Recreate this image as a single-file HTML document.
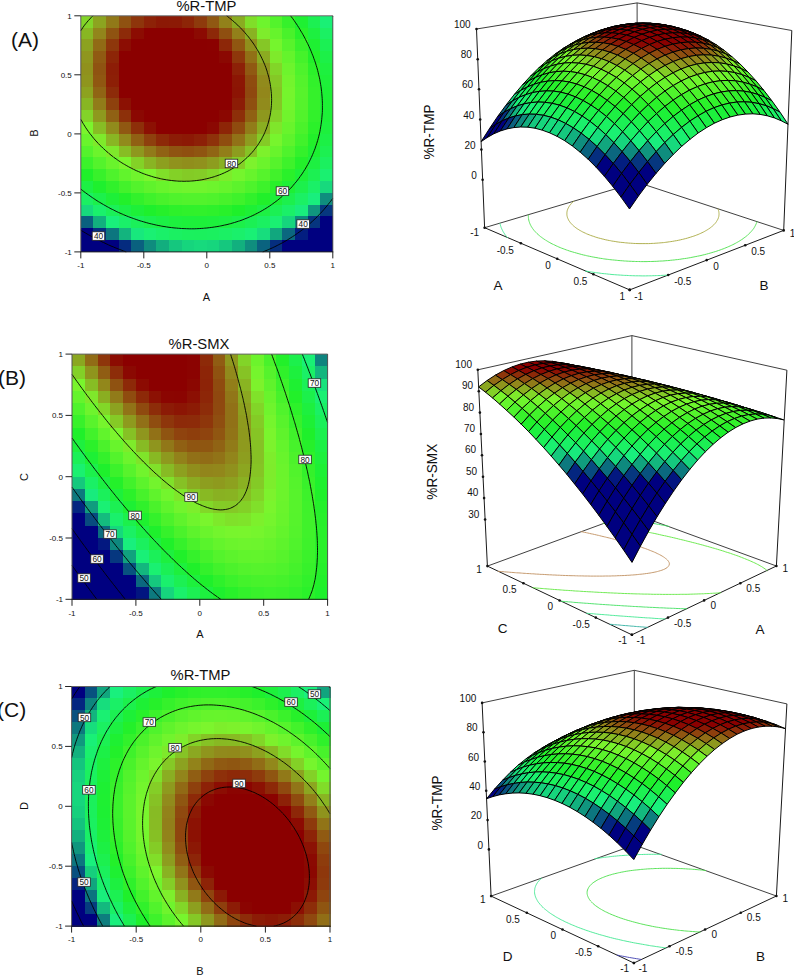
<!DOCTYPE html><html><head><meta charset="utf-8"><title>Response surfaces</title><style>html,body{margin:0;padding:0;background:#fff}body{width:794px;height:975px;overflow:hidden}</style></head><body><svg width="794" height="975" viewBox="0 0 794 975" style="display:block">
<rect x="0" y="0" width="794" height="975" fill="#ffffff"/>
<g shape-rendering="crispEdges"><rect x="80.80" y="15.80" width="13.20" height="12.40" fill="#82d428"/><rect x="93.40" y="15.80" width="13.20" height="12.40" fill="#8ca420"/><rect x="106.00" y="15.80" width="13.20" height="12.40" fill="#917918"/><rect x="118.60" y="15.80" width="13.20" height="12.40" fill="#8f5211"/><rect x="131.20" y="15.80" width="13.20" height="12.40" fill="#8e350b"/><rect x="143.80" y="15.80" width="13.20" height="12.40" fill="#8d2207"/><rect x="156.40" y="15.80" width="13.20" height="12.40" fill="#8c1905"/><rect x="169.00" y="15.80" width="13.20" height="12.40" fill="#8c1a05"/><rect x="181.60" y="15.80" width="13.20" height="12.40" fill="#8d2507"/><rect x="194.20" y="15.80" width="13.20" height="12.40" fill="#8e3a0c"/><rect x="206.80" y="15.80" width="13.20" height="12.40" fill="#905812"/><rect x="219.40" y="15.80" width="13.20" height="12.40" fill="#92811a"/><rect x="232.00" y="15.80" width="13.20" height="12.40" fill="#8aac21"/><rect x="244.60" y="15.80" width="13.20" height="12.40" fill="#80de29"/><rect x="257.20" y="15.80" width="13.20" height="12.40" fill="#6ef42d"/><rect x="269.80" y="15.80" width="13.20" height="12.40" fill="#53f32c"/><rect x="282.40" y="15.80" width="13.20" height="12.40" fill="#36f12b"/><rect x="295.00" y="15.80" width="13.20" height="12.40" fill="#1ef032"/><rect x="307.60" y="15.80" width="13.20" height="12.40" fill="#1cf052"/><rect x="320.20" y="15.80" width="13.20" height="12.40" fill="#1af075"/><rect x="80.80" y="27.61" width="13.20" height="12.40" fill="#88b723"/><rect x="93.40" y="27.61" width="13.20" height="12.40" fill="#92851b"/><rect x="106.00" y="27.61" width="13.20" height="12.40" fill="#8f5311"/><rect x="118.60" y="27.61" width="13.20" height="12.40" fill="#8d2b09"/><rect x="131.20" y="27.61" width="13.20" height="12.40" fill="#8c0c02"/><rect x="143.80" y="27.61" width="13.20" height="12.40" fill="#8b0000"/><rect x="156.40" y="27.61" width="13.20" height="12.40" fill="#8b0000"/><rect x="169.00" y="27.61" width="13.20" height="12.40" fill="#8b0000"/><rect x="181.60" y="27.61" width="13.20" height="12.40" fill="#8b0000"/><rect x="194.20" y="27.61" width="13.20" height="12.40" fill="#8c0a02"/><rect x="206.80" y="27.61" width="13.20" height="12.40" fill="#8d2808"/><rect x="219.40" y="27.61" width="13.20" height="12.40" fill="#8f4f10"/><rect x="232.00" y="27.61" width="13.20" height="12.40" fill="#92801a"/><rect x="244.60" y="27.61" width="13.20" height="12.40" fill="#89b222"/><rect x="257.20" y="27.61" width="13.20" height="12.40" fill="#7eec2c"/><rect x="269.80" y="27.61" width="13.20" height="12.40" fill="#66f42c"/><rect x="282.40" y="27.61" width="13.20" height="12.40" fill="#49f22b"/><rect x="295.00" y="27.61" width="13.20" height="12.40" fill="#28f12a"/><rect x="307.60" y="27.61" width="13.20" height="12.40" fill="#1df040"/><rect x="320.20" y="27.61" width="13.20" height="12.40" fill="#1bf063"/><rect x="80.80" y="39.41" width="13.20" height="12.40" fill="#8ca220"/><rect x="93.40" y="39.41" width="13.20" height="12.40" fill="#916b15"/><rect x="106.00" y="39.41" width="13.20" height="12.40" fill="#8e370b"/><rect x="118.60" y="39.41" width="13.20" height="12.40" fill="#8c0d03"/><rect x="131.20" y="39.41" width="13.20" height="12.40" fill="#8b0000"/><rect x="143.80" y="39.41" width="13.20" height="12.40" fill="#8b0000"/><rect x="156.40" y="39.41" width="13.20" height="12.40" fill="#8b0000"/><rect x="169.00" y="39.41" width="13.20" height="12.40" fill="#8b0000"/><rect x="181.60" y="39.41" width="13.20" height="12.40" fill="#8b0000"/><rect x="194.20" y="39.41" width="13.20" height="12.40" fill="#8b0000"/><rect x="206.80" y="39.41" width="13.20" height="12.40" fill="#8b0100"/><rect x="219.40" y="39.41" width="13.20" height="12.40" fill="#8d2708"/><rect x="232.00" y="39.41" width="13.20" height="12.40" fill="#905711"/><rect x="244.60" y="39.41" width="13.20" height="12.40" fill="#908f1c"/><rect x="257.20" y="39.41" width="13.20" height="12.40" fill="#85c726"/><rect x="269.80" y="39.41" width="13.20" height="12.40" fill="#75f52d"/><rect x="282.40" y="39.41" width="13.20" height="12.40" fill="#58f32c"/><rect x="295.00" y="39.41" width="13.20" height="12.40" fill="#38f12b"/><rect x="307.60" y="39.41" width="13.20" height="12.40" fill="#1ef032"/><rect x="320.20" y="39.41" width="13.20" height="12.40" fill="#1bf054"/><rect x="80.80" y="51.22" width="13.20" height="12.40" fill="#8f961e"/><rect x="93.40" y="51.22" width="13.20" height="12.40" fill="#905a12"/><rect x="106.00" y="51.22" width="13.20" height="12.40" fill="#8d2507"/><rect x="118.60" y="51.22" width="13.20" height="12.40" fill="#8b0000"/><rect x="131.20" y="51.22" width="13.20" height="12.40" fill="#8b0000"/><rect x="143.80" y="51.22" width="13.20" height="12.40" fill="#8b0000"/><rect x="156.40" y="51.22" width="13.20" height="12.40" fill="#8b0000"/><rect x="169.00" y="51.22" width="13.20" height="12.40" fill="#8b0000"/><rect x="181.60" y="51.22" width="13.20" height="12.40" fill="#8b0000"/><rect x="194.20" y="51.22" width="13.20" height="12.40" fill="#8b0000"/><rect x="206.80" y="51.22" width="13.20" height="12.40" fill="#8b0000"/><rect x="219.40" y="51.22" width="13.20" height="12.40" fill="#8b0802"/><rect x="232.00" y="51.22" width="13.20" height="12.40" fill="#8e370b"/><rect x="244.60" y="51.22" width="13.20" height="12.40" fill="#917016"/><rect x="257.20" y="51.22" width="13.20" height="12.40" fill="#8bab21"/><rect x="269.80" y="51.22" width="13.20" height="12.40" fill="#7eea2b"/><rect x="282.40" y="51.22" width="13.20" height="12.40" fill="#64f42c"/><rect x="295.00" y="51.22" width="13.20" height="12.40" fill="#45f22b"/><rect x="307.60" y="51.22" width="13.20" height="12.40" fill="#22f02a"/><rect x="320.20" y="51.22" width="13.20" height="12.40" fill="#1cf048"/><rect x="80.80" y="63.02" width="13.20" height="12.40" fill="#90911d"/><rect x="93.40" y="63.02" width="13.20" height="12.40" fill="#8f5311"/><rect x="106.00" y="63.02" width="13.20" height="12.40" fill="#8d1d06"/><rect x="118.60" y="63.02" width="13.20" height="12.40" fill="#8b0000"/><rect x="131.20" y="63.02" width="13.20" height="12.40" fill="#8b0000"/><rect x="143.80" y="63.02" width="13.20" height="12.40" fill="#8b0000"/><rect x="156.40" y="63.02" width="13.20" height="12.40" fill="#8b0000"/><rect x="169.00" y="63.02" width="13.20" height="12.40" fill="#8b0000"/><rect x="181.60" y="63.02" width="13.20" height="12.40" fill="#8b0000"/><rect x="194.20" y="63.02" width="13.20" height="12.40" fill="#8b0000"/><rect x="206.80" y="63.02" width="13.20" height="12.40" fill="#8b0000"/><rect x="219.40" y="63.02" width="13.20" height="12.40" fill="#8b0000"/><rect x="232.00" y="63.02" width="13.20" height="12.40" fill="#8d2107"/><rect x="244.60" y="63.02" width="13.20" height="12.40" fill="#905912"/><rect x="257.20" y="63.02" width="13.20" height="12.40" fill="#8f961e"/><rect x="269.80" y="63.02" width="13.20" height="12.40" fill="#82d528"/><rect x="282.40" y="63.02" width="13.20" height="12.40" fill="#6df42d"/><rect x="295.00" y="63.02" width="13.20" height="12.40" fill="#4ef32c"/><rect x="307.60" y="63.02" width="13.20" height="12.40" fill="#2cf12a"/><rect x="320.20" y="63.02" width="13.20" height="12.40" fill="#1df03f"/><rect x="80.80" y="74.83" width="13.20" height="12.40" fill="#8f951d"/><rect x="93.40" y="74.83" width="13.20" height="12.40" fill="#905711"/><rect x="106.00" y="74.83" width="13.20" height="12.40" fill="#8d1f06"/><rect x="118.60" y="74.83" width="13.20" height="12.40" fill="#8b0000"/><rect x="131.20" y="74.83" width="13.20" height="12.40" fill="#8b0000"/><rect x="143.80" y="74.83" width="13.20" height="12.40" fill="#8b0000"/><rect x="156.40" y="74.83" width="13.20" height="12.40" fill="#8b0000"/><rect x="169.00" y="74.83" width="13.20" height="12.40" fill="#8b0000"/><rect x="181.60" y="74.83" width="13.20" height="12.40" fill="#8b0000"/><rect x="194.20" y="74.83" width="13.20" height="12.40" fill="#8b0000"/><rect x="206.80" y="74.83" width="13.20" height="12.40" fill="#8b0000"/><rect x="219.40" y="74.83" width="13.20" height="12.40" fill="#8b0000"/><rect x="232.00" y="74.83" width="13.20" height="12.40" fill="#8c1604"/><rect x="244.60" y="74.83" width="13.20" height="12.40" fill="#8f4b0f"/><rect x="257.20" y="74.83" width="13.20" height="12.40" fill="#918a1c"/><rect x="269.80" y="74.83" width="13.20" height="12.40" fill="#85c826"/><rect x="282.40" y="74.83" width="13.20" height="12.40" fill="#73f42d"/><rect x="295.00" y="74.83" width="13.20" height="12.40" fill="#54f32c"/><rect x="307.60" y="74.83" width="13.20" height="12.40" fill="#32f12b"/><rect x="320.20" y="74.83" width="13.20" height="12.40" fill="#1df039"/><rect x="80.80" y="86.63" width="13.20" height="12.40" fill="#8da21f"/><rect x="93.40" y="86.63" width="13.20" height="12.40" fill="#906414"/><rect x="106.00" y="86.63" width="13.20" height="12.40" fill="#8d2b09"/><rect x="118.60" y="86.63" width="13.20" height="12.40" fill="#8b0000"/><rect x="131.20" y="86.63" width="13.20" height="12.40" fill="#8b0000"/><rect x="143.80" y="86.63" width="13.20" height="12.40" fill="#8b0000"/><rect x="156.40" y="86.63" width="13.20" height="12.40" fill="#8b0000"/><rect x="169.00" y="86.63" width="13.20" height="12.40" fill="#8b0000"/><rect x="181.60" y="86.63" width="13.20" height="12.40" fill="#8b0000"/><rect x="194.20" y="86.63" width="13.20" height="12.40" fill="#8b0000"/><rect x="206.80" y="86.63" width="13.20" height="12.40" fill="#8b0000"/><rect x="219.40" y="86.63" width="13.20" height="12.40" fill="#8b0000"/><rect x="232.00" y="86.63" width="13.20" height="12.40" fill="#8c1404"/><rect x="244.60" y="86.63" width="13.20" height="12.40" fill="#8f480f"/><rect x="257.20" y="86.63" width="13.20" height="12.40" fill="#92871b"/><rect x="269.80" y="86.63" width="13.20" height="12.40" fill="#86c325"/><rect x="282.40" y="86.63" width="13.20" height="12.40" fill="#75f52d"/><rect x="295.00" y="86.63" width="13.20" height="12.40" fill="#57f32c"/><rect x="307.60" y="86.63" width="13.20" height="12.40" fill="#35f12b"/><rect x="320.20" y="86.63" width="13.20" height="12.40" fill="#1df036"/><rect x="80.80" y="98.43" width="13.20" height="12.40" fill="#88b623"/><rect x="93.40" y="98.43" width="13.20" height="12.40" fill="#917c19"/><rect x="106.00" y="98.43" width="13.20" height="12.40" fill="#8e410d"/><rect x="118.60" y="98.43" width="13.20" height="12.40" fill="#8c1103"/><rect x="131.20" y="98.43" width="13.20" height="12.40" fill="#8b0000"/><rect x="143.80" y="98.43" width="13.20" height="12.40" fill="#8b0000"/><rect x="156.40" y="98.43" width="13.20" height="12.40" fill="#8b0000"/><rect x="169.00" y="98.43" width="13.20" height="12.40" fill="#8b0000"/><rect x="181.60" y="98.43" width="13.20" height="12.40" fill="#8b0000"/><rect x="194.20" y="98.43" width="13.20" height="12.40" fill="#8b0000"/><rect x="206.80" y="98.43" width="13.20" height="12.40" fill="#8b0000"/><rect x="219.40" y="98.43" width="13.20" height="12.40" fill="#8b0000"/><rect x="232.00" y="98.43" width="13.20" height="12.40" fill="#8c1c06"/><rect x="244.60" y="98.43" width="13.20" height="12.40" fill="#8f4f10"/><rect x="257.20" y="98.43" width="13.20" height="12.40" fill="#918b1c"/><rect x="269.80" y="98.43" width="13.20" height="12.40" fill="#85c625"/><rect x="282.40" y="98.43" width="13.20" height="12.40" fill="#74f52d"/><rect x="295.00" y="98.43" width="13.20" height="12.40" fill="#56f32c"/><rect x="307.60" y="98.43" width="13.20" height="12.40" fill="#35f12b"/><rect x="320.20" y="98.43" width="13.20" height="12.40" fill="#1df035"/><rect x="80.80" y="110.24" width="13.20" height="12.40" fill="#83d328"/><rect x="93.40" y="110.24" width="13.20" height="12.40" fill="#8e991e"/><rect x="106.00" y="110.24" width="13.20" height="12.40" fill="#906114"/><rect x="118.60" y="110.24" width="13.20" height="12.40" fill="#8d300a"/><rect x="131.20" y="110.24" width="13.20" height="12.40" fill="#8b0802"/><rect x="143.80" y="110.24" width="13.20" height="12.40" fill="#8b0000"/><rect x="156.40" y="110.24" width="13.20" height="12.40" fill="#8b0000"/><rect x="169.00" y="110.24" width="13.20" height="12.40" fill="#8b0000"/><rect x="181.60" y="110.24" width="13.20" height="12.40" fill="#8b0000"/><rect x="194.20" y="110.24" width="13.20" height="12.40" fill="#8b0000"/><rect x="206.80" y="110.24" width="13.20" height="12.40" fill="#8b0000"/><rect x="219.40" y="110.24" width="13.20" height="12.40" fill="#8b0701"/><rect x="232.00" y="110.24" width="13.20" height="12.40" fill="#8d2f09"/><rect x="244.60" y="110.24" width="13.20" height="12.40" fill="#906113"/><rect x="257.20" y="110.24" width="13.20" height="12.40" fill="#8e981e"/><rect x="269.80" y="110.24" width="13.20" height="12.40" fill="#83d227"/><rect x="282.40" y="110.24" width="13.20" height="12.40" fill="#70f42d"/><rect x="295.00" y="110.24" width="13.20" height="12.40" fill="#52f32c"/><rect x="307.60" y="110.24" width="13.20" height="12.40" fill="#32f12b"/><rect x="320.20" y="110.24" width="13.20" height="12.40" fill="#1df038"/><rect x="80.80" y="122.05" width="13.20" height="12.40" fill="#7bf52d"/><rect x="93.40" y="122.05" width="13.20" height="12.40" fill="#87bd24"/><rect x="106.00" y="122.05" width="13.20" height="12.40" fill="#918b1c"/><rect x="118.60" y="122.05" width="13.20" height="12.40" fill="#905812"/><rect x="131.20" y="122.05" width="13.20" height="12.40" fill="#8d2f09"/><rect x="143.80" y="122.05" width="13.20" height="12.40" fill="#8c1003"/><rect x="156.40" y="122.05" width="13.20" height="12.40" fill="#8b0000"/><rect x="169.00" y="122.05" width="13.20" height="12.40" fill="#8b0000"/><rect x="181.60" y="122.05" width="13.20" height="12.40" fill="#8b0000"/><rect x="194.20" y="122.05" width="13.20" height="12.40" fill="#8b0000"/><rect x="206.80" y="122.05" width="13.20" height="12.40" fill="#8b0802"/><rect x="219.40" y="122.05" width="13.20" height="12.40" fill="#8d2507"/><rect x="232.00" y="122.05" width="13.20" height="12.40" fill="#8f4b0f"/><rect x="244.60" y="122.05" width="13.20" height="12.40" fill="#917c19"/><rect x="257.20" y="122.05" width="13.20" height="12.40" fill="#8aae21"/><rect x="269.80" y="122.05" width="13.20" height="12.40" fill="#7fe62b"/><rect x="282.40" y="122.05" width="13.20" height="12.40" fill="#68f42c"/><rect x="295.00" y="122.05" width="13.20" height="12.40" fill="#4bf22b"/><rect x="307.60" y="122.05" width="13.20" height="12.40" fill="#2bf12a"/><rect x="320.20" y="122.05" width="13.20" height="12.40" fill="#1df03d"/><rect x="80.80" y="133.85" width="13.20" height="12.40" fill="#69f42c"/><rect x="93.40" y="133.85" width="13.20" height="12.40" fill="#7eea2b"/><rect x="106.00" y="133.85" width="13.20" height="12.40" fill="#89b623"/><rect x="118.60" y="133.85" width="13.20" height="12.40" fill="#918a1c"/><rect x="131.20" y="133.85" width="13.20" height="12.40" fill="#906013"/><rect x="143.80" y="133.85" width="13.20" height="12.40" fill="#8e400d"/><rect x="156.40" y="133.85" width="13.20" height="12.40" fill="#8d2908"/><rect x="169.00" y="133.85" width="13.20" height="12.40" fill="#8c1c06"/><rect x="181.60" y="133.85" width="13.20" height="12.40" fill="#8c1905"/><rect x="194.20" y="133.85" width="13.20" height="12.40" fill="#8d2007"/><rect x="206.80" y="133.85" width="13.20" height="12.40" fill="#8e320a"/><rect x="219.40" y="133.85" width="13.20" height="12.40" fill="#8f4d0f"/><rect x="232.00" y="133.85" width="13.20" height="12.40" fill="#917217"/><rect x="244.60" y="133.85" width="13.20" height="12.40" fill="#8e9c1f"/><rect x="257.20" y="133.85" width="13.20" height="12.40" fill="#84cb26"/><rect x="269.80" y="133.85" width="13.20" height="12.40" fill="#77f52d"/><rect x="282.40" y="133.85" width="13.20" height="12.40" fill="#5ef32c"/><rect x="295.00" y="133.85" width="13.20" height="12.40" fill="#41f22b"/><rect x="307.60" y="133.85" width="13.20" height="12.40" fill="#22f02a"/><rect x="320.20" y="133.85" width="13.20" height="12.40" fill="#1cf046"/><rect x="80.80" y="145.66" width="13.20" height="12.40" fill="#54f32c"/><rect x="93.40" y="145.66" width="13.20" height="12.40" fill="#6cf42c"/><rect x="106.00" y="145.66" width="13.20" height="12.40" fill="#7ee92b"/><rect x="118.60" y="145.66" width="13.20" height="12.40" fill="#87bd24"/><rect x="131.20" y="145.66" width="13.20" height="12.40" fill="#8e981e"/><rect x="143.80" y="145.66" width="13.20" height="12.40" fill="#917a19"/><rect x="156.40" y="145.66" width="13.20" height="12.40" fill="#906214"/><rect x="169.00" y="145.66" width="13.20" height="12.40" fill="#8f5311"/><rect x="181.60" y="145.66" width="13.20" height="12.40" fill="#8f4f10"/><rect x="194.20" y="145.66" width="13.20" height="12.40" fill="#8f5511"/><rect x="206.80" y="145.66" width="13.20" height="12.40" fill="#906514"/><rect x="219.40" y="145.66" width="13.20" height="12.40" fill="#927e19"/><rect x="232.00" y="145.66" width="13.20" height="12.40" fill="#8d9d1f"/><rect x="244.60" y="145.66" width="13.20" height="12.40" fill="#86c325"/><rect x="257.20" y="145.66" width="13.20" height="12.40" fill="#7df12c"/><rect x="269.80" y="145.66" width="13.20" height="12.40" fill="#68f42c"/><rect x="282.40" y="145.66" width="13.20" height="12.40" fill="#4ff32c"/><rect x="295.00" y="145.66" width="13.20" height="12.40" fill="#34f12b"/><rect x="307.60" y="145.66" width="13.20" height="12.40" fill="#1df032"/><rect x="320.20" y="145.66" width="13.20" height="12.40" fill="#1cf051"/><rect x="80.80" y="157.46" width="13.20" height="12.40" fill="#3bf22b"/><rect x="93.40" y="157.46" width="13.20" height="12.40" fill="#54f32c"/><rect x="106.00" y="157.46" width="13.20" height="12.40" fill="#69f42c"/><rect x="118.60" y="157.46" width="13.20" height="12.40" fill="#7bf52d"/><rect x="131.20" y="157.46" width="13.20" height="12.40" fill="#83d227"/><rect x="143.80" y="157.46" width="13.20" height="12.40" fill="#89b423"/><rect x="156.40" y="157.46" width="13.20" height="12.40" fill="#8d9f1f"/><rect x="169.00" y="157.46" width="13.20" height="12.40" fill="#90921d"/><rect x="181.60" y="157.46" width="13.20" height="12.40" fill="#908e1c"/><rect x="194.20" y="157.46" width="13.20" height="12.40" fill="#90911d"/><rect x="206.80" y="157.46" width="13.20" height="12.40" fill="#8d9d1f"/><rect x="219.40" y="157.46" width="13.20" height="12.40" fill="#89b122"/><rect x="232.00" y="157.46" width="13.20" height="12.40" fill="#84ce27"/><rect x="244.60" y="157.46" width="13.20" height="12.40" fill="#7df22d"/><rect x="257.20" y="157.46" width="13.20" height="12.40" fill="#6bf42c"/><rect x="269.80" y="157.46" width="13.20" height="12.40" fill="#56f32c"/><rect x="282.40" y="157.46" width="13.20" height="12.40" fill="#3ef22b"/><rect x="295.00" y="157.46" width="13.20" height="12.40" fill="#23f02a"/><rect x="307.60" y="157.46" width="13.20" height="12.40" fill="#1df041"/><rect x="320.20" y="157.46" width="13.20" height="12.40" fill="#1bf05f"/><rect x="80.80" y="169.27" width="13.20" height="12.40" fill="#1ff02a"/><rect x="93.40" y="169.27" width="13.20" height="12.40" fill="#38f12b"/><rect x="106.00" y="169.27" width="13.20" height="12.40" fill="#4ef32c"/><rect x="118.60" y="169.27" width="13.20" height="12.40" fill="#61f42c"/><rect x="131.20" y="169.27" width="13.20" height="12.40" fill="#70f42d"/><rect x="143.80" y="169.27" width="13.20" height="12.40" fill="#7cf52d"/><rect x="156.40" y="169.27" width="13.20" height="12.40" fill="#80df29"/><rect x="169.00" y="169.27" width="13.20" height="12.40" fill="#83d127"/><rect x="181.60" y="169.27" width="13.20" height="12.40" fill="#84cb26"/><rect x="194.20" y="169.27" width="13.20" height="12.40" fill="#84cd27"/><rect x="206.80" y="169.27" width="13.20" height="12.40" fill="#82d828"/><rect x="219.40" y="169.27" width="13.20" height="12.40" fill="#7eeb2b"/><rect x="232.00" y="169.27" width="13.20" height="12.40" fill="#75f52d"/><rect x="244.60" y="169.27" width="13.20" height="12.40" fill="#67f42c"/><rect x="257.20" y="169.27" width="13.20" height="12.40" fill="#56f32c"/><rect x="269.80" y="169.27" width="13.20" height="12.40" fill="#41f22b"/><rect x="282.40" y="169.27" width="13.20" height="12.40" fill="#2af12a"/><rect x="295.00" y="169.27" width="13.20" height="12.40" fill="#1df038"/><rect x="307.60" y="169.27" width="13.20" height="12.40" fill="#1cf052"/><rect x="320.20" y="169.27" width="13.20" height="12.40" fill="#1af070"/><rect x="80.80" y="181.07" width="13.20" height="12.40" fill="#1cf044"/><rect x="93.40" y="181.07" width="13.20" height="12.40" fill="#1ef02e"/><rect x="106.00" y="181.07" width="13.20" height="12.40" fill="#30f12b"/><rect x="118.60" y="181.07" width="13.20" height="12.40" fill="#43f22b"/><rect x="131.20" y="181.07" width="13.20" height="12.40" fill="#53f32c"/><rect x="143.80" y="181.07" width="13.20" height="12.40" fill="#5ff32c"/><rect x="156.40" y="181.07" width="13.20" height="12.40" fill="#68f42c"/><rect x="169.00" y="181.07" width="13.20" height="12.40" fill="#6ef42d"/><rect x="181.60" y="181.07" width="13.20" height="12.40" fill="#71f42d"/><rect x="194.20" y="181.07" width="13.20" height="12.40" fill="#71f42d"/><rect x="206.80" y="181.07" width="13.20" height="12.40" fill="#6df42d"/><rect x="219.40" y="181.07" width="13.20" height="12.40" fill="#66f42c"/><rect x="232.00" y="181.07" width="13.20" height="12.40" fill="#5cf32c"/><rect x="244.60" y="181.07" width="13.20" height="12.40" fill="#4ef32c"/><rect x="257.20" y="181.07" width="13.20" height="12.40" fill="#3df22b"/><rect x="269.80" y="181.07" width="13.20" height="12.40" fill="#29f12a"/><rect x="282.40" y="181.07" width="13.20" height="12.40" fill="#1df035"/><rect x="295.00" y="181.07" width="13.20" height="12.40" fill="#1cf04c"/><rect x="307.60" y="181.07" width="13.20" height="12.40" fill="#1af067"/><rect x="320.20" y="181.07" width="13.20" height="12.40" fill="#17d97d"/><rect x="80.80" y="192.88" width="13.20" height="12.40" fill="#1bf062"/><rect x="93.40" y="192.88" width="13.20" height="12.40" fill="#1cf04c"/><rect x="106.00" y="192.88" width="13.20" height="12.40" fill="#1df038"/><rect x="118.60" y="192.88" width="13.20" height="12.40" fill="#22f02a"/><rect x="131.20" y="192.88" width="13.20" height="12.40" fill="#32f12b"/><rect x="143.80" y="192.88" width="13.20" height="12.40" fill="#3ff22b"/><rect x="156.40" y="192.88" width="13.20" height="12.40" fill="#49f22b"/><rect x="169.00" y="192.88" width="13.20" height="12.40" fill="#4ff32c"/><rect x="181.60" y="192.88" width="13.20" height="12.40" fill="#52f32c"/><rect x="194.20" y="192.88" width="13.20" height="12.40" fill="#52f32c"/><rect x="206.80" y="192.88" width="13.20" height="12.40" fill="#4ff32c"/><rect x="219.40" y="192.88" width="13.20" height="12.40" fill="#48f22b"/><rect x="232.00" y="192.88" width="13.20" height="12.40" fill="#3ff22b"/><rect x="244.60" y="192.88" width="13.20" height="12.40" fill="#31f12b"/><rect x="257.20" y="192.88" width="13.20" height="12.40" fill="#21f02a"/><rect x="269.80" y="192.88" width="13.20" height="12.40" fill="#1df039"/><rect x="282.40" y="192.88" width="13.20" height="12.40" fill="#1cf04d"/><rect x="295.00" y="192.88" width="13.20" height="12.40" fill="#1bf064"/><rect x="307.60" y="192.88" width="13.20" height="12.40" fill="#19ee7d"/><rect x="320.20" y="192.88" width="13.20" height="12.40" fill="#0f8d7e"/><rect x="80.80" y="204.68" width="13.20" height="12.40" fill="#17da7d"/><rect x="93.40" y="204.68" width="13.20" height="12.40" fill="#1af06c"/><rect x="106.00" y="204.68" width="13.20" height="12.40" fill="#1bf058"/><rect x="118.60" y="204.68" width="13.20" height="12.40" fill="#1cf046"/><rect x="131.20" y="204.68" width="13.20" height="12.40" fill="#1df038"/><rect x="143.80" y="204.68" width="13.20" height="12.40" fill="#1ef02c"/><rect x="156.40" y="204.68" width="13.20" height="12.40" fill="#26f02a"/><rect x="169.00" y="204.68" width="13.20" height="12.40" fill="#2df12a"/><rect x="181.60" y="204.68" width="13.20" height="12.40" fill="#30f12b"/><rect x="194.20" y="204.68" width="13.20" height="12.40" fill="#31f12b"/><rect x="206.80" y="204.68" width="13.20" height="12.40" fill="#2ef12b"/><rect x="219.40" y="204.68" width="13.20" height="12.40" fill="#28f12a"/><rect x="232.00" y="204.68" width="13.20" height="12.40" fill="#1ef02a"/><rect x="244.60" y="204.68" width="13.20" height="12.40" fill="#1df035"/><rect x="257.20" y="204.68" width="13.20" height="12.40" fill="#1df043"/><rect x="269.80" y="204.68" width="13.20" height="12.40" fill="#1bf054"/><rect x="282.40" y="204.68" width="13.20" height="12.40" fill="#1af068"/><rect x="295.00" y="204.68" width="13.20" height="12.40" fill="#19ec7d"/><rect x="307.60" y="204.68" width="13.20" height="12.40" fill="#10967e"/><rect x="320.20" y="204.68" width="13.20" height="12.40" fill="#06377f"/><rect x="80.80" y="216.49" width="13.20" height="12.40" fill="#0a617f"/><rect x="93.40" y="216.49" width="13.20" height="12.40" fill="#12b07e"/><rect x="106.00" y="216.49" width="13.20" height="12.40" fill="#19f07b"/><rect x="118.60" y="216.49" width="13.20" height="12.40" fill="#1af069"/><rect x="131.20" y="216.49" width="13.20" height="12.40" fill="#1bf05a"/><rect x="143.80" y="216.49" width="13.20" height="12.40" fill="#1cf04e"/><rect x="156.40" y="216.49" width="13.20" height="12.40" fill="#1cf045"/><rect x="169.00" y="216.49" width="13.20" height="12.40" fill="#1df03e"/><rect x="181.60" y="216.49" width="13.20" height="12.40" fill="#1df03b"/><rect x="194.20" y="216.49" width="13.20" height="12.40" fill="#1df03a"/><rect x="206.80" y="216.49" width="13.20" height="12.40" fill="#1df03c"/><rect x="219.40" y="216.49" width="13.20" height="12.40" fill="#1df041"/><rect x="232.00" y="216.49" width="13.20" height="12.40" fill="#1cf049"/><rect x="244.60" y="216.49" width="13.20" height="12.40" fill="#1bf054"/><rect x="257.20" y="216.49" width="13.20" height="12.40" fill="#1bf061"/><rect x="269.80" y="216.49" width="13.20" height="12.40" fill="#1af072"/><rect x="282.40" y="216.49" width="13.20" height="12.40" fill="#16d47d"/><rect x="295.00" y="216.49" width="13.20" height="12.40" fill="#0e8a7e"/><rect x="307.60" y="216.49" width="13.20" height="12.40" fill="#06357f"/><rect x="320.20" y="216.49" width="13.20" height="12.40" fill="#000080"/><rect x="80.80" y="228.29" width="13.20" height="12.40" fill="#000080"/><rect x="93.40" y="228.29" width="13.20" height="12.40" fill="#052f7f"/><rect x="106.00" y="228.29" width="13.20" height="12.40" fill="#0c767f"/><rect x="118.60" y="228.29" width="13.20" height="12.40" fill="#13b47e"/><rect x="131.20" y="228.29" width="13.20" height="12.40" fill="#18e87d"/><rect x="143.80" y="228.29" width="13.20" height="12.40" fill="#1af073"/><rect x="156.40" y="228.29" width="13.20" height="12.40" fill="#1af069"/><rect x="169.00" y="228.29" width="13.20" height="12.40" fill="#1bf062"/><rect x="181.60" y="228.29" width="13.20" height="12.40" fill="#1bf05e"/><rect x="194.20" y="228.29" width="13.20" height="12.40" fill="#1bf05d"/><rect x="206.80" y="228.29" width="13.20" height="12.40" fill="#1bf05f"/><rect x="219.40" y="228.29" width="13.20" height="12.40" fill="#1bf064"/><rect x="232.00" y="228.29" width="13.20" height="12.40" fill="#1af06b"/><rect x="244.60" y="228.29" width="13.20" height="12.40" fill="#19f075"/><rect x="257.20" y="228.29" width="13.20" height="12.40" fill="#17dd7d"/><rect x="269.80" y="228.29" width="13.20" height="12.40" fill="#11a77e"/><rect x="282.40" y="228.29" width="13.20" height="12.40" fill="#0b677f"/><rect x="295.00" y="228.29" width="13.20" height="12.40" fill="#031e80"/><rect x="307.60" y="228.29" width="13.20" height="12.40" fill="#000080"/><rect x="320.20" y="228.29" width="13.20" height="12.40" fill="#000080"/><rect x="80.80" y="240.09" width="13.20" height="12.40" fill="#000080"/><rect x="93.40" y="240.09" width="13.20" height="12.40" fill="#000080"/><rect x="106.00" y="240.09" width="13.20" height="12.40" fill="#000080"/><rect x="118.60" y="240.09" width="13.20" height="12.40" fill="#052b7f"/><rect x="131.20" y="240.09" width="13.20" height="12.40" fill="#0a617f"/><rect x="143.80" y="240.09" width="13.20" height="12.40" fill="#0f8c7e"/><rect x="156.40" y="240.09" width="13.20" height="12.40" fill="#12ae7e"/><rect x="169.00" y="240.09" width="13.20" height="12.40" fill="#15c77e"/><rect x="181.60" y="240.09" width="13.20" height="12.40" fill="#16d57d"/><rect x="194.20" y="240.09" width="13.20" height="12.40" fill="#17da7d"/><rect x="206.80" y="240.09" width="13.20" height="12.40" fill="#16d67d"/><rect x="219.40" y="240.09" width="13.20" height="12.40" fill="#15c87e"/><rect x="232.00" y="240.09" width="13.20" height="12.40" fill="#12b07e"/><rect x="244.60" y="240.09" width="13.20" height="12.40" fill="#0f8e7e"/><rect x="257.20" y="240.09" width="13.20" height="12.40" fill="#0a637f"/><rect x="269.80" y="240.09" width="13.20" height="12.40" fill="#052e7f"/><rect x="282.40" y="240.09" width="13.20" height="12.40" fill="#000080"/><rect x="295.00" y="240.09" width="13.20" height="12.40" fill="#000080"/><rect x="307.60" y="240.09" width="13.20" height="12.40" fill="#000080"/><rect x="320.20" y="240.09" width="13.20" height="12.40" fill="#000080"/></g>
<path d="M126.2,251.9 L126.2,251.9 L123.6,251.0 L121.1,250.0 L119.8,249.5 L118.6,249.1 L116.1,248.1 L113.9,247.2 L113.6,247.0 L111.0,246.0 L108.5,244.9 L108.4,244.8 L106.0,243.7 L103.5,242.5 L103.3,242.5 L101.0,241.3 L98.5,240.1 L98.4,240.1 L95.9,238.8 L93.9,237.7 L93.4,237.4 L90.9,236.1 L89.6,235.4 L88.4,234.7 L85.8,233.2 L85.5,233.0 L83.3,231.7 L81.6,230.7 L80.8,230.1" fill="none" stroke="#000" stroke-width="0.9"/>
<path d="M262.8,251.9 L264.8,251.1 L267.3,250.1 L268.6,249.5 L269.8,249.0 L272.3,247.9 L273.8,247.2 L274.8,246.7 L277.4,245.4 L278.5,244.8 L279.9,244.1 L282.4,242.8 L283.0,242.5 L284.9,241.4 L287.1,240.1 L287.4,239.9 L290.0,238.3 L290.9,237.7 L292.5,236.7 L294.5,235.4 L295.0,235.1 L297.5,233.3 L297.9,233.0 L300.0,231.5 L301.2,230.7 L302.6,229.6 L304.2,228.3 L305.1,227.6 L307.1,225.9 L307.6,225.5 L309.9,223.6 L310.1,223.4 L312.5,221.2 L312.6,221.1 L315.0,218.8 L315.2,218.7 L317.4,216.5 L317.7,216.2 L319.7,214.1 L320.2,213.6 L321.9,211.8 L322.7,210.9 L324.0,209.4 L325.2,208.0 L326.0,207.0 L327.8,204.9 L327.9,204.7 L329.8,202.3 L330.3,201.7 L331.6,200.0 L332.8,198.2" fill="none" stroke="#000" stroke-width="0.9"/>
<path d="M332.8,16.6 L332.3,15.8" fill="none" stroke="#000" stroke-width="0.9"/>
<path d="M80.8,189.1 L82.6,190.5 L83.3,191.1 L85.7,192.9 L85.8,193.0 L88.4,194.8 L88.9,195.2 L90.9,196.6 L92.3,197.6 L93.4,198.3 L95.9,200.0 L95.9,200.0 L98.4,201.6 L99.6,202.3 L101.0,203.1 L103.5,204.6 L103.6,204.7 L106.0,206.0 L107.8,207.0 L108.5,207.4 L111.0,208.8 L112.3,209.4 L113.6,210.0 L116.1,211.3 L117.1,211.8 L118.6,212.5 L121.1,213.6 L122.3,214.1 L123.6,214.7 L126.2,215.8 L128.0,216.5 L128.7,216.8 L131.2,217.7 L133.7,218.6 L134.3,218.8 L136.2,219.5 L138.8,220.4 L141.3,221.2 L141.4,221.2 L143.8,221.9 L146.3,222.6 L148.8,223.3 L149.9,223.6 L151.4,223.9 L153.9,224.5 L156.4,225.1 L158.9,225.6 L160.7,225.9 L161.4,226.1 L164.0,226.5 L166.5,226.9 L169.0,227.3 L171.5,227.6 L174.0,227.9 L176.6,228.1 L178.5,228.3 L179.1,228.3 L181.6,228.5 L184.1,228.6 L186.6,228.7 L189.2,228.8 L191.7,228.8 L194.2,228.8 L196.7,228.7 L199.2,228.6 L201.8,228.4 L203.6,228.3 L204.3,228.2 L206.8,228.0 L209.3,227.7 L211.8,227.4 L214.4,227.0 L216.9,226.6 L219.4,226.2 L220.7,225.9 L221.9,225.7 L224.4,225.1 L227.0,224.6 L229.5,223.9 L230.8,223.6 L232.0,223.2 L234.5,222.5 L237.0,221.7 L238.5,221.2 L239.6,220.9 L242.1,220.0 L244.6,219.0 L245.0,218.8 L247.1,218.0 L249.6,216.9 L250.6,216.5 L252.2,215.8 L254.7,214.6 L255.6,214.1 L257.2,213.3 L259.7,212.0 L260.1,211.8 L262.2,210.6 L264.2,209.4 L264.8,209.1 L267.3,207.5 L268.0,207.0 L269.8,205.9 L271.5,204.7 L272.3,204.1 L274.8,202.3 L274.8,202.3 L277.4,200.4 L277.9,200.0 L279.9,198.3 L280.7,197.6 L282.4,196.2 L283.4,195.2 L284.9,193.9 L286.0,192.9 L287.4,191.5 L288.4,190.5 L290.0,188.9 L290.7,188.2 L292.5,186.2 L292.8,185.8 L294.8,183.4 L295.0,183.2 L296.8,181.1 L297.5,180.1 L298.6,178.7 L300.0,176.8 L300.3,176.3 L302.0,174.0 L302.6,173.1 L303.5,171.6 L305.0,169.3 L305.1,169.2 L306.4,166.9 L307.6,164.8 L307.8,164.5 L309.0,162.2 L310.1,160.0 L310.2,159.8 L311.3,157.5 L312.4,155.1 L312.6,154.5 L313.4,152.7 L314.3,150.4 L315.2,148.2 L315.2,148.0 L316.0,145.7 L316.8,143.3 L317.5,140.9 L317.7,140.4 L318.2,138.6 L318.8,136.2 L319.4,133.9 L319.9,131.5 L320.2,129.8 L320.3,129.1 L320.7,126.8 L321.1,124.4 L321.4,122.0 L321.7,119.7 L321.9,117.3 L322.1,115.0 L322.3,112.6 L322.4,110.2 L322.4,107.9 L322.4,105.5 L322.4,103.2 L322.3,100.8 L322.2,98.4 L322.0,96.1 L321.8,93.7 L321.6,91.4 L321.3,89.0 L321.0,86.6 L320.6,84.3 L320.2,81.9 L320.2,81.8 L319.8,79.5 L319.3,77.2 L318.7,74.8 L318.2,72.5 L317.7,70.6 L317.6,70.1 L316.9,67.7 L316.2,65.4 L315.5,63.0 L315.2,62.1 L314.7,60.7 L313.8,58.3 L313.0,55.9 L312.6,55.1 L312.0,53.6 L311.1,51.2 L310.1,49.0 L310.1,48.9 L309.0,46.5 L307.9,44.1 L307.6,43.5 L306.7,41.8 L305.5,39.4 L305.1,38.5 L304.3,37.0 L303.0,34.7 L302.6,33.9 L301.6,32.3 L300.2,30.0 L300.0,29.6 L298.8,27.6 L297.5,25.6 L297.3,25.2 L295.7,22.9 L295.0,21.9 L294.1,20.5 L292.5,18.3 L292.4,18.2 L290.6,15.8" fill="none" stroke="#000" stroke-width="0.9"/>
<path d="M80.8,119.4 L81.0,119.7 L82.3,122.0 L83.3,123.8 L83.7,124.4 L85.2,126.8 L85.8,127.8 L86.7,129.1 L88.4,131.5 L88.4,131.5 L90.1,133.9 L90.9,134.8 L92.0,136.2 L93.4,138.0 L93.9,138.6 L95.9,140.9 L96.0,140.9 L98.1,143.3 L98.4,143.6 L100.4,145.7 L101.0,146.2 L102.8,148.0 L103.5,148.6 L105.4,150.4 L106.0,150.9 L108.1,152.7 L108.5,153.1 L111.0,155.1 L111.0,155.2 L113.6,157.1 L114.0,157.5 L116.1,158.9 L117.3,159.8 L118.6,160.7 L120.9,162.2 L121.1,162.4 L123.6,163.9 L124.7,164.5 L126.2,165.4 L128.7,166.8 L128.8,166.9 L131.2,168.1 L133.4,169.3 L133.7,169.4 L136.2,170.6 L138.6,171.6 L138.8,171.7 L141.3,172.8 L143.8,173.8 L144.4,174.0 L146.3,174.7 L148.8,175.5 L151.4,176.3 L151.4,176.3 L153.9,177.1 L156.4,177.7 L158.9,178.3 L160.6,178.7 L161.4,178.9 L164.0,179.4 L166.5,179.8 L169.0,180.2 L171.5,180.5 L174.0,180.8 L176.6,181.0 L177.6,181.1 L179.1,181.2 L181.6,181.2 L184.1,181.3 L186.6,181.2 L189.2,181.2 L190.6,181.1 L191.7,181.0 L194.2,180.8 L196.7,180.5 L199.2,180.2 L201.8,179.8 L204.3,179.3 L206.8,178.7 L207.0,178.7 L209.3,178.1 L211.8,177.4 L214.4,176.7 L215.3,176.3 L216.9,175.8 L219.4,174.9 L221.7,174.0 L221.9,173.9 L224.4,172.8 L226.9,171.6 L227.0,171.6 L229.5,170.3 L231.3,169.3 L232.0,168.9 L234.5,167.3 L235.2,166.9 L237.0,165.7 L238.6,164.5 L239.6,163.9 L241.8,162.2 L242.1,161.9 L244.6,159.8 L244.6,159.8 L247.1,157.5 L247.2,157.5 L249.6,155.1 L249.6,155.0 L251.8,152.7 L252.2,152.3 L253.8,150.4 L254.7,149.2 L255.6,148.0 L257.2,145.9 L257.4,145.7 L258.9,143.3 L259.7,142.1 L260.4,140.9 L261.8,138.6 L262.2,137.7 L263.0,136.2 L264.2,133.9 L264.8,132.5 L265.2,131.5 L266.2,129.1 L267.0,126.8 L267.3,126.0 L267.8,124.4 L268.5,122.0 L269.1,119.7 L269.7,117.3 L269.8,116.8 L270.2,115.0 L270.6,112.6 L270.9,110.2 L271.2,107.9 L271.4,105.5 L271.5,103.2 L271.6,100.8 L271.6,98.4 L271.5,96.1 L271.4,93.7 L271.2,91.4 L270.9,89.0 L270.6,86.6 L270.3,84.3 L269.8,81.9 L269.8,81.8 L269.3,79.5 L268.8,77.2 L268.1,74.8 L267.4,72.5 L267.3,71.9 L266.7,70.1 L265.9,67.7 L265.0,65.4 L264.8,64.8 L264.0,63.0 L263.0,60.7 L262.2,59.0 L261.9,58.3 L260.7,55.9 L259.7,54.0 L259.5,53.6 L258.2,51.2 L257.2,49.5 L256.8,48.9 L255.3,46.5 L254.7,45.5 L253.8,44.1 L252.2,41.8 L252.1,41.8 L250.4,39.4 L249.6,38.4 L248.6,37.0 L247.1,35.3 L246.6,34.7 L244.6,32.3 L244.6,32.3 L242.5,30.0 L242.1,29.6 L240.2,27.6 L239.6,27.0 L237.8,25.2 L237.0,24.5 L235.2,22.9 L234.5,22.2 L232.5,20.5 L232.0,20.1 L229.7,18.2 L229.5,18.0 L227.0,16.0 L226.6,15.8" fill="none" stroke="#000" stroke-width="0.9"/>
<path d="M80.8,30.7 L81.3,30.0 L82.8,27.6 L83.3,26.9 L84.5,25.2 L85.8,23.6 L86.4,22.9 L88.4,20.5 L88.4,20.5 L90.6,18.2 L90.9,17.8 L92.9,15.8" fill="none" stroke="#000" stroke-width="0.9"/>
<path d="M80.8,15.8 L332.8,15.8" stroke="#666" stroke-width="1" fill="none"/>
<path d="M80.8,15.8 L80.8,251.9" stroke="#555" stroke-width="1" fill="none"/>
<path d="M332.8,15.8 L332.8,251.9" stroke="#555" stroke-width="1" fill="none"/>
<path d="M80.3,251.9 L333.3,251.9" stroke="#222" stroke-width="1" fill="none"/>
<path d="M80.8,251.9 L80.8,258.4" stroke="#222" stroke-width="1"/>
<text x="80.8" y="268.2" font-size="8" text-anchor="middle" font-family="Liberation Sans, sans-serif" fill="#111">-1</text>
<path d="M74.3,251.9 L80.8,251.9" stroke="#222" stroke-width="1"/>
<text x="71.8" y="254.8" font-size="8" text-anchor="end" font-family="Liberation Sans, sans-serif" fill="#111">-1</text>
<path d="M143.8,251.9 L143.8,258.4" stroke="#222" stroke-width="1"/>
<text x="143.8" y="268.2" font-size="8" text-anchor="middle" font-family="Liberation Sans, sans-serif" fill="#111">-0.5</text>
<path d="M74.3,192.9 L80.8,192.9" stroke="#222" stroke-width="1"/>
<text x="71.8" y="195.8" font-size="8" text-anchor="end" font-family="Liberation Sans, sans-serif" fill="#111">-0.5</text>
<path d="M206.8,251.9 L206.8,258.4" stroke="#222" stroke-width="1"/>
<text x="206.8" y="268.2" font-size="8" text-anchor="middle" font-family="Liberation Sans, sans-serif" fill="#111">0</text>
<path d="M74.3,133.9 L80.8,133.9" stroke="#222" stroke-width="1"/>
<text x="71.8" y="136.8" font-size="8" text-anchor="end" font-family="Liberation Sans, sans-serif" fill="#111">0</text>
<path d="M269.8,251.9 L269.8,258.4" stroke="#222" stroke-width="1"/>
<text x="269.8" y="268.2" font-size="8" text-anchor="middle" font-family="Liberation Sans, sans-serif" fill="#111">0.5</text>
<path d="M74.3,74.8 L80.8,74.8" stroke="#222" stroke-width="1"/>
<text x="71.8" y="77.7" font-size="8" text-anchor="end" font-family="Liberation Sans, sans-serif" fill="#111">0.5</text>
<path d="M332.8,251.9 L332.8,258.4" stroke="#222" stroke-width="1"/>
<text x="332.8" y="268.2" font-size="8" text-anchor="middle" font-family="Liberation Sans, sans-serif" fill="#111">1</text>
<path d="M74.3,15.8 L80.8,15.8" stroke="#222" stroke-width="1"/>
<text x="71.8" y="18.7" font-size="8" text-anchor="end" font-family="Liberation Sans, sans-serif" fill="#111">1</text>
<rect x="225.2" y="159.2" width="12.5" height="8.5" fill="#fff" stroke="#222" stroke-width="0.8"/>
<text x="231.5" y="166.5" font-size="8.3" text-anchor="middle" font-family="Liberation Sans, sans-serif" fill="#111">80</text>
<rect x="276.2" y="186.8" width="12.5" height="8.5" fill="#fff" stroke="#222" stroke-width="0.8"/>
<text x="282.5" y="194.0" font-size="8.3" text-anchor="middle" font-family="Liberation Sans, sans-serif" fill="#111">60</text>
<rect x="296.9" y="219.8" width="12.5" height="8.5" fill="#fff" stroke="#222" stroke-width="0.8"/>
<text x="303.2" y="227.0" font-size="8.3" text-anchor="middle" font-family="Liberation Sans, sans-serif" fill="#111">40</text>
<rect x="92.2" y="231.8" width="12.5" height="8.5" fill="#fff" stroke="#222" stroke-width="0.8"/>
<text x="98.5" y="239.0" font-size="8.3" text-anchor="middle" font-family="Liberation Sans, sans-serif" fill="#111">40</text>
<text x="206.4" y="10.6" font-size="14.8" text-anchor="middle" font-family="Liberation Sans, sans-serif" fill="#111">%R-TMP</text>
<text x="206.5" y="300.5" font-size="11" text-anchor="middle" font-family="Liberation Sans, sans-serif" fill="#111">A</text>
<text transform="translate(38,133) rotate(-90)" font-size="11" text-anchor="middle" font-family="Liberation Sans, sans-serif" fill="#111">B</text>
<text x="11" y="46.5" font-size="21" font-family="Liberation Sans, sans-serif" fill="#111">(A)</text>
<g shape-rendering="crispEdges"><rect x="72.00" y="354.10" width="13.38" height="12.86" fill="#8ba720"/><rect x="84.78" y="354.10" width="13.38" height="12.86" fill="#916c16"/><rect x="97.56" y="354.10" width="13.38" height="12.86" fill="#8e360b"/><rect x="110.34" y="354.10" width="13.38" height="12.86" fill="#8c0c02"/><rect x="123.12" y="354.10" width="13.38" height="12.86" fill="#8b0000"/><rect x="135.90" y="354.10" width="13.38" height="12.86" fill="#8b0000"/><rect x="148.68" y="354.10" width="13.38" height="12.86" fill="#8b0000"/><rect x="161.46" y="354.10" width="13.38" height="12.86" fill="#8b0000"/><rect x="174.24" y="354.10" width="13.38" height="12.86" fill="#8b0000"/><rect x="187.02" y="354.10" width="13.38" height="12.86" fill="#8b0301"/><rect x="199.80" y="354.10" width="13.38" height="12.86" fill="#8d2a08"/><rect x="212.58" y="354.10" width="13.38" height="12.86" fill="#905c13"/><rect x="225.36" y="354.10" width="13.38" height="12.86" fill="#8f971e"/><rect x="238.14" y="354.10" width="13.38" height="12.86" fill="#82d428"/><rect x="250.92" y="354.10" width="13.38" height="12.86" fill="#6cf42c"/><rect x="263.70" y="354.10" width="13.38" height="12.86" fill="#49f22b"/><rect x="276.48" y="354.10" width="13.38" height="12.86" fill="#22f02a"/><rect x="289.26" y="354.10" width="13.38" height="12.86" fill="#1cf04c"/><rect x="302.04" y="354.10" width="13.38" height="12.86" fill="#19f075"/><rect x="314.82" y="354.10" width="13.38" height="12.86" fill="#0e847e"/><rect x="72.00" y="366.36" width="13.38" height="12.86" fill="#83d027"/><rect x="84.78" y="366.36" width="13.38" height="12.86" fill="#8f951d"/><rect x="97.56" y="366.36" width="13.38" height="12.86" fill="#905d13"/><rect x="110.34" y="366.36" width="13.38" height="12.86" fill="#8d2d09"/><rect x="123.12" y="366.36" width="13.38" height="12.86" fill="#8b0902"/><rect x="135.90" y="366.36" width="13.38" height="12.86" fill="#8b0000"/><rect x="148.68" y="366.36" width="13.38" height="12.86" fill="#8b0000"/><rect x="161.46" y="366.36" width="13.38" height="12.86" fill="#8b0000"/><rect x="174.24" y="366.36" width="13.38" height="12.86" fill="#8b0000"/><rect x="187.02" y="366.36" width="13.38" height="12.86" fill="#8b0301"/><rect x="199.80" y="366.36" width="13.38" height="12.86" fill="#8d2507"/><rect x="212.58" y="366.36" width="13.38" height="12.86" fill="#8f5210"/><rect x="225.36" y="366.36" width="13.38" height="12.86" fill="#918a1c"/><rect x="238.14" y="366.36" width="13.38" height="12.86" fill="#86c325"/><rect x="250.92" y="366.36" width="13.38" height="12.86" fill="#75f52d"/><rect x="263.70" y="366.36" width="13.38" height="12.86" fill="#55f32c"/><rect x="276.48" y="366.36" width="13.38" height="12.86" fill="#30f12b"/><rect x="289.26" y="366.36" width="13.38" height="12.86" fill="#1df03e"/><rect x="302.04" y="366.36" width="13.38" height="12.86" fill="#1af066"/><rect x="314.82" y="366.36" width="13.38" height="12.86" fill="#13b67e"/><rect x="72.00" y="378.62" width="13.38" height="12.86" fill="#79f52d"/><rect x="84.78" y="378.62" width="13.38" height="12.86" fill="#87bd24"/><rect x="97.56" y="378.62" width="13.38" height="12.86" fill="#92871b"/><rect x="110.34" y="378.62" width="13.38" height="12.86" fill="#8f5211"/><rect x="123.12" y="378.62" width="13.38" height="12.86" fill="#8d2908"/><rect x="135.90" y="378.62" width="13.38" height="12.86" fill="#8c0b02"/><rect x="148.68" y="378.62" width="13.38" height="12.86" fill="#8b0000"/><rect x="161.46" y="378.62" width="13.38" height="12.86" fill="#8b0000"/><rect x="174.24" y="378.62" width="13.38" height="12.86" fill="#8b0000"/><rect x="187.02" y="378.62" width="13.38" height="12.86" fill="#8b0701"/><rect x="199.80" y="378.62" width="13.38" height="12.86" fill="#8d2307"/><rect x="212.58" y="378.62" width="13.38" height="12.86" fill="#8f4b0f"/><rect x="225.36" y="378.62" width="13.38" height="12.86" fill="#927e19"/><rect x="238.14" y="378.62" width="13.38" height="12.86" fill="#89b422"/><rect x="250.92" y="378.62" width="13.38" height="12.86" fill="#7df22c"/><rect x="263.70" y="378.62" width="13.38" height="12.86" fill="#5ff32c"/><rect x="276.48" y="378.62" width="13.38" height="12.86" fill="#3cf22b"/><rect x="289.26" y="378.62" width="13.38" height="12.86" fill="#1ef032"/><rect x="302.04" y="378.62" width="13.38" height="12.86" fill="#1bf058"/><rect x="314.82" y="378.62" width="13.38" height="12.86" fill="#18e37d"/><rect x="72.00" y="390.88" width="13.38" height="12.86" fill="#65f42c"/><rect x="84.78" y="390.88" width="13.38" height="12.86" fill="#7fe82b"/><rect x="97.56" y="390.88" width="13.38" height="12.86" fill="#8aae21"/><rect x="110.34" y="390.88" width="13.38" height="12.86" fill="#917b19"/><rect x="123.12" y="390.88" width="13.38" height="12.86" fill="#8f4c0f"/><rect x="135.90" y="390.88" width="13.38" height="12.86" fill="#8d2908"/><rect x="148.68" y="390.88" width="13.38" height="12.86" fill="#8c1103"/><rect x="161.46" y="390.88" width="13.38" height="12.86" fill="#8b0501"/><rect x="174.24" y="390.88" width="13.38" height="12.86" fill="#8b0401"/><rect x="187.02" y="390.88" width="13.38" height="12.86" fill="#8c0f03"/><rect x="199.80" y="390.88" width="13.38" height="12.86" fill="#8d2608"/><rect x="212.58" y="390.88" width="13.38" height="12.86" fill="#8f480f"/><rect x="225.36" y="390.88" width="13.38" height="12.86" fill="#917618"/><rect x="238.14" y="390.88" width="13.38" height="12.86" fill="#8ba821"/><rect x="250.92" y="390.88" width="13.38" height="12.86" fill="#80e22a"/><rect x="263.70" y="390.88" width="13.38" height="12.86" fill="#68f42c"/><rect x="276.48" y="390.88" width="13.38" height="12.86" fill="#47f22b"/><rect x="289.26" y="390.88" width="13.38" height="12.86" fill="#22f02a"/><rect x="302.04" y="390.88" width="13.38" height="12.86" fill="#1cf04b"/><rect x="314.82" y="390.88" width="13.38" height="12.86" fill="#1af073"/><rect x="72.00" y="403.14" width="13.38" height="12.86" fill="#4ff32c"/><rect x="84.78" y="403.14" width="13.38" height="12.86" fill="#6ef42d"/><rect x="97.56" y="403.14" width="13.38" height="12.86" fill="#82d728"/><rect x="110.34" y="403.14" width="13.38" height="12.86" fill="#8ca220"/><rect x="123.12" y="403.14" width="13.38" height="12.86" fill="#917317"/><rect x="135.90" y="403.14" width="13.38" height="12.86" fill="#8f4a0f"/><rect x="148.68" y="403.14" width="13.38" height="12.86" fill="#8d2d09"/><rect x="161.46" y="403.14" width="13.38" height="12.86" fill="#8c1b06"/><rect x="174.24" y="403.14" width="13.38" height="12.86" fill="#8c1504"/><rect x="187.02" y="403.14" width="13.38" height="12.86" fill="#8c1b05"/><rect x="199.80" y="403.14" width="13.38" height="12.86" fill="#8d2c09"/><rect x="212.58" y="403.14" width="13.38" height="12.86" fill="#8f490f"/><rect x="225.36" y="403.14" width="13.38" height="12.86" fill="#917117"/><rect x="238.14" y="403.14" width="13.38" height="12.86" fill="#8da01f"/><rect x="250.92" y="403.14" width="13.38" height="12.86" fill="#82d528"/><rect x="263.70" y="403.14" width="13.38" height="12.86" fill="#6ff42d"/><rect x="276.48" y="403.14" width="13.38" height="12.86" fill="#50f32c"/><rect x="289.26" y="403.14" width="13.38" height="12.86" fill="#2df12a"/><rect x="302.04" y="403.14" width="13.38" height="12.86" fill="#1df03f"/><rect x="314.82" y="403.14" width="13.38" height="12.86" fill="#1af065"/><rect x="72.00" y="415.40" width="13.38" height="12.86" fill="#38f12b"/><rect x="84.78" y="415.40" width="13.38" height="12.86" fill="#59f32c"/><rect x="97.56" y="415.40" width="13.38" height="12.86" fill="#76f52d"/><rect x="110.34" y="415.40" width="13.38" height="12.86" fill="#85ca26"/><rect x="123.12" y="415.40" width="13.38" height="12.86" fill="#8e9a1e"/><rect x="135.90" y="415.40" width="13.38" height="12.86" fill="#917017"/><rect x="148.68" y="415.40" width="13.38" height="12.86" fill="#8f4d10"/><rect x="161.46" y="415.40" width="13.38" height="12.86" fill="#8e360b"/><rect x="174.24" y="415.40" width="13.38" height="12.86" fill="#8d2a09"/><rect x="187.02" y="415.40" width="13.38" height="12.86" fill="#8d2b09"/><rect x="199.80" y="415.40" width="13.38" height="12.86" fill="#8e360b"/><rect x="212.58" y="415.40" width="13.38" height="12.86" fill="#8f4e10"/><rect x="225.36" y="415.40" width="13.38" height="12.86" fill="#917117"/><rect x="238.14" y="415.40" width="13.38" height="12.86" fill="#8e9b1e"/><rect x="250.92" y="415.40" width="13.38" height="12.86" fill="#84cb26"/><rect x="263.70" y="415.40" width="13.38" height="12.86" fill="#75f52d"/><rect x="276.48" y="415.40" width="13.38" height="12.86" fill="#58f32c"/><rect x="289.26" y="415.40" width="13.38" height="12.86" fill="#37f12b"/><rect x="302.04" y="415.40" width="13.38" height="12.86" fill="#1df035"/><rect x="314.82" y="415.40" width="13.38" height="12.86" fill="#1bf059"/><rect x="72.00" y="427.66" width="13.38" height="12.86" fill="#20f02a"/><rect x="84.78" y="427.66" width="13.38" height="12.86" fill="#42f22b"/><rect x="97.56" y="427.66" width="13.38" height="12.86" fill="#61f42c"/><rect x="110.34" y="427.66" width="13.38" height="12.86" fill="#7cf52d"/><rect x="123.12" y="427.66" width="13.38" height="12.86" fill="#86c125"/><rect x="135.90" y="427.66" width="13.38" height="12.86" fill="#8f961e"/><rect x="148.68" y="427.66" width="13.38" height="12.86" fill="#917117"/><rect x="161.46" y="427.66" width="13.38" height="12.86" fill="#8f5411"/><rect x="174.24" y="427.66" width="13.38" height="12.86" fill="#8f430e"/><rect x="187.02" y="427.66" width="13.38" height="12.86" fill="#8e3e0c"/><rect x="199.80" y="427.66" width="13.38" height="12.86" fill="#8f440e"/><rect x="212.58" y="427.66" width="13.38" height="12.86" fill="#905611"/><rect x="225.36" y="427.66" width="13.38" height="12.86" fill="#917417"/><rect x="238.14" y="427.66" width="13.38" height="12.86" fill="#8e991e"/><rect x="250.92" y="427.66" width="13.38" height="12.86" fill="#86c525"/><rect x="263.70" y="427.66" width="13.38" height="12.86" fill="#7af52d"/><rect x="276.48" y="427.66" width="13.38" height="12.86" fill="#5ff32c"/><rect x="289.26" y="427.66" width="13.38" height="12.86" fill="#40f22b"/><rect x="302.04" y="427.66" width="13.38" height="12.86" fill="#1ef02b"/><rect x="314.82" y="427.66" width="13.38" height="12.86" fill="#1cf04e"/><rect x="72.00" y="439.92" width="13.38" height="12.86" fill="#1df03f"/><rect x="84.78" y="439.92" width="13.38" height="12.86" fill="#2bf12a"/><rect x="97.56" y="439.92" width="13.38" height="12.86" fill="#4bf22b"/><rect x="110.34" y="439.92" width="13.38" height="12.86" fill="#68f42c"/><rect x="123.12" y="439.92" width="13.38" height="12.86" fill="#7eeb2b"/><rect x="135.90" y="439.92" width="13.38" height="12.86" fill="#87bb24"/><rect x="148.68" y="439.92" width="13.38" height="12.86" fill="#8f951e"/><rect x="161.46" y="439.92" width="13.38" height="12.86" fill="#917718"/><rect x="174.24" y="439.92" width="13.38" height="12.86" fill="#906013"/><rect x="187.02" y="439.92" width="13.38" height="12.86" fill="#8f5511"/><rect x="199.80" y="439.92" width="13.38" height="12.86" fill="#8f5611"/><rect x="212.58" y="439.92" width="13.38" height="12.86" fill="#906314"/><rect x="225.36" y="439.92" width="13.38" height="12.86" fill="#917b19"/><rect x="238.14" y="439.92" width="13.38" height="12.86" fill="#8e9a1e"/><rect x="250.92" y="439.92" width="13.38" height="12.86" fill="#86c125"/><rect x="263.70" y="439.92" width="13.38" height="12.86" fill="#7df22d"/><rect x="276.48" y="439.92" width="13.38" height="12.86" fill="#64f42c"/><rect x="289.26" y="439.92" width="13.38" height="12.86" fill="#47f22b"/><rect x="302.04" y="439.92" width="13.38" height="12.86" fill="#26f02a"/><rect x="314.82" y="439.92" width="13.38" height="12.86" fill="#1cf044"/><rect x="72.00" y="452.18" width="13.38" height="12.86" fill="#1bf057"/><rect x="84.78" y="452.18" width="13.38" height="12.86" fill="#1df035"/><rect x="97.56" y="452.18" width="13.38" height="12.86" fill="#34f12b"/><rect x="110.34" y="452.18" width="13.38" height="12.86" fill="#53f32c"/><rect x="123.12" y="452.18" width="13.38" height="12.86" fill="#6df42d"/><rect x="135.90" y="452.18" width="13.38" height="12.86" fill="#7fe42a"/><rect x="148.68" y="452.18" width="13.38" height="12.86" fill="#88b923"/><rect x="161.46" y="452.18" width="13.38" height="12.86" fill="#8e991e"/><rect x="174.24" y="452.18" width="13.38" height="12.86" fill="#92811a"/><rect x="187.02" y="452.18" width="13.38" height="12.86" fill="#917017"/><rect x="199.80" y="452.18" width="13.38" height="12.86" fill="#916c16"/><rect x="212.58" y="452.18" width="13.38" height="12.86" fill="#917317"/><rect x="225.36" y="452.18" width="13.38" height="12.86" fill="#92851b"/><rect x="238.14" y="452.18" width="13.38" height="12.86" fill="#8d9e1f"/><rect x="250.92" y="452.18" width="13.38" height="12.86" fill="#86c125"/><rect x="263.70" y="452.18" width="13.38" height="12.86" fill="#7eed2c"/><rect x="276.48" y="452.18" width="13.38" height="12.86" fill="#68f42c"/><rect x="289.26" y="452.18" width="13.38" height="12.86" fill="#4df22b"/><rect x="302.04" y="452.18" width="13.38" height="12.86" fill="#2ef12a"/><rect x="314.82" y="452.18" width="13.38" height="12.86" fill="#1df03c"/><rect x="72.00" y="464.44" width="13.38" height="12.86" fill="#1af070"/><rect x="84.78" y="464.44" width="13.38" height="12.86" fill="#1cf04c"/><rect x="97.56" y="464.44" width="13.38" height="12.86" fill="#1ef02c"/><rect x="110.34" y="464.44" width="13.38" height="12.86" fill="#3cf22b"/><rect x="123.12" y="464.44" width="13.38" height="12.86" fill="#58f32c"/><rect x="135.90" y="464.44" width="13.38" height="12.86" fill="#71f42d"/><rect x="148.68" y="464.44" width="13.38" height="12.86" fill="#80e12a"/><rect x="161.46" y="464.44" width="13.38" height="12.86" fill="#87bb24"/><rect x="174.24" y="464.44" width="13.38" height="12.86" fill="#8da01f"/><rect x="187.02" y="464.44" width="13.38" height="12.86" fill="#908e1c"/><rect x="199.80" y="464.44" width="13.38" height="12.86" fill="#92851b"/><rect x="212.58" y="464.44" width="13.38" height="12.86" fill="#92871b"/><rect x="225.36" y="464.44" width="13.38" height="12.86" fill="#90911d"/><rect x="238.14" y="464.44" width="13.38" height="12.86" fill="#8ca620"/><rect x="250.92" y="464.44" width="13.38" height="12.86" fill="#86c425"/><rect x="263.70" y="464.44" width="13.38" height="12.86" fill="#7eec2c"/><rect x="276.48" y="464.44" width="13.38" height="12.86" fill="#6bf42c"/><rect x="289.26" y="464.44" width="13.38" height="12.86" fill="#51f32c"/><rect x="302.04" y="464.44" width="13.38" height="12.86" fill="#34f12b"/><rect x="314.82" y="464.44" width="13.38" height="12.86" fill="#1df034"/><rect x="72.00" y="476.70" width="13.38" height="12.86" fill="#15c87d"/><rect x="84.78" y="476.70" width="13.38" height="12.86" fill="#1af065"/><rect x="97.56" y="476.70" width="13.38" height="12.86" fill="#1cf043"/><rect x="110.34" y="476.70" width="13.38" height="12.86" fill="#24f02a"/><rect x="123.12" y="476.70" width="13.38" height="12.86" fill="#42f22b"/><rect x="135.90" y="476.70" width="13.38" height="12.86" fill="#5cf32c"/><rect x="148.68" y="476.70" width="13.38" height="12.86" fill="#73f42d"/><rect x="161.46" y="476.70" width="13.38" height="12.86" fill="#80e12a"/><rect x="174.24" y="476.70" width="13.38" height="12.86" fill="#86c125"/><rect x="187.02" y="476.70" width="13.38" height="12.86" fill="#8bab21"/><rect x="199.80" y="476.70" width="13.38" height="12.86" fill="#8d9e1f"/><rect x="212.58" y="476.70" width="13.38" height="12.86" fill="#8e9a1e"/><rect x="225.36" y="476.70" width="13.38" height="12.86" fill="#8da11f"/><rect x="238.14" y="476.70" width="13.38" height="12.86" fill="#8ab122"/><rect x="250.92" y="476.70" width="13.38" height="12.86" fill="#84ca26"/><rect x="263.70" y="476.70" width="13.38" height="12.86" fill="#7ded2c"/><rect x="276.48" y="476.70" width="13.38" height="12.86" fill="#6cf42c"/><rect x="289.26" y="476.70" width="13.38" height="12.86" fill="#55f32c"/><rect x="302.04" y="476.70" width="13.38" height="12.86" fill="#39f12b"/><rect x="314.82" y="476.70" width="13.38" height="12.86" fill="#1ef02e"/><rect x="72.00" y="488.96" width="13.38" height="12.86" fill="#0d797e"/><rect x="84.78" y="488.96" width="13.38" height="12.86" fill="#18eb7d"/><rect x="97.56" y="488.96" width="13.38" height="12.86" fill="#1bf05b"/><rect x="110.34" y="488.96" width="13.38" height="12.86" fill="#1df03b"/><rect x="123.12" y="488.96" width="13.38" height="12.86" fill="#2bf12a"/><rect x="135.90" y="488.96" width="13.38" height="12.86" fill="#47f22b"/><rect x="148.68" y="488.96" width="13.38" height="12.86" fill="#5ff32c"/><rect x="161.46" y="488.96" width="13.38" height="12.86" fill="#73f52d"/><rect x="174.24" y="488.96" width="13.38" height="12.86" fill="#7fe62b"/><rect x="187.02" y="488.96" width="13.38" height="12.86" fill="#84cb26"/><rect x="199.80" y="488.96" width="13.38" height="12.86" fill="#88b923"/><rect x="212.58" y="488.96" width="13.38" height="12.86" fill="#89b122"/><rect x="225.36" y="488.96" width="13.38" height="12.86" fill="#89b322"/><rect x="238.14" y="488.96" width="13.38" height="12.86" fill="#87bf24"/><rect x="250.92" y="488.96" width="13.38" height="12.86" fill="#83d428"/><rect x="263.70" y="488.96" width="13.38" height="12.86" fill="#7df22d"/><rect x="276.48" y="488.96" width="13.38" height="12.86" fill="#6cf42c"/><rect x="289.26" y="488.96" width="13.38" height="12.86" fill="#57f32c"/><rect x="302.04" y="488.96" width="13.38" height="12.86" fill="#3df22b"/><rect x="314.82" y="488.96" width="13.38" height="12.86" fill="#1ff02a"/><rect x="72.00" y="501.22" width="13.38" height="12.86" fill="#042680"/><rect x="84.78" y="501.22" width="13.38" height="12.86" fill="#109c7e"/><rect x="97.56" y="501.22" width="13.38" height="12.86" fill="#1af074"/><rect x="110.34" y="501.22" width="13.38" height="12.86" fill="#1cf053"/><rect x="123.12" y="501.22" width="13.38" height="12.86" fill="#1df034"/><rect x="135.90" y="501.22" width="13.38" height="12.86" fill="#30f12b"/><rect x="148.68" y="501.22" width="13.38" height="12.86" fill="#4af22b"/><rect x="161.46" y="501.22" width="13.38" height="12.86" fill="#60f42c"/><rect x="174.24" y="501.22" width="13.38" height="12.86" fill="#72f42d"/><rect x="187.02" y="501.22" width="13.38" height="12.86" fill="#7dee2c"/><rect x="199.80" y="501.22" width="13.38" height="12.86" fill="#82d828"/><rect x="212.58" y="501.22" width="13.38" height="12.86" fill="#84cb26"/><rect x="225.36" y="501.22" width="13.38" height="12.86" fill="#85c926"/><rect x="238.14" y="501.22" width="13.38" height="12.86" fill="#83d027"/><rect x="250.92" y="501.22" width="13.38" height="12.86" fill="#80e02a"/><rect x="263.70" y="501.22" width="13.38" height="12.86" fill="#7af52d"/><rect x="276.48" y="501.22" width="13.38" height="12.86" fill="#6af42c"/><rect x="289.26" y="501.22" width="13.38" height="12.86" fill="#57f32c"/><rect x="302.04" y="501.22" width="13.38" height="12.86" fill="#3ff22b"/><rect x="314.82" y="501.22" width="13.38" height="12.86" fill="#24f02a"/><rect x="72.00" y="513.48" width="13.38" height="12.86" fill="#000080"/><rect x="84.78" y="513.48" width="13.38" height="12.86" fill="#084b7f"/><rect x="97.56" y="513.48" width="13.38" height="12.86" fill="#14bc7e"/><rect x="110.34" y="513.48" width="13.38" height="12.86" fill="#1af06b"/><rect x="123.12" y="513.48" width="13.38" height="12.86" fill="#1cf04c"/><rect x="135.90" y="513.48" width="13.38" height="12.86" fill="#1ef02f"/><rect x="148.68" y="513.48" width="13.38" height="12.86" fill="#34f12b"/><rect x="161.46" y="513.48" width="13.38" height="12.86" fill="#4cf22b"/><rect x="174.24" y="513.48" width="13.38" height="12.86" fill="#5ff32c"/><rect x="187.02" y="513.48" width="13.38" height="12.86" fill="#6ff42d"/><rect x="199.80" y="513.48" width="13.38" height="12.86" fill="#7af52d"/><rect x="212.58" y="513.48" width="13.38" height="12.86" fill="#7ee92b"/><rect x="225.36" y="513.48" width="13.38" height="12.86" fill="#80e12a"/><rect x="238.14" y="513.48" width="13.38" height="12.86" fill="#7fe42a"/><rect x="250.92" y="513.48" width="13.38" height="12.86" fill="#7df02c"/><rect x="263.70" y="513.48" width="13.38" height="12.86" fill="#75f52d"/><rect x="276.48" y="513.48" width="13.38" height="12.86" fill="#68f42c"/><rect x="289.26" y="513.48" width="13.38" height="12.86" fill="#56f32c"/><rect x="302.04" y="513.48" width="13.38" height="12.86" fill="#40f22b"/><rect x="314.82" y="513.48" width="13.38" height="12.86" fill="#27f02a"/><rect x="72.00" y="525.74" width="13.38" height="12.86" fill="#000080"/><rect x="84.78" y="525.74" width="13.38" height="12.86" fill="#000080"/><rect x="97.56" y="525.74" width="13.38" height="12.86" fill="#0b6c7f"/><rect x="110.34" y="525.74" width="13.38" height="12.86" fill="#16d87d"/><rect x="123.12" y="525.74" width="13.38" height="12.86" fill="#1bf064"/><rect x="135.90" y="525.74" width="13.38" height="12.86" fill="#1cf046"/><rect x="148.68" y="525.74" width="13.38" height="12.86" fill="#1ef02c"/><rect x="161.46" y="525.74" width="13.38" height="12.86" fill="#36f12b"/><rect x="174.24" y="525.74" width="13.38" height="12.86" fill="#4bf22b"/><rect x="187.02" y="525.74" width="13.38" height="12.86" fill="#5df32c"/><rect x="199.80" y="525.74" width="13.38" height="12.86" fill="#6af42c"/><rect x="212.58" y="525.74" width="13.38" height="12.86" fill="#73f52d"/><rect x="225.36" y="525.74" width="13.38" height="12.86" fill="#78f52d"/><rect x="238.14" y="525.74" width="13.38" height="12.86" fill="#79f52d"/><rect x="250.92" y="525.74" width="13.38" height="12.86" fill="#76f52d"/><rect x="263.70" y="525.74" width="13.38" height="12.86" fill="#6ff42d"/><rect x="276.48" y="525.74" width="13.38" height="12.86" fill="#63f42c"/><rect x="289.26" y="525.74" width="13.38" height="12.86" fill="#54f32c"/><rect x="302.04" y="525.74" width="13.38" height="12.86" fill="#40f22b"/><rect x="314.82" y="525.74" width="13.38" height="12.86" fill="#28f12a"/><rect x="72.00" y="538.00" width="13.38" height="12.86" fill="#000080"/><rect x="84.78" y="538.00" width="13.38" height="12.86" fill="#000080"/><rect x="97.56" y="538.00" width="13.38" height="12.86" fill="#031880"/><rect x="110.34" y="538.00" width="13.38" height="12.86" fill="#0e897e"/><rect x="123.12" y="538.00" width="13.38" height="12.86" fill="#19ef7d"/><rect x="135.90" y="538.00" width="13.38" height="12.86" fill="#1bf05e"/><rect x="148.68" y="538.00" width="13.38" height="12.86" fill="#1df042"/><rect x="161.46" y="538.00" width="13.38" height="12.86" fill="#1ff02a"/><rect x="174.24" y="538.00" width="13.38" height="12.86" fill="#36f12b"/><rect x="187.02" y="538.00" width="13.38" height="12.86" fill="#4af22b"/><rect x="199.80" y="538.00" width="13.38" height="12.86" fill="#59f32c"/><rect x="212.58" y="538.00" width="13.38" height="12.86" fill="#64f42c"/><rect x="225.36" y="538.00" width="13.38" height="12.86" fill="#6bf42c"/><rect x="238.14" y="538.00" width="13.38" height="12.86" fill="#6ef42d"/><rect x="250.92" y="538.00" width="13.38" height="12.86" fill="#6df42d"/><rect x="263.70" y="538.00" width="13.38" height="12.86" fill="#67f42c"/><rect x="276.48" y="538.00" width="13.38" height="12.86" fill="#5ef32c"/><rect x="289.26" y="538.00" width="13.38" height="12.86" fill="#50f32c"/><rect x="302.04" y="538.00" width="13.38" height="12.86" fill="#3ef22b"/><rect x="314.82" y="538.00" width="13.38" height="12.86" fill="#29f12a"/><rect x="72.00" y="550.26" width="13.38" height="12.86" fill="#000080"/><rect x="84.78" y="550.26" width="13.38" height="12.86" fill="#000080"/><rect x="97.56" y="550.26" width="13.38" height="12.86" fill="#000080"/><rect x="110.34" y="550.26" width="13.38" height="12.86" fill="#06377f"/><rect x="123.12" y="550.26" width="13.38" height="12.86" fill="#11a27e"/><rect x="135.90" y="550.26" width="13.38" height="12.86" fill="#19f077"/><rect x="148.68" y="550.26" width="13.38" height="12.86" fill="#1bf059"/><rect x="161.46" y="550.26" width="13.38" height="12.86" fill="#1df03f"/><rect x="174.24" y="550.26" width="13.38" height="12.86" fill="#20f02a"/><rect x="187.02" y="550.26" width="13.38" height="12.86" fill="#35f12b"/><rect x="199.80" y="550.26" width="13.38" height="12.86" fill="#46f22b"/><rect x="212.58" y="550.26" width="13.38" height="12.86" fill="#54f32c"/><rect x="225.36" y="550.26" width="13.38" height="12.86" fill="#5cf32c"/><rect x="238.14" y="550.26" width="13.38" height="12.86" fill="#61f42c"/><rect x="250.92" y="550.26" width="13.38" height="12.86" fill="#62f42c"/><rect x="263.70" y="550.26" width="13.38" height="12.86" fill="#5ff32c"/><rect x="276.48" y="550.26" width="13.38" height="12.86" fill="#57f32c"/><rect x="289.26" y="550.26" width="13.38" height="12.86" fill="#4bf22b"/><rect x="302.04" y="550.26" width="13.38" height="12.86" fill="#3bf22b"/><rect x="314.82" y="550.26" width="13.38" height="12.86" fill="#28f12a"/><rect x="72.00" y="562.52" width="13.38" height="12.86" fill="#000080"/><rect x="84.78" y="562.52" width="13.38" height="12.86" fill="#000080"/><rect x="97.56" y="562.52" width="13.38" height="12.86" fill="#000080"/><rect x="110.34" y="562.52" width="13.38" height="12.86" fill="#000080"/><rect x="123.12" y="562.52" width="13.38" height="12.86" fill="#08527f"/><rect x="135.90" y="562.52" width="13.38" height="12.86" fill="#13b77e"/><rect x="148.68" y="562.52" width="13.38" height="12.86" fill="#1af071"/><rect x="161.46" y="562.52" width="13.38" height="12.86" fill="#1bf055"/><rect x="174.24" y="562.52" width="13.38" height="12.86" fill="#1df03d"/><rect x="187.02" y="562.52" width="13.38" height="12.86" fill="#1ff02a"/><rect x="199.80" y="562.52" width="13.38" height="12.86" fill="#33f12b"/><rect x="212.58" y="562.52" width="13.38" height="12.86" fill="#42f22b"/><rect x="225.36" y="562.52" width="13.38" height="12.86" fill="#4cf22b"/><rect x="238.14" y="562.52" width="13.38" height="12.86" fill="#53f32c"/><rect x="250.92" y="562.52" width="13.38" height="12.86" fill="#56f32c"/><rect x="263.70" y="562.52" width="13.38" height="12.86" fill="#54f32c"/><rect x="276.48" y="562.52" width="13.38" height="12.86" fill="#4ff32c"/><rect x="289.26" y="562.52" width="13.38" height="12.86" fill="#45f22b"/><rect x="302.04" y="562.52" width="13.38" height="12.86" fill="#37f12b"/><rect x="314.82" y="562.52" width="13.38" height="12.86" fill="#25f02a"/><rect x="72.00" y="574.78" width="13.38" height="12.86" fill="#000080"/><rect x="84.78" y="574.78" width="13.38" height="12.86" fill="#000080"/><rect x="97.56" y="574.78" width="13.38" height="12.86" fill="#000080"/><rect x="110.34" y="574.78" width="13.38" height="12.86" fill="#000080"/><rect x="123.12" y="574.78" width="13.38" height="12.86" fill="#000080"/><rect x="135.90" y="574.78" width="13.38" height="12.86" fill="#0b687f"/><rect x="148.68" y="574.78" width="13.38" height="12.86" fill="#15c87e"/><rect x="161.46" y="574.78" width="13.38" height="12.86" fill="#1af06d"/><rect x="174.24" y="574.78" width="13.38" height="12.86" fill="#1cf053"/><rect x="187.02" y="574.78" width="13.38" height="12.86" fill="#1df03d"/><rect x="199.80" y="574.78" width="13.38" height="12.86" fill="#1ef02b"/><rect x="212.58" y="574.78" width="13.38" height="12.86" fill="#2ef12b"/><rect x="225.36" y="574.78" width="13.38" height="12.86" fill="#3bf22b"/><rect x="238.14" y="574.78" width="13.38" height="12.86" fill="#44f22b"/><rect x="250.92" y="574.78" width="13.38" height="12.86" fill="#48f22b"/><rect x="263.70" y="574.78" width="13.38" height="12.86" fill="#49f22b"/><rect x="276.48" y="574.78" width="13.38" height="12.86" fill="#45f22b"/><rect x="289.26" y="574.78" width="13.38" height="12.86" fill="#3df22b"/><rect x="302.04" y="574.78" width="13.38" height="12.86" fill="#31f12b"/><rect x="314.82" y="574.78" width="13.38" height="12.86" fill="#21f02a"/><rect x="72.00" y="587.04" width="13.38" height="12.86" fill="#000080"/><rect x="84.78" y="587.04" width="13.38" height="12.86" fill="#000080"/><rect x="97.56" y="587.04" width="13.38" height="12.86" fill="#000080"/><rect x="110.34" y="587.04" width="13.38" height="12.86" fill="#000080"/><rect x="123.12" y="587.04" width="13.38" height="12.86" fill="#000080"/><rect x="135.90" y="587.04" width="13.38" height="12.86" fill="#021580"/><rect x="148.68" y="587.04" width="13.38" height="12.86" fill="#0d7a7e"/><rect x="161.46" y="587.04" width="13.38" height="12.86" fill="#16d57d"/><rect x="174.24" y="587.04" width="13.38" height="12.86" fill="#1af06b"/><rect x="187.02" y="587.04" width="13.38" height="12.86" fill="#1cf053"/><rect x="199.80" y="587.04" width="13.38" height="12.86" fill="#1df03f"/><rect x="212.58" y="587.04" width="13.38" height="12.86" fill="#1ef02e"/><rect x="225.36" y="587.04" width="13.38" height="12.86" fill="#28f12a"/><rect x="238.14" y="587.04" width="13.38" height="12.86" fill="#33f12b"/><rect x="250.92" y="587.04" width="13.38" height="12.86" fill="#39f12b"/><rect x="263.70" y="587.04" width="13.38" height="12.86" fill="#3cf22b"/><rect x="276.48" y="587.04" width="13.38" height="12.86" fill="#3af12b"/><rect x="289.26" y="587.04" width="13.38" height="12.86" fill="#34f12b"/><rect x="302.04" y="587.04" width="13.38" height="12.86" fill="#2af12a"/><rect x="314.82" y="587.04" width="13.38" height="12.86" fill="#1ef02c"/></g>
<path d="M96.8,599.3 L95.0,596.9 L94.9,596.8 L93.1,594.4 L92.4,593.5 L91.3,591.9 L89.9,590.1 L89.5,589.5 L87.7,587.0 L87.3,586.6 L85.9,584.6 L84.8,583.1 L84.1,582.1 L82.3,579.7 L82.2,579.6 L80.5,577.2 L79.7,576.1 L78.7,574.8 L77.1,572.6 L76.9,572.3 L75.2,569.9 L74.6,569.0 L73.4,567.4 L72.0,565.4" fill="none" stroke="#000" stroke-width="0.9"/>
<path d="M125.3,599.3 L123.3,596.8 L123.1,596.6 L121.4,594.4 L120.6,593.4 L119.4,591.9 L118.0,590.2 L117.5,589.5 L115.5,587.0 L115.5,586.9 L113.6,584.6 L112.9,583.7 L111.7,582.1 L110.3,580.4 L109.8,579.7 L107.9,577.2 L107.8,577.1 L106.0,574.8 L105.2,573.7 L104.2,572.3 L102.7,570.4 L102.3,569.9 L100.4,567.4 L100.1,567.0 L98.6,565.0 L97.6,563.6 L96.7,562.5 L95.0,560.2 L94.9,560.1 L93.1,557.6 L92.4,556.8 L91.2,555.2 L89.9,553.4 L89.4,552.7 L87.6,550.3 L87.3,549.9 L85.8,547.8 L84.8,546.4 L84.0,545.4 L82.2,542.9 L82.2,542.9 L80.4,540.5 L79.7,539.4 L78.7,538.0 L77.1,535.9 L76.9,535.5 L75.1,533.1 L74.6,532.3 L73.4,530.6 L72.0,528.7" fill="none" stroke="#000" stroke-width="0.9"/>
<path d="M161.3,599.3 L159.1,596.8 L158.9,596.6 L156.9,594.4 L156.3,593.8 L154.7,591.9 L153.8,590.9 L152.5,589.5 L151.2,588.0 L150.4,587.0 L148.7,585.1 L148.2,584.6 L146.1,582.2 L146.1,582.1 L144.0,579.7 L143.6,579.2 L141.9,577.2 L141.0,576.2 L139.8,574.8 L138.5,573.2 L137.7,572.3 L135.9,570.2 L135.6,569.9 L133.6,567.4 L133.3,567.1 L131.6,565.0 L130.8,564.1 L129.5,562.5 L128.2,561.0 L127.5,560.1 L125.7,557.8 L125.5,557.6 L123.5,555.2 L123.1,554.7 L121.5,552.7 L120.6,551.5 L119.6,550.3 L118.0,548.3 L117.6,547.8 L115.6,545.4 L115.5,545.1 L113.7,542.9 L112.9,541.9 L111.8,540.5 L110.3,538.6 L109.9,538.0 L107.9,535.5 L107.8,535.4 L106.0,533.1 L105.2,532.0 L104.2,530.6 L102.7,528.7 L102.3,528.2 L100.4,525.7 L100.1,525.4 L98.5,523.3 L97.6,522.0 L96.7,520.8 L95.0,518.6 L94.8,518.4 L93.0,515.9 L92.4,515.2 L91.2,513.5 L89.9,511.8 L89.3,511.0 L87.5,508.6 L87.3,508.3 L85.7,506.1 L84.8,504.9 L83.9,503.7 L82.2,501.4 L82.1,501.2 L80.3,498.8 L79.7,497.8 L78.6,496.3 L77.1,494.3 L76.8,493.9 L75.0,491.4 L74.6,490.7 L73.3,489.0 L72.0,487.1" fill="none" stroke="#000" stroke-width="0.9"/>
<path d="M327.6,422.6 L326.8,420.3 L326.0,417.9 L325.1,415.4 L325.0,415.1 L324.3,412.9 L323.4,410.5 L322.6,408.0 L322.5,407.8 L321.7,405.6 L320.8,403.1 L320.0,400.7 L319.9,400.6 L319.1,398.2 L318.2,395.8 L317.4,393.5 L317.3,393.3 L316.4,390.9 L315.5,388.4 L314.8,386.6 L314.6,386.0 L313.7,383.5 L312.8,381.1 L312.3,379.8 L311.8,378.6 L310.9,376.2 L310.0,373.7 L309.7,373.0 L309.0,371.3 L308.1,368.8 L307.2,366.4 L307.1,366.4 L306.2,363.9 L305.2,361.5 L304.6,359.8 L304.3,359.0 L303.3,356.6 L302.3,354.1" fill="none" stroke="#000" stroke-width="0.9"/>
<path d="M220.8,599.3 L220.2,598.9 L217.7,597.2 L217.3,596.8 L215.1,595.3 L213.8,594.4 L212.6,593.5 L210.5,591.9 L210.0,591.6 L207.5,589.6 L207.3,589.5 L204.9,587.6 L204.2,587.0 L202.4,585.6 L201.1,584.6 L199.8,583.5 L198.1,582.1 L197.2,581.4 L195.2,579.7 L194.7,579.2 L192.3,577.2 L192.1,577.0 L189.6,574.8 L189.5,574.8 L187.0,572.5 L186.8,572.3 L184.5,570.2 L184.1,569.9 L181.9,567.9 L181.4,567.4 L179.4,565.5 L178.8,565.0 L176.8,563.1 L176.2,562.5 L174.2,560.6 L173.7,560.1 L171.7,558.1 L171.2,557.6 L169.1,555.6 L168.7,555.2 L166.6,553.1 L166.2,552.7 L164.0,550.5 L163.8,550.3 L161.5,547.9 L161.4,547.8 L159.0,545.4 L158.9,545.2 L156.7,542.9 L156.3,542.5 L154.4,540.5 L153.8,539.8 L152.1,538.0 L151.2,537.1 L149.8,535.5 L148.7,534.3 L147.6,533.1 L146.1,531.5 L145.4,530.6 L143.6,528.7 L143.2,528.2 L141.0,525.8 L141.0,525.7 L138.8,523.3 L138.5,522.9 L136.7,520.8 L135.9,520.0 L134.5,518.4 L133.3,517.0 L132.4,515.9 L130.8,514.1 L130.3,513.5 L128.2,511.0 L128.2,511.0 L126.2,508.6 L125.7,508.0 L124.1,506.1 L123.1,504.9 L122.1,503.7 L120.6,501.9 L120.0,501.2 L118.0,498.8 L118.0,498.7 L116.0,496.3 L115.5,495.6 L114.1,493.9 L112.9,492.4 L112.1,491.4 L110.3,489.2 L110.1,489.0 L108.2,486.5 L107.8,486.0 L106.3,484.1 L105.2,482.7 L104.4,481.6 L102.7,479.4 L102.4,479.2 L100.6,476.7 L100.1,476.1 L98.7,474.2 L97.6,472.8 L96.8,471.8 L95.0,469.4 L94.9,469.3 L93.1,466.9 L92.4,466.0 L91.3,464.4 L89.9,462.6 L89.4,462.0 L87.6,459.5 L87.3,459.2 L85.8,457.1 L84.8,455.7 L84.0,454.6 L82.2,452.2 L82.2,452.2 L80.4,449.7 L79.7,448.7 L78.7,447.3 L77.1,445.1 L76.9,444.8 L75.1,442.4 L74.6,441.6 L73.4,439.9 L72.0,438.0" fill="none" stroke="#000" stroke-width="0.9"/>
<path d="M308.6,599.3 L309.7,596.9 L309.7,596.8 L310.7,594.4 L311.7,591.9 L312.3,590.2 L312.5,589.5 L313.2,587.0 L313.9,584.6 L314.4,582.1 L314.8,580.3 L315.0,579.7 L315.4,577.2 L315.8,574.8 L316.1,572.3 L316.4,569.9 L316.7,567.4 L316.9,565.0 L317.1,562.5 L317.2,560.1 L317.4,557.6 L317.4,556.9 L317.4,555.2 L317.5,552.7 L317.5,550.3 L317.5,547.8 L317.4,545.4 L317.4,543.4 L317.4,542.9 L317.3,540.5 L317.2,538.0 L317.0,535.5 L316.9,533.1 L316.7,530.6 L316.5,528.2 L316.3,525.7 L316.0,523.3 L315.8,520.8 L315.5,518.4 L315.2,515.9 L314.9,513.5 L314.8,512.9 L314.6,511.0 L314.2,508.6 L313.9,506.1 L313.5,503.7 L313.1,501.2 L312.7,498.8 L312.3,496.3 L312.3,496.0 L311.9,493.9 L311.4,491.4 L311.0,489.0 L310.5,486.5 L310.1,484.1 L309.7,482.3 L309.6,481.6 L309.1,479.2 L308.5,476.7 L308.0,474.2 L307.5,471.8 L307.2,470.3 L306.9,469.3 L306.4,466.9 L305.8,464.4 L305.2,462.0 L304.7,459.5 L304.6,459.2 L304.1,457.1 L303.5,454.6 L302.8,452.2 L302.2,449.7 L302.0,449.0 L301.6,447.3 L300.9,444.8 L300.3,442.4 L299.6,439.9 L299.5,439.4 L299.0,437.5 L298.3,435.0 L297.6,432.6 L296.9,430.2 L296.9,430.1 L296.2,427.7 L295.5,425.2 L294.8,422.8 L294.4,421.5 L294.0,420.3 L293.3,417.9 L292.5,415.4 L291.8,413.0 L291.8,412.9 L291.0,410.5 L290.3,408.0 L289.5,405.6 L289.3,404.9 L288.7,403.1 L287.9,400.7 L287.1,398.2 L286.7,397.0 L286.3,395.8 L285.5,393.3 L284.7,390.9 L284.1,389.3 L283.9,388.4 L283.0,386.0 L282.2,383.5 L281.6,381.8 L281.3,381.1 L280.5,378.6 L279.6,376.2 L279.0,374.5 L278.8,373.7 L277.9,371.3 L277.0,368.8 L276.5,367.3 L276.1,366.4 L275.2,363.9 L274.3,361.5 L273.9,360.3 L273.4,359.0 L272.5,356.6 L271.6,354.1" fill="none" stroke="#000" stroke-width="0.9"/>
<path d="M72.0,374.4 L73.3,376.2 L74.6,378.0 L75.0,378.6 L76.7,381.1 L77.1,381.6 L78.5,383.5 L79.7,385.2 L80.2,386.0 L82.0,388.4 L82.2,388.7 L83.8,390.9 L84.8,392.2 L85.6,393.3 L87.3,395.7 L87.4,395.8 L89.3,398.2 L89.9,399.1 L91.1,400.7 L92.4,402.5 L93.0,403.1 L94.8,405.6 L95.0,405.8 L96.7,408.0 L97.6,409.1 L98.6,410.5 L100.1,412.4 L100.6,412.9 L102.5,415.4 L102.7,415.6 L104.5,417.9 L105.2,418.8 L106.4,420.3 L107.8,422.0 L108.4,422.8 L110.3,425.1 L110.4,425.2 L112.5,427.7 L112.9,428.2 L114.5,430.1 L115.5,431.2 L116.6,432.6 L118.0,434.2 L118.7,435.0 L120.6,437.2 L120.8,437.5 L123.0,439.9 L123.1,440.1 L125.1,442.4 L125.7,443.0 L127.3,444.8 L128.2,445.8 L129.6,447.3 L130.8,448.6 L131.8,449.7 L133.3,451.4 L134.1,452.2 L135.9,454.1 L136.4,454.6 L138.5,456.8 L138.8,457.1 L141.0,459.4 L141.2,459.5 L143.6,462.0 L143.6,462.0 L146.1,464.4 L146.1,464.5 L148.6,466.9 L148.7,467.0 L151.2,469.3 L151.2,469.4 L153.8,471.8 L153.8,471.8 L156.3,474.2 L156.5,474.2 L158.9,476.4 L159.2,476.7 L161.5,478.7 L162.0,479.2 L164.0,480.9 L164.9,481.6 L166.6,483.0 L167.9,484.1 L169.1,485.1 L171.0,486.5 L171.7,487.1 L174.1,489.0 L174.2,489.0 L176.8,490.9 L177.5,491.4 L179.4,492.7 L181.0,493.9 L181.9,494.5 L184.5,496.2 L184.7,496.3 L187.0,497.8 L188.6,498.8 L189.6,499.3 L192.1,500.8 L192.9,501.2 L194.7,502.2 L197.2,503.5 L197.7,503.7 L199.8,504.6 L202.4,505.7 L203.4,506.1 L204.9,506.7 L207.5,507.6 L210.0,508.3 L211.1,508.6 L212.6,508.9 L215.1,509.4 L217.7,509.7 L220.2,509.9 L222.8,509.8 L225.4,509.5 L227.9,509.0 L229.3,508.6 L230.5,508.2 L233.0,507.0 L234.6,506.1 L235.6,505.5 L237.9,503.7 L238.1,503.4 L240.3,501.2 L240.7,500.7 L242.1,498.8 L243.3,497.1 L243.7,496.3 L245.0,493.9 L245.8,492.0 L246.1,491.4 L247.0,489.0 L247.8,486.5 L248.4,484.4 L248.5,484.1 L249.0,481.6 L249.5,479.2 L249.9,476.7 L250.2,474.2 L250.5,471.8 L250.7,469.3 L250.9,466.9 L250.9,466.3 L251.0,464.4 L251.1,462.0 L251.1,459.5 L251.1,457.1 L251.0,454.6 L250.9,452.2 L250.9,451.7 L250.8,449.7 L250.7,447.3 L250.5,444.8 L250.3,442.4 L250.0,439.9 L249.8,437.5 L249.5,435.0 L249.2,432.6 L248.9,430.1 L248.5,427.7 L248.4,426.7 L248.1,425.2 L247.7,422.8 L247.3,420.3 L246.9,417.9 L246.5,415.4 L246.0,412.9 L245.8,412.0 L245.5,410.5 L245.0,408.0 L244.5,405.6 L244.0,403.1 L243.4,400.7 L243.3,399.9 L242.9,398.2 L242.3,395.8 L241.7,393.3 L241.1,390.9 L240.7,389.3 L240.5,388.4 L239.8,386.0 L239.2,383.5 L238.5,381.1 L238.1,379.6 L237.9,378.6 L237.2,376.2 L236.5,373.7 L235.8,371.3 L235.6,370.5 L235.1,368.8 L234.4,366.4 L233.6,363.9 L233.0,361.9 L232.9,361.5 L232.1,359.0 L231.3,356.6 L230.6,354.1" fill="none" stroke="#000" stroke-width="0.9"/>
<path d="M72.0,354.1 L327.6,354.1" stroke="#666" stroke-width="1" fill="none"/>
<path d="M72.0,354.1 L72.0,599.3" stroke="#555" stroke-width="1" fill="none"/>
<path d="M327.6,354.1 L327.6,599.3" stroke="#555" stroke-width="1" fill="none"/>
<path d="M71.5,599.3 L328.1,599.3" stroke="#222" stroke-width="1" fill="none"/>
<path d="M72.0,599.3 L72.0,605.8" stroke="#222" stroke-width="1"/>
<text x="72.0" y="615.6" font-size="8" text-anchor="middle" font-family="Liberation Sans, sans-serif" fill="#111">-1</text>
<path d="M65.5,599.3 L72.0,599.3" stroke="#222" stroke-width="1"/>
<text x="63.0" y="602.2" font-size="8" text-anchor="end" font-family="Liberation Sans, sans-serif" fill="#111">-1</text>
<path d="M135.9,599.3 L135.9,605.8" stroke="#222" stroke-width="1"/>
<text x="135.9" y="615.6" font-size="8" text-anchor="middle" font-family="Liberation Sans, sans-serif" fill="#111">-0.5</text>
<path d="M65.5,538.0 L72.0,538.0" stroke="#222" stroke-width="1"/>
<text x="63.0" y="540.9" font-size="8" text-anchor="end" font-family="Liberation Sans, sans-serif" fill="#111">-0.5</text>
<path d="M199.8,599.3 L199.8,605.8" stroke="#222" stroke-width="1"/>
<text x="199.8" y="615.6" font-size="8" text-anchor="middle" font-family="Liberation Sans, sans-serif" fill="#111">0</text>
<path d="M65.5,476.7 L72.0,476.7" stroke="#222" stroke-width="1"/>
<text x="63.0" y="479.6" font-size="8" text-anchor="end" font-family="Liberation Sans, sans-serif" fill="#111">0</text>
<path d="M263.7,599.3 L263.7,605.8" stroke="#222" stroke-width="1"/>
<text x="263.7" y="615.6" font-size="8" text-anchor="middle" font-family="Liberation Sans, sans-serif" fill="#111">0.5</text>
<path d="M65.5,415.4 L72.0,415.4" stroke="#222" stroke-width="1"/>
<text x="63.0" y="418.3" font-size="8" text-anchor="end" font-family="Liberation Sans, sans-serif" fill="#111">0.5</text>
<path d="M327.6,599.3 L327.6,605.8" stroke="#222" stroke-width="1"/>
<text x="327.6" y="615.6" font-size="8" text-anchor="middle" font-family="Liberation Sans, sans-serif" fill="#111">1</text>
<path d="M65.5,354.1 L72.0,354.1" stroke="#222" stroke-width="1"/>
<text x="63.0" y="357.0" font-size="8" text-anchor="end" font-family="Liberation Sans, sans-serif" fill="#111">1</text>
<rect x="184.8" y="492.8" width="12.5" height="8.5" fill="#fff" stroke="#222" stroke-width="0.8"/>
<text x="191.0" y="500.0" font-size="8.3" text-anchor="middle" font-family="Liberation Sans, sans-serif" fill="#111">90</text>
<rect x="128.8" y="511.2" width="12.5" height="8.5" fill="#fff" stroke="#222" stroke-width="0.8"/>
<text x="135.0" y="518.5" font-size="8.3" text-anchor="middle" font-family="Liberation Sans, sans-serif" fill="#111">80</text>
<rect x="103.8" y="529.8" width="12.5" height="8.5" fill="#fff" stroke="#222" stroke-width="0.8"/>
<text x="110.0" y="537.0" font-size="8.3" text-anchor="middle" font-family="Liberation Sans, sans-serif" fill="#111">70</text>
<rect x="90.8" y="554.8" width="12.5" height="8.5" fill="#fff" stroke="#222" stroke-width="0.8"/>
<text x="97.0" y="562.0" font-size="8.3" text-anchor="middle" font-family="Liberation Sans, sans-serif" fill="#111">60</text>
<rect x="77.8" y="573.8" width="12.5" height="8.5" fill="#fff" stroke="#222" stroke-width="0.8"/>
<text x="84.0" y="581.0" font-size="8.3" text-anchor="middle" font-family="Liberation Sans, sans-serif" fill="#111">50</text>
<rect x="298.8" y="455.2" width="12.5" height="8.5" fill="#fff" stroke="#222" stroke-width="0.8"/>
<text x="305.0" y="462.5" font-size="8.3" text-anchor="middle" font-family="Liberation Sans, sans-serif" fill="#111">80</text>
<rect x="308.2" y="378.8" width="12.5" height="8.5" fill="#fff" stroke="#222" stroke-width="0.8"/>
<text x="314.5" y="386.0" font-size="8.3" text-anchor="middle" font-family="Liberation Sans, sans-serif" fill="#111">70</text>
<text x="199" y="348.8" font-size="14.8" text-anchor="middle" font-family="Liberation Sans, sans-serif" fill="#111">%R-SMX</text>
<text x="200" y="638" font-size="11" text-anchor="middle" font-family="Liberation Sans, sans-serif" fill="#111">A</text>
<text transform="translate(28,477) rotate(-90)" font-size="11" text-anchor="middle" font-family="Liberation Sans, sans-serif" fill="#111">C</text>
<text x="-2" y="384.5" font-size="21" font-family="Liberation Sans, sans-serif" fill="#111">(B)</text>
<g shape-rendering="crispEdges"><rect x="71.60" y="686.50" width="13.52" height="12.58" fill="#000080"/><rect x="84.52" y="686.50" width="13.52" height="12.58" fill="#08517f"/><rect x="97.44" y="686.50" width="13.52" height="12.58" fill="#11a67e"/><rect x="110.36" y="686.50" width="13.52" height="12.58" fill="#19f07d"/><rect x="123.28" y="686.50" width="13.52" height="12.58" fill="#1bf063"/><rect x="136.20" y="686.50" width="13.52" height="12.58" fill="#1cf04d"/><rect x="149.12" y="686.50" width="13.52" height="12.58" fill="#1df03b"/><rect x="162.04" y="686.50" width="13.52" height="12.58" fill="#1ef02c"/><rect x="174.96" y="686.50" width="13.52" height="12.58" fill="#27f02a"/><rect x="187.88" y="686.50" width="13.52" height="12.58" fill="#2ef12a"/><rect x="200.80" y="686.50" width="13.52" height="12.58" fill="#31f12b"/><rect x="213.72" y="686.50" width="13.52" height="12.58" fill="#31f12b"/><rect x="226.64" y="686.50" width="13.52" height="12.58" fill="#2ef12a"/><rect x="239.56" y="686.50" width="13.52" height="12.58" fill="#26f02a"/><rect x="252.48" y="686.50" width="13.52" height="12.58" fill="#1ef02c"/><rect x="265.40" y="686.50" width="13.52" height="12.58" fill="#1df03b"/><rect x="278.32" y="686.50" width="13.52" height="12.58" fill="#1cf04d"/><rect x="291.24" y="686.50" width="13.52" height="12.58" fill="#1bf063"/><rect x="304.16" y="686.50" width="13.52" height="12.58" fill="#19f07d"/><rect x="317.08" y="686.50" width="13.52" height="12.58" fill="#11a47e"/><rect x="71.60" y="698.48" width="13.52" height="12.58" fill="#042680"/><rect x="84.52" y="698.48" width="13.52" height="12.58" fill="#0e867e"/><rect x="97.44" y="698.48" width="13.52" height="12.58" fill="#17dd7d"/><rect x="110.36" y="698.48" width="13.52" height="12.58" fill="#1af066"/><rect x="123.28" y="698.48" width="13.52" height="12.58" fill="#1cf04c"/><rect x="136.20" y="698.48" width="13.52" height="12.58" fill="#1df035"/><rect x="149.12" y="698.48" width="13.52" height="12.58" fill="#26f02a"/><rect x="162.04" y="698.48" width="13.52" height="12.58" fill="#35f12b"/><rect x="174.96" y="698.48" width="13.52" height="12.58" fill="#40f22b"/><rect x="187.88" y="698.48" width="13.52" height="12.58" fill="#48f22b"/><rect x="200.80" y="698.48" width="13.52" height="12.58" fill="#4df22b"/><rect x="213.72" y="698.48" width="13.52" height="12.58" fill="#4df32c"/><rect x="226.64" y="698.48" width="13.52" height="12.58" fill="#4bf22b"/><rect x="239.56" y="698.48" width="13.52" height="12.58" fill="#44f22b"/><rect x="252.48" y="698.48" width="13.52" height="12.58" fill="#3bf22b"/><rect x="265.40" y="698.48" width="13.52" height="12.58" fill="#2df12a"/><rect x="278.32" y="698.48" width="13.52" height="12.58" fill="#1ef02c"/><rect x="291.24" y="698.48" width="13.52" height="12.58" fill="#1df041"/><rect x="304.16" y="698.48" width="13.52" height="12.58" fill="#1bf05a"/><rect x="317.08" y="698.48" width="13.52" height="12.58" fill="#19f076"/><rect x="71.60" y="710.46" width="13.52" height="12.58" fill="#09527f"/><rect x="84.52" y="710.46" width="13.52" height="12.58" fill="#13b47e"/><rect x="97.44" y="710.46" width="13.52" height="12.58" fill="#1af072"/><rect x="110.36" y="710.46" width="13.52" height="12.58" fill="#1cf052"/><rect x="123.28" y="710.46" width="13.52" height="12.58" fill="#1df037"/><rect x="136.20" y="710.46" width="13.52" height="12.58" fill="#28f12a"/><rect x="149.12" y="710.46" width="13.52" height="12.58" fill="#3cf22b"/><rect x="162.04" y="710.46" width="13.52" height="12.58" fill="#4bf22b"/><rect x="174.96" y="710.46" width="13.52" height="12.58" fill="#58f32c"/><rect x="187.88" y="710.46" width="13.52" height="12.58" fill="#60f42c"/><rect x="200.80" y="710.46" width="13.52" height="12.58" fill="#66f42c"/><rect x="213.72" y="710.46" width="13.52" height="12.58" fill="#67f42c"/><rect x="226.64" y="710.46" width="13.52" height="12.58" fill="#65f42c"/><rect x="239.56" y="710.46" width="13.52" height="12.58" fill="#60f42c"/><rect x="252.48" y="710.46" width="13.52" height="12.58" fill="#57f32c"/><rect x="265.40" y="710.46" width="13.52" height="12.58" fill="#4af22b"/><rect x="278.32" y="710.46" width="13.52" height="12.58" fill="#3af22b"/><rect x="291.24" y="710.46" width="13.52" height="12.58" fill="#27f02a"/><rect x="304.16" y="710.46" width="13.52" height="12.58" fill="#1df039"/><rect x="317.08" y="710.46" width="13.52" height="12.58" fill="#1bf055"/><rect x="71.60" y="722.44" width="13.52" height="12.58" fill="#0d787e"/><rect x="84.52" y="722.44" width="13.52" height="12.58" fill="#17dd7d"/><rect x="97.44" y="722.44" width="13.52" height="12.58" fill="#1bf061"/><rect x="110.36" y="722.44" width="13.52" height="12.58" fill="#1df041"/><rect x="123.28" y="722.44" width="13.52" height="12.58" fill="#23f02a"/><rect x="136.20" y="722.44" width="13.52" height="12.58" fill="#3bf22b"/><rect x="149.12" y="722.44" width="13.52" height="12.58" fill="#4ff32c"/><rect x="162.04" y="722.44" width="13.52" height="12.58" fill="#60f32c"/><rect x="174.96" y="722.44" width="13.52" height="12.58" fill="#6df42d"/><rect x="187.88" y="722.44" width="13.52" height="12.58" fill="#76f52d"/><rect x="200.80" y="722.44" width="13.52" height="12.58" fill="#7cf52d"/><rect x="213.72" y="722.44" width="13.52" height="12.58" fill="#7dee2c"/><rect x="226.64" y="722.44" width="13.52" height="12.58" fill="#7df12c"/><rect x="239.56" y="722.44" width="13.52" height="12.58" fill="#79f52d"/><rect x="252.48" y="722.44" width="13.52" height="12.58" fill="#71f42d"/><rect x="265.40" y="722.44" width="13.52" height="12.58" fill="#65f42c"/><rect x="278.32" y="722.44" width="13.52" height="12.58" fill="#56f32c"/><rect x="291.24" y="722.44" width="13.52" height="12.58" fill="#43f22b"/><rect x="304.16" y="722.44" width="13.52" height="12.58" fill="#2df12a"/><rect x="317.08" y="722.44" width="13.52" height="12.58" fill="#1df035"/><rect x="71.60" y="734.42" width="13.52" height="12.58" fill="#10987e"/><rect x="84.52" y="734.42" width="13.52" height="12.58" fill="#19f077"/><rect x="97.44" y="734.42" width="13.52" height="12.58" fill="#1cf053"/><rect x="110.36" y="734.42" width="13.52" height="12.58" fill="#1ef032"/><rect x="123.28" y="734.42" width="13.52" height="12.58" fill="#32f12b"/><rect x="136.20" y="734.42" width="13.52" height="12.58" fill="#4bf22b"/><rect x="149.12" y="734.42" width="13.52" height="12.58" fill="#60f32c"/><rect x="162.04" y="734.42" width="13.52" height="12.58" fill="#71f42d"/><rect x="174.96" y="734.42" width="13.52" height="12.58" fill="#7eed2c"/><rect x="187.88" y="734.42" width="13.52" height="12.58" fill="#83d327"/><rect x="200.80" y="734.42" width="13.52" height="12.58" fill="#86c225"/><rect x="213.72" y="734.42" width="13.52" height="12.58" fill="#88b923"/><rect x="226.64" y="734.42" width="13.52" height="12.58" fill="#88ba23"/><rect x="239.56" y="734.42" width="13.52" height="12.58" fill="#86c325"/><rect x="252.48" y="734.42" width="13.52" height="12.58" fill="#82d628"/><rect x="265.40" y="734.42" width="13.52" height="12.58" fill="#7df12c"/><rect x="278.32" y="734.42" width="13.52" height="12.58" fill="#6ff42d"/><rect x="291.24" y="734.42" width="13.52" height="12.58" fill="#5df32c"/><rect x="304.16" y="734.42" width="13.52" height="12.58" fill="#48f22b"/><rect x="317.08" y="734.42" width="13.52" height="12.58" fill="#2ff12b"/><rect x="71.60" y="746.40" width="13.52" height="12.58" fill="#12b17e"/><rect x="84.52" y="746.40" width="13.52" height="12.58" fill="#1af06d"/><rect x="97.44" y="746.40" width="13.52" height="12.58" fill="#1cf047"/><rect x="110.36" y="746.40" width="13.52" height="12.58" fill="#22f02a"/><rect x="123.28" y="746.40" width="13.52" height="12.58" fill="#3ff22b"/><rect x="136.20" y="746.40" width="13.52" height="12.58" fill="#58f32c"/><rect x="149.12" y="746.40" width="13.52" height="12.58" fill="#6ef42d"/><rect x="162.04" y="746.40" width="13.52" height="12.58" fill="#7ee92b"/><rect x="174.96" y="746.40" width="13.52" height="12.58" fill="#86c425"/><rect x="187.88" y="746.40" width="13.52" height="12.58" fill="#8ba821"/><rect x="200.80" y="746.40" width="13.52" height="12.58" fill="#8f951d"/><rect x="213.72" y="746.40" width="13.52" height="12.58" fill="#918a1c"/><rect x="226.64" y="746.40" width="13.52" height="12.58" fill="#91891b"/><rect x="239.56" y="746.40" width="13.52" height="12.58" fill="#90901d"/><rect x="252.48" y="746.40" width="13.52" height="12.58" fill="#8da11f"/><rect x="265.40" y="746.40" width="13.52" height="12.58" fill="#88ba23"/><rect x="278.32" y="746.40" width="13.52" height="12.58" fill="#81dc29"/><rect x="291.24" y="746.40" width="13.52" height="12.58" fill="#75f52d"/><rect x="304.16" y="746.40" width="13.52" height="12.58" fill="#60f42c"/><rect x="317.08" y="746.40" width="13.52" height="12.58" fill="#48f22b"/><rect x="71.60" y="758.38" width="13.52" height="12.58" fill="#14c47e"/><rect x="84.52" y="758.38" width="13.52" height="12.58" fill="#1af064"/><rect x="97.44" y="758.38" width="13.52" height="12.58" fill="#1df03e"/><rect x="110.36" y="758.38" width="13.52" height="12.58" fill="#2cf12a"/><rect x="123.28" y="758.38" width="13.52" height="12.58" fill="#4af22b"/><rect x="136.20" y="758.38" width="13.52" height="12.58" fill="#64f42c"/><rect x="149.12" y="758.38" width="13.52" height="12.58" fill="#7af52d"/><rect x="162.04" y="758.38" width="13.52" height="12.58" fill="#85c926"/><rect x="174.96" y="758.38" width="13.52" height="12.58" fill="#8ca220"/><rect x="187.88" y="758.38" width="13.52" height="12.58" fill="#92831a"/><rect x="200.80" y="758.38" width="13.52" height="12.58" fill="#906915"/><rect x="213.72" y="758.38" width="13.52" height="12.58" fill="#905a12"/><rect x="226.64" y="758.38" width="13.52" height="12.58" fill="#8f5611"/><rect x="239.56" y="758.38" width="13.52" height="12.58" fill="#905c13"/><rect x="252.48" y="758.38" width="13.52" height="12.58" fill="#916d16"/><rect x="265.40" y="758.38" width="13.52" height="12.58" fill="#92881b"/><rect x="278.32" y="758.38" width="13.52" height="12.58" fill="#8ba821"/><rect x="291.24" y="758.38" width="13.52" height="12.58" fill="#83d127"/><rect x="304.16" y="758.38" width="13.52" height="12.58" fill="#76f52d"/><rect x="317.08" y="758.38" width="13.52" height="12.58" fill="#5ff32c"/><rect x="71.60" y="770.36" width="13.52" height="12.58" fill="#16d07d"/><rect x="84.52" y="770.36" width="13.52" height="12.58" fill="#1bf05f"/><rect x="97.44" y="770.36" width="13.52" height="12.58" fill="#1df038"/><rect x="110.36" y="770.36" width="13.52" height="12.58" fill="#33f12b"/><rect x="123.28" y="770.36" width="13.52" height="12.58" fill="#52f32c"/><rect x="136.20" y="770.36" width="13.52" height="12.58" fill="#6df42d"/><rect x="149.12" y="770.36" width="13.52" height="12.58" fill="#80e12a"/><rect x="162.04" y="770.36" width="13.52" height="12.58" fill="#8aae22"/><rect x="174.96" y="770.36" width="13.52" height="12.58" fill="#92851b"/><rect x="187.88" y="770.36" width="13.52" height="12.58" fill="#905e13"/><rect x="200.80" y="770.36" width="13.52" height="12.58" fill="#8e420d"/><rect x="213.72" y="770.36" width="13.52" height="12.58" fill="#8e300a"/><rect x="226.64" y="770.36" width="13.52" height="12.58" fill="#8d2908"/><rect x="239.56" y="770.36" width="13.52" height="12.58" fill="#8d2d09"/><rect x="252.48" y="770.36" width="13.52" height="12.58" fill="#8e3b0c"/><rect x="265.40" y="770.36" width="13.52" height="12.58" fill="#8f5511"/><rect x="278.32" y="770.36" width="13.52" height="12.58" fill="#917918"/><rect x="291.24" y="770.36" width="13.52" height="12.58" fill="#8ca220"/><rect x="304.16" y="770.36" width="13.52" height="12.58" fill="#83d127"/><rect x="317.08" y="770.36" width="13.52" height="12.58" fill="#74f52d"/><rect x="71.60" y="782.34" width="13.52" height="12.58" fill="#16d67d"/><rect x="84.52" y="782.34" width="13.52" height="12.58" fill="#1bf05b"/><rect x="97.44" y="782.34" width="13.52" height="12.58" fill="#1df033"/><rect x="110.36" y="782.34" width="13.52" height="12.58" fill="#38f12b"/><rect x="123.28" y="782.34" width="13.52" height="12.58" fill="#57f32c"/><rect x="136.20" y="782.34" width="13.52" height="12.58" fill="#73f52d"/><rect x="149.12" y="782.34" width="13.52" height="12.58" fill="#84ce27"/><rect x="162.04" y="782.34" width="13.52" height="12.58" fill="#8e9a1e"/><rect x="174.96" y="782.34" width="13.52" height="12.58" fill="#916a15"/><rect x="187.88" y="782.34" width="13.52" height="12.58" fill="#8e400d"/><rect x="200.80" y="782.34" width="13.52" height="12.58" fill="#8d2107"/><rect x="213.72" y="782.34" width="13.52" height="12.58" fill="#8c0d03"/><rect x="226.64" y="782.34" width="13.52" height="12.58" fill="#8b0401"/><rect x="239.56" y="782.34" width="13.52" height="12.58" fill="#8b0501"/><rect x="252.48" y="782.34" width="13.52" height="12.58" fill="#8c1103"/><rect x="265.40" y="782.34" width="13.52" height="12.58" fill="#8d2808"/><rect x="278.32" y="782.34" width="13.52" height="12.58" fill="#8f490f"/><rect x="291.24" y="782.34" width="13.52" height="12.58" fill="#917518"/><rect x="304.16" y="782.34" width="13.52" height="12.58" fill="#8ca620"/><rect x="317.08" y="782.34" width="13.52" height="12.58" fill="#81dc29"/><rect x="71.60" y="794.32" width="13.52" height="12.58" fill="#16d67d"/><rect x="84.52" y="794.32" width="13.52" height="12.58" fill="#1bf05b"/><rect x="97.44" y="794.32" width="13.52" height="12.58" fill="#1ef032"/><rect x="110.36" y="794.32" width="13.52" height="12.58" fill="#3af22b"/><rect x="123.28" y="794.32" width="13.52" height="12.58" fill="#5bf32c"/><rect x="136.20" y="794.32" width="13.52" height="12.58" fill="#77f52d"/><rect x="149.12" y="794.32" width="13.52" height="12.58" fill="#86c225"/><rect x="162.04" y="794.32" width="13.52" height="12.58" fill="#918b1c"/><rect x="174.96" y="794.32" width="13.52" height="12.58" fill="#8f5611"/><rect x="187.88" y="794.32" width="13.52" height="12.58" fill="#8d2908"/><rect x="200.80" y="794.32" width="13.52" height="12.58" fill="#8b0802"/><rect x="213.72" y="794.32" width="13.52" height="12.58" fill="#8b0000"/><rect x="226.64" y="794.32" width="13.52" height="12.58" fill="#8b0000"/><rect x="239.56" y="794.32" width="13.52" height="12.58" fill="#8b0000"/><rect x="252.48" y="794.32" width="13.52" height="12.58" fill="#8b0000"/><rect x="265.40" y="794.32" width="13.52" height="12.58" fill="#8b0200"/><rect x="278.32" y="794.32" width="13.52" height="12.58" fill="#8d2107"/><rect x="291.24" y="794.32" width="13.52" height="12.58" fill="#8f4b0f"/><rect x="304.16" y="794.32" width="13.52" height="12.58" fill="#927f1a"/><rect x="317.08" y="794.32" width="13.52" height="12.58" fill="#89b523"/><rect x="71.60" y="806.30" width="13.52" height="12.58" fill="#16d07d"/><rect x="84.52" y="806.30" width="13.52" height="12.58" fill="#1bf05c"/><rect x="97.44" y="806.30" width="13.52" height="12.58" fill="#1df033"/><rect x="110.36" y="806.30" width="13.52" height="12.58" fill="#3af22b"/><rect x="123.28" y="806.30" width="13.52" height="12.58" fill="#5bf32c"/><rect x="136.20" y="806.30" width="13.52" height="12.58" fill="#79f52d"/><rect x="149.12" y="806.30" width="13.52" height="12.58" fill="#87bb24"/><rect x="162.04" y="806.30" width="13.52" height="12.58" fill="#92821a"/><rect x="174.96" y="806.30" width="13.52" height="12.58" fill="#8f490f"/><rect x="187.88" y="806.30" width="13.52" height="12.58" fill="#8c1a05"/><rect x="200.80" y="806.30" width="13.52" height="12.58" fill="#8b0000"/><rect x="213.72" y="806.30" width="13.52" height="12.58" fill="#8b0000"/><rect x="226.64" y="806.30" width="13.52" height="12.58" fill="#8b0000"/><rect x="239.56" y="806.30" width="13.52" height="12.58" fill="#8b0000"/><rect x="252.48" y="806.30" width="13.52" height="12.58" fill="#8b0000"/><rect x="265.40" y="806.30" width="13.52" height="12.58" fill="#8b0000"/><rect x="278.32" y="806.30" width="13.52" height="12.58" fill="#8b0000"/><rect x="291.24" y="806.30" width="13.52" height="12.58" fill="#8d2708"/><rect x="304.16" y="806.30" width="13.52" height="12.58" fill="#905912"/><rect x="317.08" y="806.30" width="13.52" height="12.58" fill="#8f931d"/><rect x="71.60" y="818.28" width="13.52" height="12.58" fill="#14c37e"/><rect x="84.52" y="818.28" width="13.52" height="12.58" fill="#1bf060"/><rect x="97.44" y="818.28" width="13.52" height="12.58" fill="#1df036"/><rect x="110.36" y="818.28" width="13.52" height="12.58" fill="#38f12b"/><rect x="123.28" y="818.28" width="13.52" height="12.58" fill="#5af32c"/><rect x="136.20" y="818.28" width="13.52" height="12.58" fill="#78f52d"/><rect x="149.12" y="818.28" width="13.52" height="12.58" fill="#88bb24"/><rect x="162.04" y="818.28" width="13.52" height="12.58" fill="#927f1a"/><rect x="174.96" y="818.28" width="13.52" height="12.58" fill="#8f430e"/><rect x="187.88" y="818.28" width="13.52" height="12.58" fill="#8c1204"/><rect x="200.80" y="818.28" width="13.52" height="12.58" fill="#8b0000"/><rect x="213.72" y="818.28" width="13.52" height="12.58" fill="#8b0000"/><rect x="226.64" y="818.28" width="13.52" height="12.58" fill="#8b0000"/><rect x="239.56" y="818.28" width="13.52" height="12.58" fill="#8b0000"/><rect x="252.48" y="818.28" width="13.52" height="12.58" fill="#8b0000"/><rect x="265.40" y="818.28" width="13.52" height="12.58" fill="#8b0000"/><rect x="278.32" y="818.28" width="13.52" height="12.58" fill="#8b0000"/><rect x="291.24" y="818.28" width="13.52" height="12.58" fill="#8c0b02"/><rect x="304.16" y="818.28" width="13.52" height="12.58" fill="#8e3a0c"/><rect x="317.08" y="818.28" width="13.52" height="12.58" fill="#917417"/><rect x="71.60" y="830.26" width="13.52" height="12.58" fill="#12b07e"/><rect x="84.52" y="830.26" width="13.52" height="12.58" fill="#1af067"/><rect x="97.44" y="830.26" width="13.52" height="12.58" fill="#1df03c"/><rect x="110.36" y="830.26" width="13.52" height="12.58" fill="#33f12b"/><rect x="123.28" y="830.26" width="13.52" height="12.58" fill="#56f32c"/><rect x="136.20" y="830.26" width="13.52" height="12.58" fill="#75f52d"/><rect x="149.12" y="830.26" width="13.52" height="12.58" fill="#86c024"/><rect x="162.04" y="830.26" width="13.52" height="12.58" fill="#92831a"/><rect x="174.96" y="830.26" width="13.52" height="12.58" fill="#8f450e"/><rect x="187.88" y="830.26" width="13.52" height="12.58" fill="#8c1103"/><rect x="200.80" y="830.26" width="13.52" height="12.58" fill="#8b0000"/><rect x="213.72" y="830.26" width="13.52" height="12.58" fill="#8b0000"/><rect x="226.64" y="830.26" width="13.52" height="12.58" fill="#8b0000"/><rect x="239.56" y="830.26" width="13.52" height="12.58" fill="#8b0000"/><rect x="252.48" y="830.26" width="13.52" height="12.58" fill="#8b0000"/><rect x="265.40" y="830.26" width="13.52" height="12.58" fill="#8b0000"/><rect x="278.32" y="830.26" width="13.52" height="12.58" fill="#8b0000"/><rect x="291.24" y="830.26" width="13.52" height="12.58" fill="#8b0000"/><rect x="304.16" y="830.26" width="13.52" height="12.58" fill="#8d2307"/><rect x="317.08" y="830.26" width="13.52" height="12.58" fill="#905a12"/><rect x="71.60" y="842.24" width="13.52" height="12.58" fill="#10967e"/><rect x="84.52" y="842.24" width="13.52" height="12.58" fill="#1af070"/><rect x="97.44" y="842.24" width="13.52" height="12.58" fill="#1cf044"/><rect x="110.36" y="842.24" width="13.52" height="12.58" fill="#2cf12a"/><rect x="123.28" y="842.24" width="13.52" height="12.58" fill="#50f32c"/><rect x="136.20" y="842.24" width="13.52" height="12.58" fill="#70f42d"/><rect x="149.12" y="842.24" width="13.52" height="12.58" fill="#84cc26"/><rect x="162.04" y="842.24" width="13.52" height="12.58" fill="#918d1c"/><rect x="174.96" y="842.24" width="13.52" height="12.58" fill="#8f4e10"/><rect x="187.88" y="842.24" width="13.52" height="12.58" fill="#8c1805"/><rect x="200.80" y="842.24" width="13.52" height="12.58" fill="#8b0000"/><rect x="213.72" y="842.24" width="13.52" height="12.58" fill="#8b0000"/><rect x="226.64" y="842.24" width="13.52" height="12.58" fill="#8b0000"/><rect x="239.56" y="842.24" width="13.52" height="12.58" fill="#8b0000"/><rect x="252.48" y="842.24" width="13.52" height="12.58" fill="#8b0000"/><rect x="265.40" y="842.24" width="13.52" height="12.58" fill="#8b0000"/><rect x="278.32" y="842.24" width="13.52" height="12.58" fill="#8b0000"/><rect x="291.24" y="842.24" width="13.52" height="12.58" fill="#8b0000"/><rect x="304.16" y="842.24" width="13.52" height="12.58" fill="#8c1204"/><rect x="317.08" y="842.24" width="13.52" height="12.58" fill="#8f470e"/><rect x="71.60" y="854.22" width="13.52" height="12.58" fill="#0c767f"/><rect x="84.52" y="854.22" width="13.52" height="12.58" fill="#19f07c"/><rect x="97.44" y="854.22" width="13.52" height="12.58" fill="#1cf04f"/><rect x="110.36" y="854.22" width="13.52" height="12.58" fill="#23f02a"/><rect x="123.28" y="854.22" width="13.52" height="12.58" fill="#47f22b"/><rect x="136.20" y="854.22" width="13.52" height="12.58" fill="#68f42c"/><rect x="149.12" y="854.22" width="13.52" height="12.58" fill="#81de29"/><rect x="162.04" y="854.22" width="13.52" height="12.58" fill="#8d9d1f"/><rect x="174.96" y="854.22" width="13.52" height="12.58" fill="#905e13"/><rect x="187.88" y="854.22" width="13.52" height="12.58" fill="#8d2508"/><rect x="200.80" y="854.22" width="13.52" height="12.58" fill="#8b0000"/><rect x="213.72" y="854.22" width="13.52" height="12.58" fill="#8b0000"/><rect x="226.64" y="854.22" width="13.52" height="12.58" fill="#8b0000"/><rect x="239.56" y="854.22" width="13.52" height="12.58" fill="#8b0000"/><rect x="252.48" y="854.22" width="13.52" height="12.58" fill="#8b0000"/><rect x="265.40" y="854.22" width="13.52" height="12.58" fill="#8b0000"/><rect x="278.32" y="854.22" width="13.52" height="12.58" fill="#8b0000"/><rect x="291.24" y="854.22" width="13.52" height="12.58" fill="#8b0000"/><rect x="304.16" y="854.22" width="13.52" height="12.58" fill="#8b0902"/><rect x="317.08" y="854.22" width="13.52" height="12.58" fill="#8e3c0c"/><rect x="71.60" y="866.20" width="13.52" height="12.58" fill="#08507f"/><rect x="84.52" y="866.20" width="13.52" height="12.58" fill="#16cf7d"/><rect x="97.44" y="866.20" width="13.52" height="12.58" fill="#1bf05c"/><rect x="110.36" y="866.20" width="13.52" height="12.58" fill="#1ef032"/><rect x="123.28" y="866.20" width="13.52" height="12.58" fill="#3cf22b"/><rect x="136.20" y="866.20" width="13.52" height="12.58" fill="#5ef32c"/><rect x="149.12" y="866.20" width="13.52" height="12.58" fill="#7cf52d"/><rect x="162.04" y="866.20" width="13.52" height="12.58" fill="#89b222"/><rect x="174.96" y="866.20" width="13.52" height="12.58" fill="#917518"/><rect x="187.88" y="866.20" width="13.52" height="12.58" fill="#8e3a0c"/><rect x="200.80" y="866.20" width="13.52" height="12.58" fill="#8b0a02"/><rect x="213.72" y="866.20" width="13.52" height="12.58" fill="#8b0000"/><rect x="226.64" y="866.20" width="13.52" height="12.58" fill="#8b0000"/><rect x="239.56" y="866.20" width="13.52" height="12.58" fill="#8b0000"/><rect x="252.48" y="866.20" width="13.52" height="12.58" fill="#8b0000"/><rect x="265.40" y="866.20" width="13.52" height="12.58" fill="#8b0000"/><rect x="278.32" y="866.20" width="13.52" height="12.58" fill="#8b0000"/><rect x="291.24" y="866.20" width="13.52" height="12.58" fill="#8b0000"/><rect x="304.16" y="866.20" width="13.52" height="12.58" fill="#8b0701"/><rect x="317.08" y="866.20" width="13.52" height="12.58" fill="#8e370b"/><rect x="71.60" y="878.18" width="13.52" height="12.58" fill="#042480"/><rect x="84.52" y="878.18" width="13.52" height="12.58" fill="#11a57e"/><rect x="97.44" y="878.18" width="13.52" height="12.58" fill="#1af06c"/><rect x="110.36" y="878.18" width="13.52" height="12.58" fill="#1df040"/><rect x="123.28" y="878.18" width="13.52" height="12.58" fill="#2ff12b"/><rect x="136.20" y="878.18" width="13.52" height="12.58" fill="#51f32c"/><rect x="149.12" y="878.18" width="13.52" height="12.58" fill="#70f42d"/><rect x="162.04" y="878.18" width="13.52" height="12.58" fill="#84ce27"/><rect x="174.96" y="878.18" width="13.52" height="12.58" fill="#90921d"/><rect x="187.88" y="878.18" width="13.52" height="12.58" fill="#905611"/><rect x="200.80" y="878.18" width="13.52" height="12.58" fill="#8d2307"/><rect x="213.72" y="878.18" width="13.52" height="12.58" fill="#8b0000"/><rect x="226.64" y="878.18" width="13.52" height="12.58" fill="#8b0000"/><rect x="239.56" y="878.18" width="13.52" height="12.58" fill="#8b0000"/><rect x="252.48" y="878.18" width="13.52" height="12.58" fill="#8b0000"/><rect x="265.40" y="878.18" width="13.52" height="12.58" fill="#8b0000"/><rect x="278.32" y="878.18" width="13.52" height="12.58" fill="#8b0000"/><rect x="291.24" y="878.18" width="13.52" height="12.58" fill="#8b0000"/><rect x="304.16" y="878.18" width="13.52" height="12.58" fill="#8c0d03"/><rect x="317.08" y="878.18" width="13.52" height="12.58" fill="#8e3a0c"/><rect x="71.60" y="890.16" width="13.52" height="12.58" fill="#000080"/><rect x="84.52" y="890.16" width="13.52" height="12.58" fill="#0c747f"/><rect x="97.44" y="890.16" width="13.52" height="12.58" fill="#19ee7d"/><rect x="110.36" y="890.16" width="13.52" height="12.58" fill="#1cf052"/><rect x="123.28" y="890.16" width="13.52" height="12.58" fill="#1ff02a"/><rect x="136.20" y="890.16" width="13.52" height="12.58" fill="#42f22b"/><rect x="149.12" y="890.16" width="13.52" height="12.58" fill="#62f42c"/><rect x="162.04" y="890.16" width="13.52" height="12.58" fill="#7def2c"/><rect x="174.96" y="890.16" width="13.52" height="12.58" fill="#89b122"/><rect x="187.88" y="890.16" width="13.52" height="12.58" fill="#917a19"/><rect x="200.80" y="890.16" width="13.52" height="12.58" fill="#8f440e"/><rect x="213.72" y="890.16" width="13.52" height="12.58" fill="#8c1905"/><rect x="226.64" y="890.16" width="13.52" height="12.58" fill="#8b0000"/><rect x="239.56" y="890.16" width="13.52" height="12.58" fill="#8b0000"/><rect x="252.48" y="890.16" width="13.52" height="12.58" fill="#8b0000"/><rect x="265.40" y="890.16" width="13.52" height="12.58" fill="#8b0000"/><rect x="278.32" y="890.16" width="13.52" height="12.58" fill="#8b0000"/><rect x="291.24" y="890.16" width="13.52" height="12.58" fill="#8b0000"/><rect x="304.16" y="890.16" width="13.52" height="12.58" fill="#8c1905"/><rect x="317.08" y="890.16" width="13.52" height="12.58" fill="#8f440e"/><rect x="71.60" y="902.14" width="13.52" height="12.58" fill="#000080"/><rect x="84.52" y="902.14" width="13.52" height="12.58" fill="#063d7f"/><rect x="97.44" y="902.14" width="13.52" height="12.58" fill="#13b97e"/><rect x="110.36" y="902.14" width="13.52" height="12.58" fill="#1af065"/><rect x="123.28" y="902.14" width="13.52" height="12.58" fill="#1df03c"/><rect x="136.20" y="902.14" width="13.52" height="12.58" fill="#31f12b"/><rect x="149.12" y="902.14" width="13.52" height="12.58" fill="#51f32c"/><rect x="162.04" y="902.14" width="13.52" height="12.58" fill="#6ff42d"/><rect x="174.96" y="902.14" width="13.52" height="12.58" fill="#82d728"/><rect x="187.88" y="902.14" width="13.52" height="12.58" fill="#8d9f1f"/><rect x="200.80" y="902.14" width="13.52" height="12.58" fill="#916c16"/><rect x="213.72" y="902.14" width="13.52" height="12.58" fill="#8e3f0d"/><rect x="226.64" y="902.14" width="13.52" height="12.58" fill="#8c1c06"/><rect x="239.56" y="902.14" width="13.52" height="12.58" fill="#8b0401"/><rect x="252.48" y="902.14" width="13.52" height="12.58" fill="#8b0000"/><rect x="265.40" y="902.14" width="13.52" height="12.58" fill="#8b0000"/><rect x="278.32" y="902.14" width="13.52" height="12.58" fill="#8b0000"/><rect x="291.24" y="902.14" width="13.52" height="12.58" fill="#8c0f03"/><rect x="304.16" y="902.14" width="13.52" height="12.58" fill="#8d2d09"/><rect x="317.08" y="902.14" width="13.52" height="12.58" fill="#8f5511"/><rect x="71.60" y="914.12" width="13.52" height="12.58" fill="#000080"/><rect x="84.52" y="914.12" width="13.52" height="12.58" fill="#000080"/><rect x="97.44" y="914.12" width="13.52" height="12.58" fill="#0d7e7e"/><rect x="110.36" y="914.12" width="13.52" height="12.58" fill="#19f07c"/><rect x="123.28" y="914.12" width="13.52" height="12.58" fill="#1cf052"/><rect x="136.20" y="914.12" width="13.52" height="12.58" fill="#1ef02b"/><rect x="149.12" y="914.12" width="13.52" height="12.58" fill="#3ef22b"/><rect x="162.04" y="914.12" width="13.52" height="12.58" fill="#5cf32c"/><rect x="174.96" y="914.12" width="13.52" height="12.58" fill="#77f52d"/><rect x="187.88" y="914.12" width="13.52" height="12.58" fill="#85c826"/><rect x="200.80" y="914.12" width="13.52" height="12.58" fill="#8e981e"/><rect x="213.72" y="914.12" width="13.52" height="12.58" fill="#916b16"/><rect x="226.64" y="914.12" width="13.52" height="12.58" fill="#8f460e"/><rect x="239.56" y="914.12" width="13.52" height="12.58" fill="#8d2c09"/><rect x="252.48" y="914.12" width="13.52" height="12.58" fill="#8c1c06"/><rect x="265.40" y="914.12" width="13.52" height="12.58" fill="#8c1705"/><rect x="278.32" y="914.12" width="13.52" height="12.58" fill="#8c1d06"/><rect x="291.24" y="914.12" width="13.52" height="12.58" fill="#8d2d09"/><rect x="304.16" y="914.12" width="13.52" height="12.58" fill="#8f480f"/><rect x="317.08" y="914.12" width="13.52" height="12.58" fill="#916e16"/></g>
<path d="M83.6,926.1 L82.4,923.7 L81.9,922.9 L81.1,921.3 L79.9,918.9 L79.4,917.7 L78.8,916.5 L77.6,914.1 L76.8,912.4 L76.5,911.7 L75.4,909.3 L74.3,906.9 L74.2,906.7 L73.2,904.5 L72.2,902.1 L71.6,900.8" fill="none" stroke="#000" stroke-width="0.9"/>
<path d="M71.6,699.2 L72.0,698.5 L73.5,696.1 L74.2,695.0 L75.0,693.7 L76.6,691.3 L76.8,691.0 L78.2,688.9 L79.4,687.3 L79.9,686.5" fill="none" stroke="#000" stroke-width="0.9"/>
<path d="M330.0,687.9 L328.3,686.5" fill="none" stroke="#000" stroke-width="0.9"/>
<path d="M102.7,926.1 L102.6,925.9 L101.4,923.7 L100.1,921.3 L100.0,921.2 L98.8,918.9 L97.6,916.5 L97.4,916.2 L96.4,914.1 L95.2,911.7 L94.9,911.1 L94.0,909.3 L92.9,906.9 L92.3,905.7 L91.8,904.5 L90.7,902.1 L89.7,899.9 L89.6,899.7 L88.6,897.3 L87.6,895.0 L87.1,893.8 L86.6,892.6 L85.6,890.2 L84.7,887.8 L84.5,887.3 L83.8,885.4 L82.9,883.0 L82.0,880.6 L81.9,880.3 L81.2,878.2 L80.4,875.8 L79.6,873.4 L79.4,872.6 L78.8,871.0 L78.1,868.6 L77.4,866.2 L76.8,864.1 L76.7,863.8 L76.0,861.4 L75.4,859.0 L74.8,856.6 L74.2,854.3 L74.2,854.2 L73.6,851.8 L73.1,849.4 L72.5,847.0 L72.0,844.6 L71.6,842.4" fill="none" stroke="#000" stroke-width="0.9"/>
<path d="M71.6,757.6 L72.0,756.0 L72.5,753.6 L73.2,751.2 L73.8,748.8 L74.2,747.4 L74.5,746.4 L75.2,744.0 L76.0,741.6 L76.8,739.3 L76.8,739.2 L77.7,736.8 L78.6,734.4 L79.4,732.4 L79.5,732.0 L80.5,729.6 L81.6,727.2 L81.9,726.4 L82.7,724.8 L83.8,722.4 L84.5,721.0 L85.0,720.0 L86.3,717.6 L87.1,716.2 L87.6,715.3 L89.0,712.9 L89.7,711.8 L90.5,710.5 L92.1,708.1 L92.3,707.7 L93.7,705.7 L94.9,704.0 L95.4,703.3 L97.1,700.9 L97.4,700.5 L99.0,698.5 L100.0,697.3 L101.0,696.1 L102.6,694.2 L103.1,693.7 L105.2,691.4 L105.3,691.3 L107.6,688.9 L107.8,688.7 L110.0,686.5" fill="none" stroke="#000" stroke-width="0.9"/>
<path d="M330.0,710.6 L329.9,710.5 L327.4,708.3 L327.1,708.1 L324.8,706.1 L324.3,705.7 L322.2,704.0 L321.4,703.3 L319.7,701.9 L318.4,700.9 L317.1,699.9 L315.3,698.5 L314.5,697.9 L312.1,696.1 L311.9,695.9 L309.3,694.1 L308.8,693.7 L306.7,692.2 L305.4,691.3 L304.2,690.4 L301.9,688.9 L301.6,688.7 L299.0,687.0 L298.2,686.5" fill="none" stroke="#000" stroke-width="0.9"/>
<path d="M124.4,926.1 L123.3,924.2 L123.0,923.7 L121.6,921.3 L120.7,919.8 L120.2,918.9 L118.8,916.5 L118.1,915.2 L117.5,914.1 L116.3,911.7 L115.5,910.3 L115.0,909.3 L113.8,906.9 L112.9,905.2 L112.6,904.5 L111.5,902.1 L110.4,899.8 L110.3,899.7 L109.2,897.3 L108.2,895.0 L107.8,894.0 L107.1,892.6 L106.1,890.2 L105.2,887.8 L105.2,887.8 L104.2,885.4 L103.3,883.0 L102.6,881.2 L102.4,880.6 L101.5,878.2 L100.7,875.8 L100.0,873.8 L99.9,873.4 L99.1,871.0 L98.3,868.6 L97.6,866.2 L97.4,865.6 L96.9,863.8 L96.2,861.4 L95.6,859.0 L95.0,856.6 L94.9,856.1 L94.4,854.2 L93.8,851.8 L93.3,849.4 L92.8,847.0 L92.3,844.6 L92.3,844.6 L91.8,842.2 L91.4,839.8 L91.0,837.4 L90.6,835.1 L90.3,832.7 L90.0,830.3 L89.7,828.0 L89.7,827.9 L89.4,825.5 L89.2,823.1 L89.0,820.7 L88.8,818.3 L88.7,815.9 L88.5,813.5 L88.5,811.1 L88.4,808.7 L88.4,806.3 L88.4,803.9 L88.4,801.5 L88.5,799.1 L88.6,796.7 L88.7,794.3 L88.9,791.9 L89.1,789.5 L89.3,787.1 L89.6,784.7 L89.7,783.8 L89.9,782.3 L90.2,779.9 L90.6,777.5 L91.0,775.2 L91.4,772.8 L91.9,770.4 L92.3,768.8 L92.5,768.0 L93.0,765.6 L93.7,763.2 L94.3,760.8 L94.9,758.9 L95.0,758.4 L95.8,756.0 L96.6,753.6 L97.4,751.2 L97.4,751.1 L98.3,748.8 L99.3,746.4 L100.0,744.6 L100.3,744.0 L101.3,741.6 L102.5,739.2 L102.6,738.9 L103.7,736.8 L104.9,734.4 L105.2,733.9 L106.2,732.0 L107.6,729.6 L107.8,729.4 L109.1,727.2 L110.4,725.3 L110.7,724.8 L112.3,722.4 L112.9,721.6 L114.1,720.0 L115.5,718.1 L115.9,717.6 L117.9,715.3 L118.1,714.9 L119.9,712.9 L120.7,712.0 L122.1,710.5 L123.3,709.2 L124.5,708.1 L125.9,706.7 L126.9,705.7 L128.4,704.3 L129.6,703.3 L131.0,702.1 L132.5,700.9 L133.6,700.0 L135.6,698.5 L136.2,698.0 L138.8,696.2 L138.9,696.1 L141.4,694.4 L142.6,693.7 L144.0,692.8 L146.5,691.3 L146.6,691.3 L149.1,689.9 L151.1,688.9 L151.7,688.6 L154.3,687.4 L156.3,686.5" fill="none" stroke="#000" stroke-width="0.9"/>
<path d="M330.0,736.7 L327.7,734.4 L327.4,734.2 L325.1,732.0 L324.8,731.8 L322.5,729.6 L322.2,729.4 L319.8,727.2 L319.7,727.1 L317.1,724.9 L317.0,724.8 L314.5,722.7 L314.2,722.4 L311.9,720.6 L311.2,720.0 L309.3,718.6 L308.1,717.6 L306.7,716.6 L305.0,715.3 L304.2,714.6 L301.7,712.9 L301.6,712.8 L299.0,710.9 L298.3,710.5 L296.4,709.2 L294.7,708.1 L293.8,707.5 L291.2,705.8 L291.0,705.7 L288.7,704.2 L287.1,703.3 L286.1,702.6 L283.5,701.1 L283.1,700.9 L280.9,699.7 L278.8,698.5 L278.3,698.2 L275.7,696.9 L274.2,696.1 L273.2,695.6 L270.6,694.3 L269.3,693.7 L268.0,693.1 L265.4,691.9 L264.0,691.3 L262.8,690.8 L260.2,689.7 L258.3,688.9 L257.6,688.6 L255.1,687.6 L252.5,686.7 L251.9,686.5" fill="none" stroke="#000" stroke-width="0.9"/>
<path d="M150.1,926.1 L149.1,924.7 L148.5,923.7 L146.9,921.3 L146.5,920.8 L145.4,918.9 L144.0,916.7 L143.9,916.5 L142.4,914.1 L141.4,912.4 L141.0,911.7 L139.6,909.3 L138.8,907.8 L138.3,906.9 L137.0,904.5 L136.2,903.1 L135.7,902.1 L134.5,899.7 L133.6,898.0 L133.3,897.3 L132.2,895.0 L131.0,892.6 L131.0,892.6 L130.0,890.2 L128.9,887.8 L128.4,886.7 L127.9,885.4 L126.9,883.0 L126.0,880.6 L125.9,880.3 L125.1,878.2 L124.2,875.8 L123.3,873.4 L123.3,873.3 L122.5,871.0 L121.7,868.6 L121.0,866.2 L120.7,865.3 L120.3,863.8 L119.6,861.4 L118.9,859.0 L118.3,856.6 L118.1,855.8 L117.7,854.2 L117.2,851.8 L116.6,849.4 L116.1,847.0 L115.7,844.6 L115.5,843.8 L115.3,842.2 L114.9,839.8 L114.5,837.4 L114.2,835.1 L113.9,832.7 L113.6,830.3 L113.4,827.9 L113.2,825.5 L113.0,823.1 L112.9,821.8 L112.9,820.7 L112.8,818.3 L112.7,815.9 L112.7,813.5 L112.7,811.1 L112.8,808.7 L112.9,806.3 L112.9,805.0 L113.0,803.9 L113.2,801.5 L113.4,799.1 L113.6,796.7 L113.9,794.3 L114.3,791.9 L114.6,789.5 L115.0,787.1 L115.5,784.7 L115.5,784.6 L116.0,782.3 L116.6,779.9 L117.2,777.5 L117.9,775.2 L118.1,774.3 L118.6,772.8 L119.3,770.4 L120.2,768.0 L120.7,766.5 L121.1,765.6 L122.0,763.2 L123.0,760.8 L123.3,760.2 L124.1,758.4 L125.3,756.0 L125.9,754.8 L126.5,753.6 L127.8,751.2 L128.4,750.1 L129.2,748.8 L130.7,746.4 L131.0,745.9 L132.3,744.0 L133.6,742.2 L134.0,741.6 L135.9,739.2 L136.2,738.8 L137.8,736.8 L138.8,735.7 L139.9,734.4 L141.4,732.8 L142.1,732.0 L144.0,730.2 L144.5,729.6 L146.5,727.8 L147.1,727.2 L149.1,725.5 L150.0,724.8 L151.7,723.5 L153.1,722.4 L154.3,721.6 L156.5,720.0 L156.9,719.8 L159.5,718.2 L160.3,717.6 L162.0,716.7 L164.6,715.3 L164.6,715.3 L167.2,714.0 L169.6,712.9 L169.8,712.8 L172.4,711.7 L175.0,710.7 L175.7,710.5 L177.5,709.8 L180.1,709.0 L182.7,708.3 L183.5,708.1 L185.3,707.6 L187.9,707.0 L190.5,706.5 L193.0,706.1 L195.6,705.7 L196.1,705.7 L198.2,705.4 L200.8,705.2 L203.4,705.0 L206.0,704.9 L208.6,704.9 L211.1,704.9 L213.7,705.0 L216.3,705.2 L218.9,705.4 L221.5,705.6 L221.8,705.7 L224.1,705.9 L226.6,706.3 L229.2,706.7 L231.8,707.2 L234.4,707.8 L235.7,708.1 L237.0,708.4 L239.6,709.0 L242.1,709.7 L244.7,710.4 L244.8,710.5 L247.3,711.3 L249.9,712.1 L252.0,712.9 L252.5,713.0 L255.1,714.0 L257.6,715.0 L258.2,715.3 L260.2,716.1 L262.8,717.2 L263.7,717.6 L265.4,718.4 L268.0,719.7 L268.8,720.0 L270.6,721.0 L273.2,722.3 L273.4,722.4 L275.7,723.7 L277.7,724.8 L278.3,725.2 L280.9,726.7 L281.8,727.2 L283.5,728.3 L285.6,729.6 L286.1,729.9 L288.7,731.6 L289.2,732.0 L291.2,733.4 L292.7,734.4 L293.8,735.2 L296.0,736.8 L296.4,737.1 L299.0,739.1 L299.2,739.2 L301.6,741.1 L302.2,741.6 L304.2,743.2 L305.1,744.0 L306.7,745.4 L307.9,746.4 L309.3,747.6 L310.7,748.8 L311.9,749.9 L313.3,751.2 L314.5,752.3 L315.8,753.6 L317.1,754.8 L318.3,756.0 L319.7,757.4 L320.6,758.4 L322.2,760.0 L323.0,760.8 L324.8,762.8 L325.2,763.2 L327.4,765.6 L327.4,765.6 L329.5,768.0 L330.0,768.6" fill="none" stroke="#000" stroke-width="0.9"/>
<path d="M183.5,926.1 L182.7,925.1 L181.5,923.7 L180.1,922.0 L179.5,921.3 L177.6,918.9 L177.5,918.8 L175.8,916.5 L175.0,915.4 L174.1,914.1 L172.4,911.8 L172.3,911.7 L170.7,909.3 L169.8,908.0 L169.1,906.9 L167.6,904.5 L167.2,903.9 L166.1,902.1 L164.7,899.7 L164.6,899.6 L163.3,897.3 L162.0,895.1 L162.0,895.0 L160.7,892.6 L159.5,890.2 L159.5,890.1 L158.3,887.8 L157.2,885.4 L156.9,884.7 L156.1,883.0 L155.0,880.6 L154.3,878.8 L154.0,878.2 L153.1,875.8 L152.2,873.4 L151.7,872.2 L151.3,871.0 L150.5,868.6 L149.7,866.2 L149.1,864.5 L148.9,863.8 L148.2,861.4 L147.5,859.0 L146.9,856.6 L146.5,855.1 L146.3,854.2 L145.8,851.8 L145.3,849.4 L144.8,847.0 L144.4,844.6 L144.0,842.2 L144.0,841.7 L143.7,839.8 L143.4,837.4 L143.2,835.1 L143.0,832.7 L142.8,830.3 L142.7,827.9 L142.6,825.5 L142.6,823.1 L142.6,820.7 L142.7,818.3 L142.8,815.9 L143.0,813.5 L143.2,811.1 L143.5,808.7 L143.8,806.3 L144.0,805.2 L144.2,803.9 L144.6,801.5 L145.1,799.1 L145.7,796.7 L146.3,794.3 L146.5,793.4 L147.0,791.9 L147.8,789.5 L148.6,787.1 L149.1,785.7 L149.5,784.7 L150.5,782.3 L151.6,779.9 L151.7,779.7 L152.8,777.5 L154.1,775.2 L154.3,774.7 L155.5,772.8 L156.9,770.5 L157.0,770.4 L158.6,768.0 L159.5,766.8 L160.4,765.6 L162.0,763.5 L162.3,763.2 L164.5,760.8 L164.6,760.6 L166.8,758.4 L167.2,758.0 L169.4,756.0 L169.8,755.6 L172.2,753.6 L172.4,753.5 L175.0,751.6 L175.5,751.2 L177.5,749.8 L179.2,748.8 L180.1,748.2 L182.7,746.8 L183.5,746.4 L185.3,745.5 L187.9,744.4 L188.8,744.0 L190.5,743.3 L193.0,742.4 L195.6,741.6 L195.6,741.6 L198.2,740.9 L200.8,740.3 L203.4,739.8 L206.0,739.4 L207.4,739.2 L208.6,739.1 L211.1,738.8 L213.7,738.7 L216.3,738.6 L218.9,738.6 L221.5,738.7 L224.1,738.9 L226.6,739.1 L227.6,739.2 L229.2,739.4 L231.8,739.8 L234.4,740.2 L237.0,740.8 L239.6,741.4 L240.6,741.6 L242.1,742.0 L244.7,742.7 L247.3,743.5 L248.7,744.0 L249.9,744.4 L252.5,745.3 L255.1,746.3 L255.2,746.4 L257.6,747.4 L260.2,748.6 L260.7,748.8 L262.8,749.8 L265.4,751.1 L265.6,751.2 L268.0,752.4 L270.1,753.6 L270.6,753.9 L273.2,755.4 L274.2,756.0 L275.7,757.0 L278.0,758.4 L278.3,758.6 L280.9,760.3 L281.5,760.8 L283.5,762.2 L284.9,763.2 L286.1,764.1 L288.0,765.6 L288.7,766.1 L291.0,768.0 L291.2,768.1 L293.8,770.3 L293.9,770.4 L296.4,772.6 L296.6,772.8 L299.0,774.9 L299.2,775.2 L301.6,777.4 L301.7,777.5 L304.1,779.9 L304.2,780.0 L306.4,782.3 L306.7,782.7 L308.7,784.7 L309.3,785.5 L310.8,787.1 L311.9,788.4 L312.9,789.5 L314.5,791.5 L314.8,791.9 L316.8,794.3 L317.1,794.7 L318.6,796.7 L319.7,798.1 L320.4,799.1 L322.1,801.5 L322.2,801.7 L323.7,803.9 L324.8,805.5 L325.4,806.3 L326.9,808.7 L327.4,809.5 L328.4,811.1 L329.8,813.5 L330.0,813.8" fill="none" stroke="#000" stroke-width="0.9"/>
<path d="M256.4,926.1 L255.1,925.9 L252.5,925.3 L249.9,924.6 L247.3,923.9 L246.8,923.7 L244.7,923.0 L242.1,921.9 L240.7,921.3 L239.6,920.8 L237.0,919.6 L235.7,918.9 L234.4,918.2 L231.8,916.7 L231.5,916.5 L229.2,915.0 L227.8,914.1 L226.6,913.3 L224.5,911.7 L224.1,911.4 L221.5,909.3 L221.5,909.3 L218.9,907.1 L218.7,906.9 L216.3,904.8 L216.1,904.5 L213.7,902.2 L213.6,902.1 L211.4,899.7 L211.1,899.5 L209.3,897.3 L208.6,896.5 L207.3,895.0 L206.0,893.3 L205.4,892.6 L203.7,890.2 L203.4,889.8 L202.0,887.8 L200.8,885.9 L200.4,885.4 L199.0,883.0 L198.2,881.7 L197.6,880.6 L196.3,878.2 L195.6,876.9 L195.1,875.8 L193.9,873.4 L193.0,871.4 L192.9,871.0 L191.9,868.6 L191.0,866.2 L190.5,864.8 L190.1,863.8 L189.3,861.4 L188.6,859.0 L188.0,856.6 L187.9,856.1 L187.4,854.2 L186.9,851.8 L186.5,849.4 L186.2,847.0 L185.9,844.6 L185.7,842.2 L185.5,839.8 L185.5,837.4 L185.5,835.1 L185.6,832.7 L185.8,830.3 L186.1,827.9 L186.4,825.5 L186.9,823.1 L187.5,820.7 L187.9,819.2 L188.1,818.3 L189.0,815.9 L189.9,813.5 L190.5,812.2 L191.0,811.1 L192.2,808.7 L193.0,807.2 L193.6,806.3 L195.3,803.9 L195.6,803.4 L197.2,801.5 L198.2,800.3 L199.4,799.1 L200.8,797.7 L202.0,796.7 L203.4,795.6 L205.1,794.3 L206.0,793.7 L208.6,792.2 L209.0,791.9 L211.1,790.9 L213.7,789.8 L214.5,789.5 L216.3,788.9 L218.9,788.2 L221.5,787.7 L224.1,787.3 L226.2,787.1 L226.6,787.1 L229.2,787.0 L231.8,787.0 L233.1,787.1 L234.4,787.2 L237.0,787.5 L239.6,787.9 L242.1,788.5 L244.7,789.1 L246.1,789.5 L247.3,789.9 L249.9,790.8 L252.5,791.8 L252.8,791.9 L255.1,792.9 L257.6,794.2 L258.0,794.3 L260.2,795.5 L262.3,796.7 L262.8,797.0 L265.4,798.6 L266.1,799.1 L268.0,800.4 L269.5,801.5 L270.6,802.3 L272.7,803.9 L273.2,804.3 L275.5,806.3 L275.7,806.5 L278.2,808.7 L278.3,808.8 L280.6,811.1 L280.9,811.4 L282.9,813.5 L283.5,814.1 L285.1,815.9 L286.1,817.1 L287.1,818.3 L288.7,820.3 L289.0,820.7 L290.8,823.1 L291.2,823.7 L292.4,825.5 L293.8,827.5 L294.0,827.9 L295.5,830.3 L296.4,831.7 L296.9,832.7 L298.3,835.1 L299.0,836.5 L299.5,837.4 L300.6,839.8 L301.6,841.9 L301.7,842.2 L302.7,844.6 L303.7,847.0 L304.2,848.3 L304.5,849.4 L305.3,851.8 L306.1,854.2 L306.7,856.6 L306.7,856.7 L307.3,859.0 L307.8,861.4 L308.3,863.8 L308.6,866.2 L308.9,868.6 L309.2,871.0 L309.3,873.4 L309.3,873.6 L309.4,875.8 L309.4,878.2 L309.3,880.3 L309.3,880.6 L309.2,883.0 L308.9,885.4 L308.5,887.8 L308.1,890.2 L307.6,892.6 L306.9,895.0 L306.7,895.5 L306.1,897.3 L305.2,899.7 L304.2,902.1 L304.2,902.3 L303.0,904.5 L301.6,906.9 L301.6,907.0 L300.0,909.3 L299.0,910.8 L298.2,911.7 L296.4,913.8 L296.1,914.1 L293.8,916.4 L293.6,916.5 L291.2,918.5 L290.7,918.9 L288.7,920.3 L286.9,921.3 L286.1,921.8 L283.5,923.1 L282.0,923.7 L280.9,924.1 L278.3,925.0 L275.7,925.7 L273.7,926.1" fill="none" stroke="#000" stroke-width="0.9"/>
<path d="M71.6,686.5 L330.0,686.5" stroke="#666" stroke-width="1" fill="none"/>
<path d="M71.6,686.5 L71.6,926.1" stroke="#555" stroke-width="1" fill="none"/>
<path d="M330.0,686.5 L330.0,926.1" stroke="#555" stroke-width="1" fill="none"/>
<path d="M71.1,926.1 L330.5,926.1" stroke="#222" stroke-width="1" fill="none"/>
<path d="M71.6,926.1 L71.6,932.6" stroke="#222" stroke-width="1"/>
<text x="71.6" y="942.4" font-size="8" text-anchor="middle" font-family="Liberation Sans, sans-serif" fill="#111">-1</text>
<path d="M65.1,926.1 L71.6,926.1" stroke="#222" stroke-width="1"/>
<text x="62.6" y="929.0" font-size="8" text-anchor="end" font-family="Liberation Sans, sans-serif" fill="#111">-1</text>
<path d="M136.2,926.1 L136.2,932.6" stroke="#222" stroke-width="1"/>
<text x="136.2" y="942.4" font-size="8" text-anchor="middle" font-family="Liberation Sans, sans-serif" fill="#111">-0.5</text>
<path d="M65.1,866.2 L71.6,866.2" stroke="#222" stroke-width="1"/>
<text x="62.6" y="869.1" font-size="8" text-anchor="end" font-family="Liberation Sans, sans-serif" fill="#111">-0.5</text>
<path d="M200.8,926.1 L200.8,932.6" stroke="#222" stroke-width="1"/>
<text x="200.8" y="942.4" font-size="8" text-anchor="middle" font-family="Liberation Sans, sans-serif" fill="#111">0</text>
<path d="M65.1,806.3 L71.6,806.3" stroke="#222" stroke-width="1"/>
<text x="62.6" y="809.2" font-size="8" text-anchor="end" font-family="Liberation Sans, sans-serif" fill="#111">0</text>
<path d="M265.4,926.1 L265.4,932.6" stroke="#222" stroke-width="1"/>
<text x="265.4" y="942.4" font-size="8" text-anchor="middle" font-family="Liberation Sans, sans-serif" fill="#111">0.5</text>
<path d="M65.1,746.4 L71.6,746.4" stroke="#222" stroke-width="1"/>
<text x="62.6" y="749.3" font-size="8" text-anchor="end" font-family="Liberation Sans, sans-serif" fill="#111">0.5</text>
<path d="M330.0,926.1 L330.0,932.6" stroke="#222" stroke-width="1"/>
<text x="330.0" y="942.4" font-size="8" text-anchor="middle" font-family="Liberation Sans, sans-serif" fill="#111">1</text>
<path d="M65.1,686.5 L71.6,686.5" stroke="#222" stroke-width="1"/>
<text x="62.6" y="689.4" font-size="8" text-anchor="end" font-family="Liberation Sans, sans-serif" fill="#111">1</text>
<rect x="232.8" y="779.2" width="12.5" height="8.5" fill="#fff" stroke="#222" stroke-width="0.8"/>
<text x="239.0" y="786.5" font-size="8.3" text-anchor="middle" font-family="Liberation Sans, sans-serif" fill="#111">90</text>
<rect x="168.8" y="743.4" width="12.5" height="8.5" fill="#fff" stroke="#222" stroke-width="0.8"/>
<text x="175.0" y="750.6" font-size="8.3" text-anchor="middle" font-family="Liberation Sans, sans-serif" fill="#111">80</text>
<rect x="143.1" y="717.8" width="12.5" height="8.5" fill="#fff" stroke="#222" stroke-width="0.8"/>
<text x="149.3" y="725.0" font-size="8.3" text-anchor="middle" font-family="Liberation Sans, sans-serif" fill="#111">70</text>
<rect x="82.7" y="785.6" width="12.5" height="8.5" fill="#fff" stroke="#222" stroke-width="0.8"/>
<text x="88.9" y="792.9" font-size="8.3" text-anchor="middle" font-family="Liberation Sans, sans-serif" fill="#111">60</text>
<rect x="78.2" y="713.2" width="12.5" height="8.5" fill="#fff" stroke="#222" stroke-width="0.8"/>
<text x="84.5" y="720.5" font-size="8.3" text-anchor="middle" font-family="Liberation Sans, sans-serif" fill="#111">50</text>
<rect x="77.8" y="877.8" width="12.5" height="8.5" fill="#fff" stroke="#222" stroke-width="0.8"/>
<text x="84.0" y="885.0" font-size="8.3" text-anchor="middle" font-family="Liberation Sans, sans-serif" fill="#111">50</text>
<rect x="284.8" y="697.8" width="12.5" height="8.5" fill="#fff" stroke="#222" stroke-width="0.8"/>
<text x="291.0" y="705.0" font-size="8.3" text-anchor="middle" font-family="Liberation Sans, sans-serif" fill="#111">60</text>
<rect x="308.2" y="689.8" width="12.5" height="8.5" fill="#fff" stroke="#222" stroke-width="0.8"/>
<text x="314.5" y="697.0" font-size="8.3" text-anchor="middle" font-family="Liberation Sans, sans-serif" fill="#111">50</text>
<text x="200.5" y="680.3" font-size="14.8" text-anchor="middle" font-family="Liberation Sans, sans-serif" fill="#111">%R-TMP</text>
<text x="200" y="974.5" font-size="11" text-anchor="middle" font-family="Liberation Sans, sans-serif" fill="#111">B</text>
<text transform="translate(27.5,806) rotate(-90)" font-size="11" text-anchor="middle" font-family="Liberation Sans, sans-serif" fill="#111">D</text>
<text x="-3" y="717" font-size="21" font-family="Liberation Sans, sans-serif" fill="#111">(C)</text>
<path d="M484.6,227.7 L637.4,182.3" stroke="#2a2a2a" stroke-width="0.9" fill="none"/>
<path d="M637.4,182.3 L783.7,230.4" stroke="#2a2a2a" stroke-width="0.9" fill="none"/>
<path d="M637.4,182.3 L637.1,2.9" stroke="#2a2a2a" stroke-width="0.9" fill="none"/>
<path d="M476.5,29.0 L637.1,2.9" stroke="#2a2a2a" stroke-width="0.9" fill="none"/>
<path d="M637.1,2.9 L791.8,30.5" stroke="#2a2a2a" stroke-width="0.9" fill="none"/>
<path d="M484.6,227.7 L629.7,289.9" stroke="#1a1a1a" stroke-width="1.0" fill="none"/>
<path d="M629.7,289.9 L783.7,230.4" stroke="#1a1a1a" stroke-width="1.0" fill="none"/>
<path d="M484.6,227.7 L476.5,29.0" stroke="#1a1a1a" stroke-width="1.0" fill="none"/>
<path d="M783.7,230.4 L791.8,30.5" stroke="#1a1a1a" stroke-width="1.0" fill="none"/>
<path d="M507.8,237.9 L507.8,237.9 L507.1,237.1 L506.4,236.4 L506.1,235.9 L505.8,235.6 L505.2,234.8 L504.7,234.1 L504.7,234.0 L504.1,233.2 L503.6,232.4 L503.6,232.4 L503.1,231.6 L502.7,230.8 L502.7,230.7 L502.3,230.0 L501.9,229.2 L501.9,229.1 L501.5,228.3 L501.2,227.7 L501.2,227.5 L500.9,226.6 L500.7,226.2 L500.6,225.8 L500.3,225.0 L500.3,224.8 L500.1,224.1 L500.0,223.5 L500.0,223.2" fill="none" stroke="#3fe890" stroke-width="0.9"/>
<path d="M585.2,271.0 L587.0,271.3 L589.3,271.6 L590.4,271.8 L591.6,272.0 L594.0,272.4 L595.4,272.6 L596.4,272.7 L598.9,273.0 L600.1,273.2 L601.4,273.4 L604.0,273.7 L604.6,273.7 L606.6,273.9 L608.9,274.2 L609.3,274.2 L612.0,274.5 L613.0,274.6 L614.7,274.7 L617.0,274.9 L617.5,274.9 L620.4,275.1 L620.9,275.1 L623.3,275.3 L624.7,275.4 L626.3,275.4 L628.3,275.5 L629.4,275.6 L631.9,275.7 L632.5,275.7 L635.4,275.8 L635.7,275.8 L638.7,275.8 L638.9,275.8 L642.1,275.9 L642.2,275.9 L645.3,275.9 L645.7,275.9 L648.5,275.8 L649.2,275.8 L651.6,275.8 L652.8,275.7 L654.6,275.7 L656.5,275.6 L657.6,275.6 L660.3,275.5 L660.6,275.5 L663.4,275.3 L664.2,275.3 L666.2,275.2 L668.3,275.0" fill="none" stroke="#3fe890" stroke-width="0.9"/>
<path d="M528.5,214.7 L528.4,215.3 L528.4,215.6 L528.4,216.4 L528.4,216.5 L528.4,217.4 L528.4,217.6 L528.5,218.3 L528.5,218.8 L528.6,219.1 L528.7,220.0 L528.7,220.0 L529.0,220.9 L529.1,221.3 L529.2,221.7 L529.5,222.6 L529.5,222.6 L529.8,223.4 L530.0,224.0 L530.1,224.2 L530.5,225.0 L530.7,225.4 L531.0,225.8 L531.4,226.7 L531.6,227.0 L531.9,227.4 L532.4,228.2 L532.7,228.6 L533.0,229.0 L533.6,229.8 L534.1,230.4 L534.2,230.6 L534.9,231.3 L535.6,232.1 L535.8,232.3 L536.3,232.8 L537.1,233.6 L537.9,234.3 L537.9,234.4 L538.7,235.0 L539.6,235.8 L540.4,236.5 L540.8,236.8 L541.4,237.2 L542.3,237.9 L543.3,238.6 L544.3,239.3 L545.0,239.7 L545.3,240.0 L546.4,240.6 L547.5,241.3 L548.7,242.0 L549.8,242.6 L551.0,243.3 L552.2,243.9 L553.2,244.4 L553.5,244.5 L554.8,245.1 L556.1,245.8 L557.5,246.4 L558.8,247.0 L560.3,247.6 L561.7,248.2 L563.2,248.7 L564.7,249.3 L566.3,249.9 L567.4,250.3 L567.8,250.4 L569.5,251.0 L571.1,251.5 L572.8,252.0 L574.5,252.5 L576.3,253.0 L578.1,253.5 L579.0,253.8 L579.9,254.0 L581.7,254.5 L583.6,255.0 L585.6,255.4 L586.6,255.7 L587.6,255.9 L589.6,256.3 L591.6,256.7 L592.9,257.0 L593.7,257.1 L595.9,257.5 L598.1,257.9 L598.5,258.0 L600.3,258.3 L602.6,258.6 L603.5,258.8 L604.9,259.0 L607.3,259.3 L608.2,259.4 L609.7,259.6 L612.2,259.9 L612.6,259.9 L614.7,260.1 L616.8,260.3 L617.3,260.4 L620.0,260.6 L620.8,260.7 L622.7,260.8 L624.6,261.0 L625.5,261.0 L628.3,261.2 L628.3,261.2 L631.3,261.3 L631.9,261.4 L634.3,261.4 L635.3,261.5 L637.3,261.5 L638.6,261.5 L640.5,261.6 L641.9,261.6 L643.8,261.6 L645.0,261.6 L647.1,261.6 L648.1,261.5 L650.6,261.5 L651.1,261.5 L654.0,261.4 L654.2,261.4 L656.8,261.3 L658.0,261.2 L659.6,261.1 L661.9,261.0 L662.3,261.0 L665.0,260.8 L665.9,260.7 L667.6,260.6 L670.1,260.4 L670.2,260.3 L672.6,260.1 L674.8,259.9 L675.1,259.8 L677.5,259.6 L679.7,259.3 L679.8,259.3 L682.1,258.9 L684.4,258.6 L685.0,258.5 L686.6,258.3 L688.8,257.9 L690.8,257.6 L690.9,257.5 L693.0,257.1 L695.1,256.7 L697.1,256.3 L697.6,256.2 L699.1,255.9 L701.0,255.5 L702.9,255.0 L704.8,254.6 L706.1,254.2 L706.6,254.1 L708.4,253.6 L710.2,253.1 L711.9,252.6 L713.6,252.1 L715.3,251.6 L716.9,251.1 L718.5,250.5 L720.1,250.0 L721.6,249.4 L723.1,248.9 L724.6,248.3 L726.0,247.7 L727.5,247.1 L728.8,246.5 L730.2,245.9 L731.5,245.3 L732.8,244.7 L734.0,244.1 L735.3,243.4 L736.4,242.8 L736.5,242.7 L737.6,242.1 L738.7,241.5 L739.8,240.8 L740.9,240.1 L741.8,239.6 L742.0,239.4 L743.0,238.7 L743.9,238.0 L744.9,237.3 L745.2,237.1 L745.8,236.6 L746.7,235.9 L747.5,235.2 L747.8,234.9 L748.4,234.4 L749.2,233.7 L749.9,233.0 L749.9,232.9 L750.6,232.2 L751.3,231.4 L751.5,231.2 L752.0,230.6 L752.6,229.9 L752.8,229.6 L753.2,229.1 L753.8,228.3 L753.9,228.0 L754.3,227.5 L754.8,226.6 L754.8,226.5 L755.2,225.8 L755.6,225.1 L755.6,225.0 L756.0,224.2 L756.2,223.8 L756.4,223.3 L756.6,222.5 L756.7,222.4 L756.9,221.6" fill="none" stroke="#4be04b" stroke-width="0.9"/>
<path d="M574.3,200.8 L574.2,200.9 L573.4,201.6 L572.8,202.2 L572.6,202.3 L571.8,203.1 L571.5,203.4 L571.1,203.8 L570.5,204.6 L570.5,204.6 L569.8,205.4 L569.6,205.7 L569.3,206.2 L568.9,206.9 L568.8,207.1 L568.3,207.9 L568.3,207.9 L567.9,208.8 L567.8,209.0 L567.5,209.8 L567.5,210.0 L567.2,210.7 L567.2,211.0 L567.0,211.7 L567.0,211.9 L566.9,212.7 L566.9,212.9 L566.9,213.8 L566.9,213.8 L566.9,214.7 L566.9,214.9 L567.0,215.6 L567.1,216.0 L567.2,216.5 L567.4,217.2 L567.4,217.3 L567.7,218.2 L567.9,218.5 L568.1,219.0 L568.5,219.8 L568.5,219.9 L568.9,220.6 L569.4,221.3 L569.5,221.4 L570.0,222.2 L570.6,222.9 L570.6,222.9 L571.3,223.7 L572.0,224.4 L572.2,224.6 L572.7,225.2 L573.5,225.9 L574.4,226.6 L574.4,226.6 L575.2,227.3 L576.2,228.0 L577.1,228.7 L577.8,229.1 L578.2,229.3 L579.2,230.0 L580.3,230.6 L581.5,231.3 L582.6,231.9 L583.9,232.5 L585.1,233.1 L585.7,233.3 L586.4,233.7 L587.8,234.3 L589.2,234.8 L590.6,235.4 L592.1,235.9 L593.0,236.2 L593.7,236.4 L595.3,237.0 L596.9,237.5 L598.6,238.0 L600.3,238.4 L602.1,238.9 L603.9,239.3 L604.0,239.4 L605.8,239.8 L607.7,240.2 L609.7,240.6 L610.5,240.7 L611.7,241.0 L613.8,241.3 L615.8,241.6 L616.0,241.7 L618.2,242.0 L620.4,242.3 L620.5,242.3 L622.9,242.5 L624.7,242.7 L625.4,242.8 L627.9,243.0 L628.6,243.1 L630.5,243.2 L632.2,243.3 L633.2,243.4 L635.7,243.5 L636.0,243.5 L639.0,243.6 L639.0,243.6 L642.0,243.6 L642.1,243.6 L645.1,243.6 L645.2,243.6 L648.0,243.6 L648.6,243.6 L650.8,243.5 L652.1,243.4 L653.5,243.4 L655.9,243.2 L656.1,243.2 L658.6,243.0 L659.9,242.9 L661.1,242.8 L663.5,242.6 L664.3,242.5 L665.8,242.3 L668.0,242.0 L669.3,241.8 L670.2,241.7 L672.3,241.4 L674.4,241.0 L675.0,240.9 L676.4,240.7 L678.3,240.3 L680.3,239.9 L682.1,239.4 L682.5,239.4 L683.9,239.0 L685.7,238.6 L687.4,238.1 L689.0,237.6 L690.7,237.1 L692.2,236.6 L693.8,236.1 L695.2,235.6 L696.7,235.0 L698.1,234.5 L699.4,233.9 L700.8,233.3 L702.0,232.7 L703.3,232.1 L704.5,231.5 L704.5,231.4 L705.6,230.8 L706.7,230.2 L707.8,229.5 L708.8,228.9 L709.0,228.7 L709.8,228.2 L710.7,227.5 L711.6,226.8 L711.8,226.6 L712.4,226.1 L713.2,225.4 L713.8,224.8 L714.0,224.6 L714.7,223.9 L715.3,223.2 L715.4,223.1 L716.0,222.3 L716.4,221.8 L716.5,221.5 L717.0,220.7 L717.2,220.4 L717.5,219.9 L717.9,219.1 L717.9,219.1 L718.3,218.2 L718.4,217.9 L718.5,217.4 L718.7,216.7 L718.8,216.5 L718.9,215.6 L718.9,215.6 L719.0,214.6 L719.0,214.5 L719.0,213.7 L719.0,213.5 L719.0,212.7 L718.9,212.5 L718.8,211.8 L718.8,211.5 L718.6,210.7 L718.5,210.5 L718.3,209.7 L718.2,209.6 L717.9,208.8 L717.8,208.6" fill="none" stroke="#a8a840" stroke-width="0.9"/>
<path d="M628.4,184.5 L629.1,184.5 L631.3,184.3 L631.9,184.3 L633.5,184.2 L635.2,184.1 L635.9,184.1 L638.2,184.0 L638.3,184.0 L640.8,184.0 L641.1,184.0 L643.4,184.0" fill="none" stroke="#a8a840" stroke-width="0.9"/>
<g stroke="#000" stroke-width="1" stroke-linejoin="round"><path d="M630.1,33.3 L636.9,30.5 L644.0,32.5 L637.2,35.1Z" fill="#82d428"/><path d="M636.9,30.5 L643.8,28.3 L650.9,30.5 L644.0,32.5Z" fill="#8ca420"/><path d="M622.9,32.1 L629.7,29.2 L636.9,30.5 L630.1,33.3Z" fill="#88b723"/><path d="M615.6,31.6 L622.4,28.5 L629.7,29.2 L622.9,32.1Z" fill="#8ca220"/><path d="M629.7,29.2 L636.6,26.9 L643.8,28.3 L636.9,30.5Z" fill="#92851b"/><path d="M643.8,28.3 L650.8,26.9 L657.9,29.2 L650.9,30.5Z" fill="#917918"/><path d="M608.2,31.8 L615.0,28.7 L622.4,28.5 L615.6,31.6Z" fill="#8f961e"/><path d="M622.4,28.5 L629.3,26.2 L636.6,26.9 L629.7,29.2Z" fill="#916b15"/><path d="M636.6,26.9 L643.6,25.3 L650.8,26.9 L643.8,28.3Z" fill="#8f5311"/><path d="M650.8,26.9 L657.8,26.2 L665.0,28.5 L657.9,29.2Z" fill="#8f5211"/><path d="M615.0,28.7 L621.9,26.2 L629.3,26.2 L622.4,28.5Z" fill="#905a12"/><path d="M600.8,32.8 L607.5,29.5 L615.0,28.7 L608.2,31.8Z" fill="#90911d"/><path d="M629.3,26.2 L636.3,24.5 L643.6,25.3 L636.6,26.9Z" fill="#8e370b"/><path d="M643.6,25.3 L650.6,24.5 L657.8,26.2 L650.8,26.9Z" fill="#8d2b09"/><path d="M657.8,26.2 L665.0,26.2 L672.1,28.7 L665.0,28.5Z" fill="#8e350b"/><path d="M607.5,29.5 L614.4,26.9 L621.9,26.2 L615.0,28.7Z" fill="#8f5311"/><path d="M621.9,26.2 L628.9,24.4 L636.3,24.5 L629.3,26.2Z" fill="#8d2507"/><path d="M650.6,24.5 L657.8,24.4 L665.0,26.2 L657.8,26.2Z" fill="#8c0c02"/><path d="M593.3,34.5 L600.0,31.1 L607.5,29.5 L600.8,32.8Z" fill="#8f951d"/><path d="M636.3,24.5 L643.3,23.6 L650.6,24.5 L643.6,25.3Z" fill="#8c0d03"/><path d="M665.0,26.2 L672.3,26.9 L679.4,29.5 L672.1,28.7Z" fill="#8d2207"/><path d="M600.0,31.1 L606.8,28.4 L614.4,26.9 L607.5,29.5Z" fill="#905711"/><path d="M643.3,23.6 L650.5,23.3 L657.8,24.4 L650.6,24.5Z" fill="#8b0000"/><path d="M585.6,36.9 L592.4,33.5 L600.0,31.1 L593.3,34.5Z" fill="#8da21f"/><path d="M614.4,26.9 L621.4,25.0 L628.9,24.4 L621.9,26.2Z" fill="#8d1d06"/><path d="M628.9,24.4 L635.9,23.3 L643.3,23.6 L636.3,24.5Z" fill="#8b0000"/><path d="M657.8,24.4 L665.1,25.0 L672.3,26.9 L665.0,26.2Z" fill="#8b0000"/><path d="M672.3,26.9 L679.6,28.4 L686.7,31.1 L679.4,29.5Z" fill="#8c1905"/><path d="M578.0,40.2 L584.7,36.6 L592.4,33.5 L585.6,36.9Z" fill="#88b623"/><path d="M592.4,33.5 L599.2,30.7 L606.8,28.4 L600.0,31.1Z" fill="#906414"/><path d="M606.8,28.4 L613.8,26.4 L621.4,25.0 L614.4,26.9Z" fill="#8d1f06"/><path d="M635.9,23.3 L643.1,23.0 L650.5,23.3 L643.3,23.6Z" fill="#8b0000"/><path d="M650.5,23.3 L657.8,23.8 L665.1,25.0 L657.8,24.4Z" fill="#8b0000"/><path d="M621.4,25.0 L628.4,23.9 L635.9,23.3 L628.9,24.4Z" fill="#8b0000"/><path d="M665.1,25.0 L672.4,26.4 L679.6,28.4 L672.3,26.9Z" fill="#8b0000"/><path d="M679.6,28.4 L687.0,30.6 L694.1,33.4 L686.7,31.1Z" fill="#8c1a05"/><path d="M570.2,44.2 L576.9,40.5 L584.7,36.6 L578.0,40.2Z" fill="#83d328"/><path d="M584.7,36.6 L591.5,33.7 L599.2,30.7 L592.4,33.5Z" fill="#917c19"/><path d="M599.2,30.7 L606.1,28.6 L613.8,26.4 L606.8,28.4Z" fill="#8d2b09"/><path d="M613.8,26.4 L620.8,25.2 L628.4,23.9 L621.4,25.0Z" fill="#8b0000"/><path d="M628.4,23.9 L635.6,23.4 L643.1,23.0 L635.9,23.3Z" fill="#8b0000"/><path d="M643.1,23.0 L650.3,23.4 L657.8,23.8 L650.5,23.3Z" fill="#8b0000"/><path d="M657.8,23.8 L665.1,25.1 L672.4,26.4 L665.1,25.0Z" fill="#8b0000"/><path d="M672.4,26.4 L679.8,28.5 L687.0,30.6 L679.6,28.4Z" fill="#8b0000"/><path d="M687.0,30.6 L694.5,33.6 L701.6,36.5 L694.1,33.4Z" fill="#8d2507"/><path d="M576.9,40.5 L583.7,37.5 L591.5,33.7 L584.7,36.6Z" fill="#8e991e"/><path d="M562.4,48.9 L569.0,45.2 L576.9,40.5 L570.2,44.2Z" fill="#7bf52d"/><path d="M591.5,33.7 L598.4,31.5 L606.1,28.6 L599.2,30.7Z" fill="#8e410d"/><path d="M606.1,28.6 L613.2,27.2 L620.8,25.2 L613.8,26.4Z" fill="#8b0000"/><path d="M620.8,25.2 L628.0,24.6 L635.6,23.4 L628.4,23.9Z" fill="#8b0000"/><path d="M635.6,23.4 L642.8,23.7 L650.3,23.4 L643.1,23.0Z" fill="#8b0000"/><path d="M650.3,23.4 L657.7,24.6 L665.1,25.1 L657.8,23.8Z" fill="#8b0000"/><path d="M665.1,25.1 L672.5,27.1 L679.8,28.5 L672.4,26.4Z" fill="#8b0000"/><path d="M679.8,28.5 L687.3,31.4 L694.5,33.6 L687.0,30.6Z" fill="#8b0000"/><path d="M694.5,33.6 L702.1,37.4 L709.1,40.4 L701.6,36.5Z" fill="#8e3a0c"/><path d="M569.0,45.2 L575.8,42.1 L583.7,37.5 L576.9,40.5Z" fill="#87bd24"/><path d="M583.7,37.5 L590.6,35.2 L598.4,31.5 L591.5,33.7Z" fill="#906114"/><path d="M613.2,27.2 L620.3,26.6 L628.0,24.6 L620.8,25.2Z" fill="#8b0000"/><path d="M657.7,24.6 L665.1,26.5 L672.5,27.1 L665.1,25.1Z" fill="#8b0000"/><path d="M672.5,27.1 L680.0,30.0 L687.3,31.4 L679.8,28.5Z" fill="#8b0000"/><path d="M687.3,31.4 L694.9,35.1 L702.1,37.4 L694.5,33.6Z" fill="#8c0a02"/><path d="M598.4,31.5 L605.4,30.1 L613.2,27.2 L606.1,28.6Z" fill="#8c1103"/><path d="M628.0,24.6 L635.2,24.8 L642.8,23.7 L635.6,23.4Z" fill="#8b0000"/><path d="M702.1,37.4 L709.7,42.0 L716.8,45.1 L709.1,40.4Z" fill="#905812"/><path d="M554.5,54.5 L561.1,50.7 L569.0,45.2 L562.4,48.9Z" fill="#69f42c"/><path d="M642.8,23.7 L650.2,24.8 L657.7,24.6 L650.3,23.4Z" fill="#8b0000"/><path d="M605.4,30.1 L612.6,29.3 L620.3,26.6 L613.2,27.2Z" fill="#8b0000"/><path d="M546.6,60.9 L553.2,57.0 L561.1,50.7 L554.5,54.5Z" fill="#54f32c"/><path d="M561.1,50.7 L567.9,47.5 L575.8,42.1 L569.0,45.2Z" fill="#7eea2b"/><path d="M575.8,42.1 L582.7,39.8 L590.6,35.2 L583.7,37.5Z" fill="#918b1c"/><path d="M590.6,35.2 L597.6,33.7 L605.4,30.1 L598.4,31.5Z" fill="#8d300a"/><path d="M620.3,26.6 L627.6,26.7 L635.2,24.8 L628.0,24.6Z" fill="#8b0000"/><path d="M635.2,24.8 L642.6,25.8 L650.2,24.8 L642.8,23.7Z" fill="#8b0000"/><path d="M650.2,24.8 L657.6,26.7 L665.1,26.5 L657.7,24.6Z" fill="#8b0000"/><path d="M665.1,26.5 L672.6,29.3 L680.0,30.0 L672.5,27.1Z" fill="#8b0000"/><path d="M680.0,30.0 L687.6,33.6 L694.9,35.1 L687.3,31.4Z" fill="#8b0000"/><path d="M694.9,35.1 L702.6,39.6 L709.7,42.0 L702.1,37.4Z" fill="#8d2808"/><path d="M709.7,42.0 L717.4,47.4 L724.5,50.6 L716.8,45.1Z" fill="#92811a"/><path d="M553.2,57.0 L559.9,53.8 L567.9,47.5 L561.1,50.7Z" fill="#6cf42c"/><path d="M597.6,33.7 L604.7,32.9 L612.6,29.3 L605.4,30.1Z" fill="#8b0802"/><path d="M672.6,29.3 L680.2,32.8 L687.6,33.6 L680.0,30.0Z" fill="#8b0000"/><path d="M612.6,29.3 L619.8,29.4 L627.6,26.7 L620.3,26.6Z" fill="#8b0000"/><path d="M687.6,33.6 L695.3,38.0 L702.6,39.6 L694.9,35.1Z" fill="#8b0100"/><path d="M538.5,68.1 L545.1,64.1 L553.2,57.0 L546.6,60.9Z" fill="#3bf22b"/><path d="M567.9,47.5 L574.7,45.1 L582.7,39.8 L575.8,42.1Z" fill="#89b623"/><path d="M582.7,39.8 L589.7,38.1 L597.6,33.7 L590.6,35.2Z" fill="#905812"/><path d="M627.6,26.7 L634.9,27.6 L642.6,25.8 L635.2,24.8Z" fill="#8b0000"/><path d="M642.6,25.8 L650.0,27.6 L657.6,26.7 L650.2,24.8Z" fill="#8b0000"/><path d="M657.6,26.7 L665.1,29.3 L672.6,29.3 L665.1,26.5Z" fill="#8b0000"/><path d="M702.6,39.6 L710.3,45.0 L717.4,47.4 L709.7,42.0Z" fill="#8f4f10"/><path d="M717.4,47.4 L725.2,53.6 L732.2,56.9 L724.5,50.6Z" fill="#8aac21"/><path d="M530.5,76.1 L537.0,72.0 L545.1,64.1 L538.5,68.1Z" fill="#1ff02a"/><path d="M545.1,64.1 L551.8,60.8 L559.9,53.8 L553.2,57.0Z" fill="#54f32c"/><path d="M559.9,53.8 L566.7,51.3 L574.7,45.1 L567.9,47.5Z" fill="#7ee92b"/><path d="M589.7,38.1 L596.8,37.3 L604.7,32.9 L597.6,33.7Z" fill="#8d2f09"/><path d="M604.7,32.9 L611.9,32.8 L619.8,29.4 L612.6,29.3Z" fill="#8b0000"/><path d="M619.8,29.4 L627.1,30.2 L634.9,27.6 L627.6,26.7Z" fill="#8b0000"/><path d="M634.9,27.6 L642.3,29.3 L650.0,27.6 L642.6,25.8Z" fill="#8b0000"/><path d="M650.0,27.6 L657.5,30.1 L665.1,29.3 L657.6,26.7Z" fill="#8b0000"/><path d="M665.1,29.3 L672.7,32.8 L680.2,32.8 L672.6,29.3Z" fill="#8b0000"/><path d="M680.2,32.8 L687.9,37.1 L695.3,38.0 L687.6,33.6Z" fill="#8b0000"/><path d="M695.3,38.0 L703.0,43.2 L710.3,45.0 L702.6,39.6Z" fill="#8d2708"/><path d="M710.3,45.0 L718.1,51.1 L725.2,53.6 L717.4,47.4Z" fill="#92801a"/><path d="M725.2,53.6 L733.1,60.7 L740.1,64.0 L732.2,56.9Z" fill="#80de29"/><path d="M574.7,45.1 L581.7,43.4 L589.7,38.1 L582.7,39.8Z" fill="#918a1c"/><path d="M537.0,72.0 L543.7,68.7 L551.8,60.8 L545.1,64.1Z" fill="#38f12b"/><path d="M522.4,84.9 L528.9,80.8 L537.0,72.0 L530.5,76.1Z" fill="#1cf044"/><path d="M551.8,60.8 L558.6,58.2 L566.7,51.3 L559.9,53.8Z" fill="#69f42c"/><path d="M581.7,43.4 L588.8,42.4 L596.8,37.3 L589.7,38.1Z" fill="#906013"/><path d="M596.8,37.3 L604.0,37.1 L611.9,32.8 L604.7,32.9Z" fill="#8c1003"/><path d="M611.9,32.8 L619.2,33.6 L627.1,30.2 L619.8,29.4Z" fill="#8b0000"/><path d="M627.1,30.2 L634.5,31.8 L642.3,29.3 L634.9,27.6Z" fill="#8b0000"/><path d="M642.3,29.3 L649.8,31.8 L657.5,30.1 L650.0,27.6Z" fill="#8b0000"/><path d="M657.5,30.1 L665.1,33.5 L672.7,32.8 L665.1,29.3Z" fill="#8b0000"/><path d="M672.7,32.8 L680.4,37.0 L687.9,37.1 L680.2,32.8Z" fill="#8b0000"/><path d="M687.9,37.1 L695.7,42.3 L703.0,43.2 L695.3,38.0Z" fill="#8b0802"/><path d="M703.0,43.2 L710.9,49.3 L718.1,51.1 L710.3,45.0Z" fill="#905711"/><path d="M718.1,51.1 L726.0,58.1 L733.1,60.7 L725.2,53.6Z" fill="#89b222"/><path d="M733.1,60.7 L741.0,68.5 L747.9,71.9 L740.1,64.0Z" fill="#6ef42d"/><path d="M566.7,51.3 L573.6,49.5 L581.7,43.4 L574.7,45.1Z" fill="#87bd24"/><path d="M528.9,80.8 L535.5,77.4 L543.7,68.7 L537.0,72.0Z" fill="#1ef02e"/><path d="M543.7,68.7 L550.4,66.1 L558.6,58.2 L551.8,60.8Z" fill="#4ef32c"/><path d="M573.6,49.5 L580.7,48.5 L588.8,42.4 L581.7,43.4Z" fill="#8e981e"/><path d="M619.2,33.6 L626.6,35.1 L634.5,31.8 L627.1,30.2Z" fill="#8b0000"/><path d="M634.5,31.8 L642.0,34.2 L649.8,31.8 L642.3,29.3Z" fill="#8b0000"/><path d="M649.8,31.8 L657.4,35.0 L665.1,33.5 L657.5,30.1Z" fill="#8b0000"/><path d="M665.1,33.5 L672.8,37.7 L680.4,37.0 L672.7,32.8Z" fill="#8b0000"/><path d="M695.7,42.3 L703.5,48.3 L710.9,49.3 L703.0,43.2Z" fill="#8e370b"/><path d="M710.9,49.3 L718.7,56.2 L726.0,58.1 L718.1,51.1Z" fill="#908f1c"/><path d="M726.0,58.1 L733.9,65.9 L741.0,68.5 L733.1,60.7Z" fill="#7eec2c"/><path d="M741.0,68.5 L748.9,77.3 L755.9,80.7 L747.9,71.9Z" fill="#53f32c"/><path d="M558.6,58.2 L565.5,56.4 L573.6,49.5 L566.7,51.3Z" fill="#7bf52d"/><path d="M588.8,42.4 L595.9,42.3 L604.0,37.1 L596.8,37.3Z" fill="#8e400d"/><path d="M604.0,37.1 L611.3,37.8 L619.2,33.6 L611.9,32.8Z" fill="#8b0000"/><path d="M514.2,94.6 L520.7,90.4 L528.9,80.8 L522.4,84.9Z" fill="#1bf062"/><path d="M680.4,37.0 L688.2,42.1 L695.7,42.3 L687.9,37.1Z" fill="#8b0000"/><path d="M565.5,56.4 L572.5,55.3 L580.7,48.5 L573.6,49.5Z" fill="#83d227"/><path d="M626.6,35.1 L634.1,37.4 L642.0,34.2 L634.5,31.8Z" fill="#8b0000"/><path d="M642.0,34.2 L649.6,37.4 L657.4,35.0 L649.8,31.8Z" fill="#8b0000"/><path d="M506.0,105.1 L512.4,100.9 L520.7,90.4 L514.2,94.6Z" fill="#17da7d"/><path d="M520.7,90.4 L527.2,87.0 L535.5,77.4 L528.9,80.8Z" fill="#1cf04c"/><path d="M535.5,77.4 L542.2,74.8 L550.4,66.1 L543.7,68.7Z" fill="#30f12b"/><path d="M657.4,35.0 L665.1,39.2 L672.8,37.7 L665.1,33.5Z" fill="#8b0000"/><path d="M703.5,48.3 L711.4,55.1 L718.7,56.2 L710.9,49.3Z" fill="#917016"/><path d="M718.7,56.2 L726.7,64.0 L733.9,65.9 L726.0,58.1Z" fill="#85c726"/><path d="M733.9,65.9 L741.9,74.6 L748.9,77.3 L741.0,68.5Z" fill="#66f42c"/><path d="M550.4,66.1 L557.3,64.2 L565.5,56.4 L558.6,58.2Z" fill="#61f42c"/><path d="M580.7,48.5 L587.8,48.2 L595.9,42.3 L588.8,42.4Z" fill="#917a19"/><path d="M611.3,37.8 L618.7,39.2 L626.6,35.1 L619.2,33.6Z" fill="#8b0000"/><path d="M595.9,42.3 L603.2,42.8 L611.3,37.8 L604.0,37.1Z" fill="#8d2908"/><path d="M672.8,37.7 L680.6,42.7 L688.2,42.1 L680.4,37.0Z" fill="#8b0000"/><path d="M688.2,42.1 L696.0,48.0 L703.5,48.3 L695.7,42.3Z" fill="#8d2107"/><path d="M748.9,77.3 L756.9,86.8 L763.8,90.3 L755.9,80.7Z" fill="#36f12b"/><path d="M512.4,100.9 L518.9,97.4 L527.2,87.0 L520.7,90.4Z" fill="#1af06c"/><path d="M557.3,64.2 L564.3,63.0 L572.5,55.3 L565.5,56.4Z" fill="#70f42d"/><path d="M634.1,37.4 L641.8,40.6 L649.6,37.4 L642.0,34.2Z" fill="#8b0000"/><path d="M649.6,37.4 L657.3,41.4 L665.1,39.2 L657.4,35.0Z" fill="#8b0000"/><path d="M711.4,55.1 L719.4,62.8 L726.7,64.0 L718.7,56.2Z" fill="#8bab21"/><path d="M726.7,64.0 L734.7,72.6 L741.9,74.6 L733.9,65.9Z" fill="#75f52d"/><path d="M572.5,55.3 L579.7,55.0 L587.8,48.2 L580.7,48.5Z" fill="#89b423"/><path d="M618.7,39.2 L626.2,41.5 L634.1,37.4 L626.6,35.1Z" fill="#8b0000"/><path d="M497.7,116.4 L504.1,112.2 L512.4,100.9 L506.0,105.1Z" fill="#0a617f"/><path d="M527.2,87.0 L533.9,84.3 L542.2,74.8 L535.5,77.4Z" fill="#1df038"/><path d="M542.2,74.8 L549.1,72.8 L557.3,64.2 L550.4,66.1Z" fill="#43f22b"/><path d="M587.8,48.2 L595.1,48.7 L603.2,42.8 L595.9,42.3Z" fill="#906214"/><path d="M603.2,42.8 L610.6,44.2 L618.7,39.2 L611.3,37.8Z" fill="#8c1c06"/><path d="M665.1,39.2 L672.9,44.1 L680.6,42.7 L672.8,37.7Z" fill="#8b0000"/><path d="M680.6,42.7 L688.5,48.6 L696.0,48.0 L688.2,42.1Z" fill="#8c1604"/><path d="M696.0,48.0 L704.0,54.8 L711.4,55.1 L703.5,48.3Z" fill="#905912"/><path d="M741.9,74.6 L749.9,84.1 L756.9,86.8 L748.9,77.3Z" fill="#49f22b"/><path d="M756.9,86.8 L765.0,97.3 L771.9,100.8 L763.8,90.3Z" fill="#1ef032"/><path d="M504.1,112.2 L510.6,108.7 L518.9,97.4 L512.4,100.9Z" fill="#12b07e"/><path d="M518.9,97.4 L525.6,94.7 L533.9,84.3 L527.2,87.0Z" fill="#1bf058"/><path d="M549.1,72.8 L556.0,71.6 L564.3,63.0 L557.3,64.2Z" fill="#53f32c"/><path d="M641.8,40.6 L649.4,44.6 L657.3,41.4 L649.6,37.4Z" fill="#8b0000"/><path d="M719.4,62.8 L727.4,71.4 L734.7,72.6 L726.7,64.0Z" fill="#7eea2b"/><path d="M564.3,63.0 L571.4,62.7 L579.7,55.0 L572.5,55.3Z" fill="#7cf52d"/><path d="M626.2,41.5 L633.8,44.6 L641.8,40.6 L634.1,37.4Z" fill="#8b0000"/><path d="M579.7,55.0 L586.9,55.5 L595.1,48.7 L587.8,48.2Z" fill="#8d9f1f"/><path d="M595.1,48.7 L602.5,50.0 L610.6,44.2 L603.2,42.8Z" fill="#8f5311"/><path d="M610.6,44.2 L618.1,46.4 L626.2,41.5 L618.7,39.2Z" fill="#8c1905"/><path d="M657.3,41.4 L665.1,46.3 L672.9,44.1 L665.1,39.2Z" fill="#8b0000"/><path d="M672.9,44.1 L680.8,49.9 L688.5,48.6 L680.6,42.7Z" fill="#8c1404"/><path d="M688.5,48.6 L696.4,55.3 L704.0,54.8 L696.0,48.0Z" fill="#8f4b0f"/><path d="M704.0,54.8 L711.9,62.5 L719.4,62.8 L711.4,55.1Z" fill="#8f961e"/><path d="M734.7,72.6 L742.8,82.1 L749.9,84.1 L741.9,74.6Z" fill="#58f32c"/><path d="M749.9,84.1 L758.0,94.5 L765.0,97.3 L756.9,86.8Z" fill="#28f12a"/><path d="M765.0,97.3 L773.1,108.6 L780.0,112.1 L771.9,100.8Z" fill="#1cf052"/><path d="M489.5,128.6 L495.8,124.4 L504.1,112.2 L497.7,116.4Z" fill="#000080"/><path d="M533.9,84.3 L540.7,82.3 L549.1,72.8 L542.2,74.8Z" fill="#22f02a"/><path d="M481.2,141.6 L487.4,137.4 L495.8,124.4 L489.5,128.6Z" fill="#000080"/><path d="M495.8,124.4 L502.2,120.8 L510.6,108.7 L504.1,112.2Z" fill="#052f7f"/><path d="M510.6,108.7 L517.2,105.9 L525.6,94.7 L518.9,97.4Z" fill="#19f07b"/><path d="M525.6,94.7 L532.4,92.6 L540.7,82.3 L533.9,84.3Z" fill="#1cf046"/><path d="M540.7,82.3 L547.7,81.1 L556.0,71.6 L549.1,72.8Z" fill="#32f12b"/><path d="M556.0,71.6 L563.1,71.2 L571.4,62.7 L564.3,63.0Z" fill="#5ff32c"/><path d="M571.4,62.7 L578.6,63.1 L586.9,55.5 L579.7,55.0Z" fill="#80df29"/><path d="M586.9,55.5 L594.3,56.7 L602.5,50.0 L595.1,48.7Z" fill="#90921d"/><path d="M602.5,50.0 L609.9,52.2 L618.1,46.4 L610.6,44.2Z" fill="#8f4f10"/><path d="M618.1,46.4 L625.7,49.4 L633.8,44.6 L626.2,41.5Z" fill="#8d2007"/><path d="M633.8,44.6 L641.5,48.5 L649.4,44.6 L641.8,40.6Z" fill="#8b0802"/><path d="M649.4,44.6 L657.2,49.4 L665.1,46.3 L657.3,41.4Z" fill="#8b0701"/><path d="M665.1,46.3 L673.0,52.1 L680.8,49.9 L672.9,44.1Z" fill="#8c1c06"/><path d="M680.8,49.9 L688.7,56.6 L696.4,55.3 L688.5,48.6Z" fill="#8f480f"/><path d="M696.4,55.3 L704.4,62.9 L711.9,62.5 L704.0,54.8Z" fill="#918a1c"/><path d="M711.9,62.5 L720.0,71.0 L727.4,71.4 L719.4,62.8Z" fill="#82d528"/><path d="M727.4,71.4 L735.5,80.8 L742.8,82.1 L734.7,72.6Z" fill="#64f42c"/><path d="M742.8,82.1 L750.9,92.4 L758.0,94.5 L749.9,84.1Z" fill="#38f12b"/><path d="M758.0,94.5 L766.2,105.7 L773.1,108.6 L765.0,97.3Z" fill="#1df040"/><path d="M773.1,108.6 L781.3,120.8 L788.1,124.3 L780.0,112.1Z" fill="#1af075"/><path d="M487.4,137.4 L493.8,133.8 L502.2,120.8 L495.8,124.4Z" fill="#000080"/><path d="M532.4,92.6 L539.3,91.4 L547.7,81.1 L540.7,82.3Z" fill="#1df038"/><path d="M578.6,63.1 L586.0,64.3 L594.3,56.7 L586.9,55.5Z" fill="#83d127"/><path d="M594.3,56.7 L601.7,58.8 L609.9,52.2 L602.5,50.0Z" fill="#908e1c"/><path d="M609.9,52.2 L617.5,55.1 L625.7,49.4 L618.1,46.4Z" fill="#8f5511"/><path d="M657.2,49.4 L665.1,55.1 L673.0,52.1 L665.1,46.3Z" fill="#8d2f09"/><path d="M673.0,52.1 L680.9,58.7 L688.7,56.6 L680.8,49.9Z" fill="#8f4f10"/><path d="M688.7,56.6 L696.7,64.1 L704.4,62.9 L696.4,55.3Z" fill="#92871b"/><path d="M704.4,62.9 L712.5,71.3 L720.0,71.0 L711.9,62.5Z" fill="#85c826"/><path d="M735.5,80.8 L743.7,91.1 L750.9,92.4 L742.8,82.1Z" fill="#45f22b"/><path d="M750.9,92.4 L759.1,103.7 L766.2,105.7 L758.0,94.5Z" fill="#1ef032"/><path d="M766.2,105.7 L774.4,117.9 L781.3,120.8 L773.1,108.6Z" fill="#1bf063"/><path d="M563.1,71.2 L570.3,71.6 L578.6,63.1 L571.4,62.7Z" fill="#68f42c"/><path d="M625.7,49.4 L633.4,53.3 L641.5,48.5 L633.8,44.6Z" fill="#8e320a"/><path d="M502.2,120.8 L508.8,118.0 L517.2,105.9 L510.6,108.7Z" fill="#0c767f"/><path d="M517.2,105.9 L524.0,103.9 L532.4,92.6 L525.6,94.7Z" fill="#1af069"/><path d="M547.7,81.1 L554.7,80.6 L563.1,71.2 L556.0,71.6Z" fill="#3ff22b"/><path d="M641.5,48.5 L649.2,53.3 L657.2,49.4 L649.4,44.6Z" fill="#8d2507"/><path d="M720.0,71.0 L728.1,80.4 L735.5,80.8 L727.4,71.4Z" fill="#6df42d"/><path d="M493.8,133.8 L500.3,131.0 L508.8,118.0 L502.2,120.8Z" fill="#000080"/><path d="M524.0,103.9 L530.8,102.6 L539.3,91.4 L532.4,92.6Z" fill="#1bf05a"/><path d="M539.3,91.4 L546.3,90.9 L554.7,80.6 L547.7,81.1Z" fill="#1ef02c"/><path d="M586.0,64.3 L593.4,66.3 L601.7,58.8 L594.3,56.7Z" fill="#84cb26"/><path d="M601.7,58.8 L609.3,61.7 L617.5,55.1 L609.9,52.2Z" fill="#90911d"/><path d="M665.1,55.1 L673.1,61.6 L680.9,58.7 L673.0,52.1Z" fill="#906113"/><path d="M680.9,58.7 L689.0,66.1 L696.7,64.1 L688.7,56.6Z" fill="#918b1c"/><path d="M696.7,64.1 L704.8,72.5 L712.5,71.3 L704.4,62.9Z" fill="#86c325"/><path d="M743.7,91.1 L751.9,102.3 L759.1,103.7 L750.9,92.4Z" fill="#22f02a"/><path d="M759.1,103.7 L767.3,115.8 L774.4,117.9 L766.2,105.7Z" fill="#1bf054"/><path d="M570.3,71.6 L577.6,72.7 L586.0,64.3 L578.6,63.1Z" fill="#6ef42d"/><path d="M617.5,55.1 L625.2,58.9 L633.4,53.3 L625.7,49.4Z" fill="#906514"/><path d="M649.2,53.3 L657.1,58.9 L665.1,55.1 L657.2,49.4Z" fill="#8f4b0f"/><path d="M712.5,71.3 L720.6,80.7 L728.1,80.4 L720.0,71.0Z" fill="#73f42d"/><path d="M728.1,80.4 L736.3,90.6 L743.7,91.1 L735.5,80.8Z" fill="#4ef32c"/><path d="M554.7,80.6 L561.9,80.9 L570.3,71.6 L563.1,71.2Z" fill="#49f22b"/><path d="M633.4,53.3 L641.2,58.0 L649.2,53.3 L641.5,48.5Z" fill="#8f4d0f"/><path d="M508.8,118.0 L515.5,115.9 L524.0,103.9 L517.2,105.9Z" fill="#13b47e"/><path d="M593.4,66.3 L601.0,69.2 L609.3,61.7 L601.7,58.8Z" fill="#84cd27"/><path d="M673.1,61.6 L681.1,69.0 L689.0,66.1 L680.9,58.7Z" fill="#8e981e"/><path d="M689.0,66.1 L697.1,74.5 L704.8,72.5 L696.7,64.1Z" fill="#85c625"/><path d="M751.9,102.3 L760.1,114.4 L767.3,115.8 L759.1,103.7Z" fill="#1cf048"/><path d="M546.3,90.9 L553.4,91.1 L561.9,80.9 L554.7,80.6Z" fill="#26f02a"/><path d="M577.6,72.7 L585.0,74.7 L593.4,66.3 L586.0,64.3Z" fill="#71f42d"/><path d="M609.3,61.7 L616.9,65.5 L625.2,58.9 L617.5,55.1Z" fill="#8d9d1f"/><path d="M500.3,131.0 L507.0,128.9 L515.5,115.9 L508.8,118.0Z" fill="#052b7f"/><path d="M515.5,115.9 L522.3,114.6 L530.8,102.6 L524.0,103.9Z" fill="#18e87d"/><path d="M530.8,102.6 L537.8,102.0 L546.3,90.9 L539.3,91.4Z" fill="#1cf04e"/><path d="M657.1,58.9 L665.1,65.4 L673.1,61.6 L665.1,55.1Z" fill="#917c19"/><path d="M704.8,72.5 L713.0,81.8 L720.6,80.7 L712.5,71.3Z" fill="#75f52d"/><path d="M720.6,80.7 L728.8,90.9 L736.3,90.6 L728.1,80.4Z" fill="#54f32c"/><path d="M736.3,90.6 L744.5,101.8 L751.9,102.3 L743.7,91.1Z" fill="#2cf12a"/><path d="M561.9,80.9 L569.2,82.0 L577.6,72.7 L570.3,71.6Z" fill="#4ff32c"/><path d="M625.2,58.9 L633.0,63.6 L641.2,58.0 L633.4,53.3Z" fill="#927e19"/><path d="M641.2,58.0 L649.0,63.6 L657.1,58.9 L649.2,53.3Z" fill="#917217"/><path d="M507.0,128.9 L513.8,127.6 L522.3,114.6 L515.5,115.9Z" fill="#0a617f"/><path d="M681.1,69.0 L689.2,77.3 L697.1,74.5 L689.0,66.1Z" fill="#83d227"/><path d="M553.4,91.1 L560.7,92.2 L569.2,82.0 L561.9,80.9Z" fill="#2df12a"/><path d="M585.0,74.7 L592.5,77.5 L601.0,69.2 L593.4,66.3Z" fill="#71f42d"/><path d="M601.0,69.2 L608.6,72.9 L616.9,65.5 L609.3,61.7Z" fill="#82d828"/><path d="M665.1,65.4 L673.1,72.8 L681.1,69.0 L673.1,61.6Z" fill="#8aae21"/><path d="M697.1,74.5 L705.2,83.8 L713.0,81.8 L704.8,72.5Z" fill="#74f52d"/><path d="M713.0,81.8 L721.2,92.0 L728.8,90.9 L720.6,80.7Z" fill="#57f32c"/><path d="M728.8,90.9 L737.1,102.0 L744.5,101.8 L736.3,90.6Z" fill="#32f12b"/><path d="M744.5,101.8 L752.8,113.8 L760.1,114.4 L751.9,102.3Z" fill="#1df03f"/><path d="M537.8,102.0 L544.9,102.3 L553.4,91.1 L546.3,90.9Z" fill="#1cf045"/><path d="M569.2,82.0 L576.6,84.0 L585.0,74.7 L577.6,72.7Z" fill="#52f32c"/><path d="M616.9,65.5 L624.7,70.1 L633.0,63.6 L625.2,58.9Z" fill="#89b122"/><path d="M633.0,63.6 L640.8,69.1 L649.0,63.6 L641.2,58.0Z" fill="#8d9d1f"/><path d="M649.0,63.6 L657.0,70.0 L665.1,65.4 L657.1,58.9Z" fill="#8e9c1f"/><path d="M522.3,114.6 L529.3,114.1 L537.8,102.0 L530.8,102.6Z" fill="#1af073"/><path d="M560.7,92.2 L568.0,94.1 L576.6,84.0 L569.2,82.0Z" fill="#30f12b"/><path d="M513.8,127.6 L520.7,127.0 L529.3,114.1 L522.3,114.6Z" fill="#0f8c7e"/><path d="M544.9,102.3 L552.1,103.3 L560.7,92.2 L553.4,91.1Z" fill="#1df03e"/><path d="M576.6,84.0 L584.1,86.8 L592.5,77.5 L585.0,74.7Z" fill="#52f32c"/><path d="M592.5,77.5 L600.2,81.2 L608.6,72.9 L601.0,69.2Z" fill="#6df42d"/><path d="M608.6,72.9 L616.4,77.4 L624.7,70.1 L616.9,65.5Z" fill="#7eeb2b"/><path d="M624.7,70.1 L632.6,75.6 L640.8,69.1 L633.0,63.6Z" fill="#84ce27"/><path d="M640.8,69.1 L648.8,75.5 L657.0,70.0 L649.0,63.6Z" fill="#86c325"/><path d="M657.0,70.0 L665.0,77.4 L673.1,72.8 L665.1,65.4Z" fill="#84cb26"/><path d="M673.1,72.8 L681.2,81.0 L689.2,77.3 L681.1,69.0Z" fill="#7fe62b"/><path d="M689.2,77.3 L697.4,86.6 L705.2,83.8 L697.1,74.5Z" fill="#70f42d"/><path d="M705.2,83.8 L713.5,93.9 L721.2,92.0 L713.0,81.8Z" fill="#56f32c"/><path d="M721.2,92.0 L729.5,103.1 L737.1,102.0 L728.8,90.9Z" fill="#35f12b"/><path d="M737.1,102.0 L745.4,114.1 L752.8,113.8 L744.5,101.8Z" fill="#1df039"/><path d="M529.3,114.1 L536.3,114.3 L544.9,102.3 L537.8,102.0Z" fill="#1af069"/><path d="M568.0,94.1 L575.5,96.9 L584.1,86.8 L576.6,84.0Z" fill="#31f12b"/><path d="M697.4,86.6 L705.6,96.7 L713.5,93.9 L705.2,83.8Z" fill="#52f32c"/><path d="M713.5,93.9 L721.8,105.0 L729.5,103.1 L721.2,92.0Z" fill="#35f12b"/><path d="M729.5,103.1 L737.8,115.1 L745.4,114.1 L737.1,102.0Z" fill="#1df036"/><path d="M520.7,127.0 L527.7,127.2 L536.3,114.3 L529.3,114.1Z" fill="#12ae7e"/><path d="M536.3,114.3 L543.5,115.3 L552.1,103.3 L544.9,102.3Z" fill="#1bf062"/><path d="M552.1,103.3 L559.5,105.2 L568.0,94.1 L560.7,92.2Z" fill="#1df03b"/><path d="M584.1,86.8 L591.7,90.4 L600.2,81.2 L592.5,77.5Z" fill="#4ff32c"/><path d="M600.2,81.2 L607.9,85.7 L616.4,77.4 L608.6,72.9Z" fill="#66f42c"/><path d="M616.4,77.4 L624.2,82.9 L632.6,75.6 L624.7,70.1Z" fill="#75f52d"/><path d="M632.6,75.6 L640.5,81.9 L648.8,75.5 L640.8,69.1Z" fill="#7df22d"/><path d="M648.8,75.5 L656.8,82.8 L665.0,77.4 L657.0,70.0Z" fill="#7df12c"/><path d="M665.0,77.4 L673.1,85.6 L681.2,81.0 L673.1,72.8Z" fill="#77f52d"/><path d="M681.2,81.0 L689.4,90.2 L697.4,86.6 L689.2,77.3Z" fill="#68f42c"/><path d="M527.7,127.2 L534.9,128.2 L543.5,115.3 L536.3,114.3Z" fill="#15c77e"/><path d="M559.5,105.2 L566.9,107.9 L575.5,96.9 L568.0,94.1Z" fill="#1df03a"/><path d="M575.5,96.9 L583.1,100.5 L591.7,90.4 L584.1,86.8Z" fill="#2ef12b"/><path d="M624.2,82.9 L632.1,89.2 L640.5,81.9 L632.6,75.6Z" fill="#67f42c"/><path d="M640.5,81.9 L648.6,89.2 L656.8,82.8 L648.8,75.5Z" fill="#6bf42c"/><path d="M656.8,82.8 L665.0,91.0 L673.1,85.6 L665.0,77.4Z" fill="#68f42c"/><path d="M705.6,96.7 L714.0,107.7 L721.8,105.0 L713.5,93.9Z" fill="#32f12b"/><path d="M721.8,105.0 L730.1,117.0 L737.8,115.1 L729.5,103.1Z" fill="#1df035"/><path d="M607.9,85.7 L615.8,91.1 L624.2,82.9 L616.4,77.4Z" fill="#5cf32c"/><path d="M689.4,90.2 L697.7,100.3 L705.6,96.7 L697.4,86.6Z" fill="#4bf22b"/><path d="M543.5,115.3 L550.8,117.2 L559.5,105.2 L552.1,103.3Z" fill="#1bf05e"/><path d="M591.7,90.4 L599.4,94.9 L607.9,85.7 L600.2,81.2Z" fill="#48f22b"/><path d="M673.1,85.6 L681.4,94.7 L689.4,90.2 L681.2,81.0Z" fill="#5ef32c"/><path d="M714.0,107.7 L722.3,119.7 L730.1,117.0 L721.8,105.0Z" fill="#1df038"/><path d="M534.9,128.2 L542.1,130.1 L550.8,117.2 L543.5,115.3Z" fill="#16d57d"/><path d="M550.8,117.2 L558.3,119.9 L566.9,107.9 L559.5,105.2Z" fill="#1bf05d"/><path d="M566.9,107.9 L574.5,111.5 L583.1,100.5 L575.5,96.9Z" fill="#1df03c"/><path d="M583.1,100.5 L590.8,105.0 L599.4,94.9 L591.7,90.4Z" fill="#28f12a"/><path d="M615.8,91.1 L623.7,97.4 L632.1,89.2 L624.2,82.9Z" fill="#4ef32c"/><path d="M632.1,89.2 L640.2,96.4 L648.6,89.2 L640.5,81.9Z" fill="#56f32c"/><path d="M648.6,89.2 L656.7,97.3 L665.0,91.0 L656.8,82.8Z" fill="#56f32c"/><path d="M665.0,91.0 L673.2,100.1 L681.4,94.7 L673.1,85.6Z" fill="#4ff32c"/><path d="M681.4,94.7 L689.6,104.8 L697.7,100.3 L689.4,90.2Z" fill="#41f22b"/><path d="M697.7,100.3 L706.0,111.3 L714.0,107.7 L705.6,96.7Z" fill="#2bf12a"/><path d="M599.4,94.9 L607.2,100.3 L615.8,91.1 L607.9,85.7Z" fill="#3ff22b"/><path d="M542.1,130.1 L549.5,132.8 L558.3,119.9 L550.8,117.2Z" fill="#17da7d"/><path d="M640.2,96.4 L648.3,104.6 L656.7,97.3 L648.6,89.2Z" fill="#41f22b"/><path d="M590.8,105.0 L598.6,110.3 L607.2,100.3 L599.4,94.9Z" fill="#1ef02a"/><path d="M623.7,97.4 L631.7,104.6 L640.2,96.4 L632.1,89.2Z" fill="#3df22b"/><path d="M706.0,111.3 L714.4,123.2 L722.3,119.7 L714.0,107.7Z" fill="#1df03d"/><path d="M558.3,119.9 L565.8,123.5 L574.5,111.5 L566.9,107.9Z" fill="#1bf05f"/><path d="M574.5,111.5 L582.2,116.0 L590.8,105.0 L583.1,100.5Z" fill="#1df041"/><path d="M607.2,100.3 L615.1,106.5 L623.7,97.4 L615.8,91.1Z" fill="#31f12b"/><path d="M656.7,97.3 L664.9,106.4 L673.2,100.1 L665.0,91.0Z" fill="#3ef22b"/><path d="M673.2,100.1 L681.5,110.2 L689.6,104.8 L681.4,94.7Z" fill="#34f12b"/><path d="M689.6,104.8 L698.0,115.8 L706.0,111.3 L697.7,100.3Z" fill="#22f02a"/><path d="M549.5,132.8 L557.0,136.3 L565.8,123.5 L558.3,119.9Z" fill="#16d67d"/><path d="M582.2,116.0 L589.9,121.3 L598.6,110.3 L590.8,105.0Z" fill="#1cf049"/><path d="M598.6,110.3 L606.5,116.5 L615.1,106.5 L607.2,100.3Z" fill="#1df035"/><path d="M615.1,106.5 L623.2,113.7 L631.7,104.6 L623.7,97.4Z" fill="#21f02a"/><path d="M631.7,104.6 L639.8,112.7 L648.3,104.6 L640.2,96.4Z" fill="#29f12a"/><path d="M648.3,104.6 L656.5,113.6 L664.9,106.4 L656.7,97.3Z" fill="#2af12a"/><path d="M664.9,106.4 L673.2,116.4 L681.5,110.2 L673.2,100.1Z" fill="#23f02a"/><path d="M681.5,110.2 L689.8,121.1 L698.0,115.8 L689.6,104.8Z" fill="#1df032"/><path d="M698.0,115.8 L706.4,127.7 L714.4,123.2 L706.0,111.3Z" fill="#1cf046"/><path d="M565.8,123.5 L573.4,127.9 L582.2,116.0 L574.5,111.5Z" fill="#1bf064"/><path d="M557.0,136.3 L564.7,140.7 L573.4,127.9 L565.8,123.5Z" fill="#15c87e"/><path d="M573.4,127.9 L581.2,133.2 L589.9,121.3 L582.2,116.0Z" fill="#1af06b"/><path d="M589.9,121.3 L597.8,127.5 L606.5,116.5 L598.6,110.3Z" fill="#1bf054"/><path d="M606.5,116.5 L614.5,123.7 L623.2,113.7 L615.1,106.5Z" fill="#1df043"/><path d="M623.2,113.7 L631.3,121.8 L639.8,112.7 L631.7,104.6Z" fill="#1df039"/><path d="M639.8,112.7 L648.0,121.7 L656.5,113.6 L648.3,104.6Z" fill="#1df035"/><path d="M656.5,113.6 L664.8,123.6 L673.2,116.4 L664.9,106.4Z" fill="#1df038"/><path d="M673.2,116.4 L681.6,127.4 L689.8,121.1 L681.5,110.2Z" fill="#1df041"/><path d="M689.8,121.1 L698.2,133.0 L706.4,127.7 L698.0,115.8Z" fill="#1cf051"/><path d="M614.5,123.7 L622.6,131.8 L631.3,121.8 L623.2,113.7Z" fill="#1bf054"/><path d="M664.8,123.6 L673.2,134.5 L681.6,127.4 L673.2,116.4Z" fill="#1cf052"/><path d="M681.6,127.4 L690.0,139.3 L698.2,133.0 L689.8,121.1Z" fill="#1bf05f"/><path d="M564.7,140.7 L572.4,146.0 L581.2,133.2 L573.4,127.9Z" fill="#12b07e"/><path d="M581.2,133.2 L589.1,139.4 L597.8,127.5 L589.9,121.3Z" fill="#19f075"/><path d="M597.8,127.5 L605.8,134.6 L614.5,123.7 L606.5,116.5Z" fill="#1bf061"/><path d="M631.3,121.8 L639.5,130.8 L648.0,121.7 L639.8,112.7Z" fill="#1cf04d"/><path d="M648.0,121.7 L656.3,131.7 L664.8,123.6 L656.5,113.6Z" fill="#1cf04c"/><path d="M572.4,146.0 L580.2,152.2 L589.1,139.4 L581.2,133.2Z" fill="#0f8e7e"/><path d="M605.8,134.6 L613.9,142.7 L622.6,131.8 L614.5,123.7Z" fill="#1af072"/><path d="M622.6,131.8 L630.8,140.8 L639.5,130.8 L631.3,121.8Z" fill="#1af068"/><path d="M656.3,131.7 L664.7,142.6 L673.2,134.5 L664.8,123.6Z" fill="#1af067"/><path d="M673.2,134.5 L681.6,146.4 L690.0,139.3 L681.6,127.4Z" fill="#1af070"/><path d="M589.1,139.4 L597.0,146.5 L605.8,134.6 L597.8,127.5Z" fill="#17dd7d"/><path d="M639.5,130.8 L647.8,140.7 L656.3,131.7 L648.0,121.7Z" fill="#1bf064"/><path d="M580.2,152.2 L588.2,159.3 L597.0,146.5 L589.1,139.4Z" fill="#0a637f"/><path d="M630.8,140.8 L639.1,150.7 L647.8,140.7 L639.5,130.8Z" fill="#19ec7d"/><path d="M664.7,142.6 L673.2,154.5 L681.6,146.4 L673.2,134.5Z" fill="#17d97d"/><path d="M597.0,146.5 L605.1,154.6 L613.9,142.7 L605.8,134.6Z" fill="#11a77e"/><path d="M613.9,142.7 L622.1,151.7 L630.8,140.8 L622.6,131.8Z" fill="#16d47d"/><path d="M647.8,140.7 L656.2,151.6 L664.7,142.6 L656.3,131.7Z" fill="#19ee7d"/><path d="M588.2,159.3 L596.3,167.4 L605.1,154.6 L597.0,146.5Z" fill="#052e7f"/><path d="M622.1,151.7 L630.4,161.6 L639.1,150.7 L630.8,140.8Z" fill="#0e8a7e"/><path d="M639.1,150.7 L647.5,161.6 L656.2,151.6 L647.8,140.7Z" fill="#10967e"/><path d="M656.2,151.6 L664.6,163.5 L673.2,154.5 L664.7,142.6Z" fill="#0f8d7e"/><path d="M605.1,154.6 L613.3,163.5 L622.1,151.7 L613.9,142.7Z" fill="#0b677f"/><path d="M596.3,167.4 L604.4,176.3 L613.3,163.5 L605.1,154.6Z" fill="#000080"/><path d="M613.3,163.5 L621.6,173.4 L630.4,161.6 L622.1,151.7Z" fill="#031e80"/><path d="M630.4,161.6 L638.8,172.5 L647.5,161.6 L639.1,150.7Z" fill="#06357f"/><path d="M647.5,161.6 L656.0,173.4 L664.6,163.5 L656.2,151.6Z" fill="#06377f"/><path d="M604.4,176.3 L612.7,186.3 L621.6,173.4 L613.3,163.5Z" fill="#000080"/><path d="M621.6,173.4 L629.9,184.3 L638.8,172.5 L630.4,161.6Z" fill="#000080"/><path d="M638.8,172.5 L647.2,184.3 L656.0,173.4 L647.5,161.6Z" fill="#000080"/><path d="M612.7,186.3 L621.0,197.1 L629.9,184.3 L621.6,173.4Z" fill="#000080"/><path d="M629.9,184.3 L638.4,196.1 L647.2,184.3 L638.8,172.5Z" fill="#000080"/><path d="M621.0,197.1 L629.5,209.0 L638.4,196.1 L629.9,184.3Z" fill="#000080"/></g>
<circle cx="476.5" cy="29.0" r="1.3" fill="#111"/>
<text x="470.7" y="28.0" font-size="10" text-anchor="end" font-family="Liberation Sans, sans-serif" fill="#111">100</text>
<circle cx="477.7" cy="59.2" r="1.3" fill="#111"/>
<text x="471.9" y="58.2" font-size="10" text-anchor="end" font-family="Liberation Sans, sans-serif" fill="#111">80</text>
<circle cx="479.0" cy="89.3" r="1.3" fill="#111"/>
<text x="473.2" y="88.3" font-size="10" text-anchor="end" font-family="Liberation Sans, sans-serif" fill="#111">60</text>
<circle cx="480.2" cy="119.5" r="1.3" fill="#111"/>
<text x="474.4" y="118.5" font-size="10" text-anchor="end" font-family="Liberation Sans, sans-serif" fill="#111">40</text>
<circle cx="481.4" cy="149.6" r="1.3" fill="#111"/>
<text x="475.6" y="148.6" font-size="10" text-anchor="end" font-family="Liberation Sans, sans-serif" fill="#111">20</text>
<circle cx="482.6" cy="179.8" r="1.3" fill="#111"/>
<text x="476.8" y="178.8" font-size="10" text-anchor="end" font-family="Liberation Sans, sans-serif" fill="#111">0</text>
<circle cx="484.6" cy="227.7" r="1.3" fill="#111"/>
<text x="479.1" y="235.9" font-size="10" text-anchor="end" font-family="Liberation Sans, sans-serif" fill="#111">-1</text>
<circle cx="520.9" cy="243.2" r="1.3" fill="#111"/>
<text x="513.9" y="254.2" font-size="10" text-anchor="end" font-family="Liberation Sans, sans-serif" fill="#111">-0.5</text>
<circle cx="557.2" cy="258.8" r="1.3" fill="#111"/>
<text x="550.7" y="269.3" font-size="10" text-anchor="end" font-family="Liberation Sans, sans-serif" fill="#111">0</text>
<circle cx="593.4" cy="274.3" r="1.3" fill="#111"/>
<text x="587.4" y="285.3" font-size="10" text-anchor="end" font-family="Liberation Sans, sans-serif" fill="#111">0.5</text>
<circle cx="629.7" cy="289.9" r="1.3" fill="#111"/>
<text x="625.0" y="300.4" font-size="10" text-anchor="end" font-family="Liberation Sans, sans-serif" fill="#111">1</text>
<circle cx="629.7" cy="289.9" r="1.3" fill="#111"/>
<text x="634.2" y="300.4" font-size="10" text-anchor="start" font-family="Liberation Sans, sans-serif" fill="#111">-1</text>
<circle cx="668.2" cy="275.0" r="1.3" fill="#111"/>
<text x="674.2" y="285.0" font-size="10" text-anchor="start" font-family="Liberation Sans, sans-serif" fill="#111">-0.5</text>
<circle cx="706.7" cy="260.1" r="1.3" fill="#111"/>
<text x="713.2" y="270.1" font-size="10" text-anchor="start" font-family="Liberation Sans, sans-serif" fill="#111">0</text>
<circle cx="745.2" cy="245.3" r="1.3" fill="#111"/>
<text x="751.2" y="254.8" font-size="10" text-anchor="start" font-family="Liberation Sans, sans-serif" fill="#111">0.5</text>
<circle cx="783.7" cy="230.4" r="1.3" fill="#111"/>
<text x="789.7" y="237.4" font-size="10" text-anchor="start" font-family="Liberation Sans, sans-serif" fill="#111">1</text>
<text transform="translate(433.5,132) rotate(-90) scale(0.92,1)" font-size="14.8" text-anchor="middle" font-family="Liberation Sans, sans-serif" fill="#111">%R-TMP</text>
<text x="498" y="290" font-size="13.5" text-anchor="middle" font-family="Liberation Sans, sans-serif" fill="#111">A</text>
<text x="764" y="290" font-size="13.5" text-anchor="middle" font-family="Liberation Sans, sans-serif" fill="#111">B</text>
<path d="M487.4,566.1 L631.9,513.1" stroke="#2a2a2a" stroke-width="0.9" fill="none"/>
<path d="M631.9,513.1 L776.4,566.0" stroke="#2a2a2a" stroke-width="0.9" fill="none"/>
<path d="M631.9,513.1 L631.9,335.6" stroke="#2a2a2a" stroke-width="0.9" fill="none"/>
<path d="M477.8,369.8 L631.9,335.6" stroke="#2a2a2a" stroke-width="0.9" fill="none"/>
<path d="M631.9,335.6 L786.9,370.2" stroke="#2a2a2a" stroke-width="0.9" fill="none"/>
<path d="M487.4,566.1 L631.9,634.8" stroke="#1a1a1a" stroke-width="1.0" fill="none"/>
<path d="M631.9,634.8 L776.4,566.0" stroke="#1a1a1a" stroke-width="1.0" fill="none"/>
<path d="M487.4,566.1 L477.8,369.8" stroke="#1a1a1a" stroke-width="1.0" fill="none"/>
<path d="M776.4,566.0 L786.9,370.2" stroke="#1a1a1a" stroke-width="1.0" fill="none"/>
<path d="M609.7,624.3 L611.9,624.4 L613.6,624.6 L614.6,624.7 L617.3,624.9 L617.6,624.9 L620.1,625.1 L621.5,625.3 L622.8,625.4 L625.5,625.6 L625.6,625.6 L628.3,625.8 L629.4,625.9 L631.1,626.1 L633.3,626.2 L633.9,626.3 L636.6,626.5 L637.3,626.6 L639.4,626.7 L641.2,626.9 L642.2,626.9 L645.0,627.2 L645.1,627.2 L647.8,627.4" fill="none" stroke="#30b0a0" stroke-width="0.9"/>
<path d="M586.4,613.2 L588.4,613.4 L590.2,613.5 L591.1,613.6 L593.7,613.8 L594.1,613.9 L596.4,614.1 L598.0,614.2 L599.1,614.3 L601.8,614.5 L601.8,614.5 L604.5,614.7 L605.7,614.8 L607.2,614.9 L609.5,615.1 L609.9,615.2 L612.6,615.4 L613.3,615.4 L615.3,615.6 L617.1,615.7 L618.0,615.8 L620.8,616.0 L621.0,616.0 L623.5,616.2 L624.8,616.3 L626.3,616.4 L628.6,616.6 L629.0,616.6 L631.8,616.8 L632.3,616.8 L634.5,617.0 L636.1,617.1 L637.3,617.2 L639.9,617.4 L640.1,617.4 L642.9,617.6 L643.7,617.6 L645.7,617.8 L647.4,617.9 L648.5,617.9 L651.2,618.1 L651.3,618.1 L654.1,618.3 L654.9,618.4 L656.9,618.5 L658.6,618.6 L659.8,618.7 L662.3,618.8 L662.6,618.8 L665.4,619.0" fill="none" stroke="#3fe890" stroke-width="0.9"/>
<path d="M561.1,601.2 L563.0,601.4 L564.8,601.5 L565.6,601.6 L568.2,601.8 L568.6,601.9 L570.8,602.0 L572.4,602.2 L573.4,602.3 L576.0,602.5 L576.1,602.5 L578.6,602.7 L579.9,602.8 L581.2,602.9 L583.6,603.1 L583.9,603.1 L586.5,603.3 L587.3,603.3 L589.2,603.5 L591.0,603.6 L591.8,603.7 L594.5,603.9 L594.8,603.9 L597.2,604.1 L598.4,604.2 L599.8,604.3 L602.1,604.4 L602.5,604.5 L605.2,604.6 L605.8,604.7 L607.9,604.8 L609.5,604.9 L610.6,605.0 L613.1,605.2 L613.4,605.2 L616.1,605.4 L616.8,605.4 L618.8,605.5 L620.4,605.6 L621.6,605.7 L624.0,605.9 L624.3,605.9 L627.1,606.0 L627.7,606.1 L629.8,606.2 L631.3,606.3 L632.6,606.4 L634.8,606.5 L635.4,606.5 L638.2,606.7 L638.4,606.7 L641.0,606.8 L642.0,606.9 L643.8,607.0 L645.6,607.1 L646.6,607.1 L649.1,607.3 L649.4,607.3 L652.3,607.4 L652.6,607.4 L655.1,607.5 L656.1,607.6 L658.0,607.7 L659.6,607.8 L660.8,607.8 L663.1,607.9 L663.7,607.9 L666.6,608.1 L666.6,608.1 L669.5,608.2 L670.1,608.2 L672.4,608.3 L673.5,608.3 L675.3,608.4 L677.0,608.5 L678.2,608.5 L680.4,608.6 L681.1,608.6 L683.8,608.7 L684.1,608.7 L687.0,608.8" fill="none" stroke="#40e060" stroke-width="0.9"/>
<path d="M619.1,517.4 L620.9,517.7 L622.7,518.0 L623.3,518.1 L624.5,518.3 L626.3,518.6 L628.1,518.9 L628.1,518.9 L629.9,519.3 L631.7,519.6 L633.0,519.8 L633.5,519.9 L635.3,520.2 L637.1,520.5 L637.9,520.7 L638.9,520.8 L640.7,521.1 L642.4,521.5 L642.9,521.5 L644.2,521.8 L646.0,522.1 L647.8,522.4 L648.0,522.5 L649.6,522.8 L651.4,523.1 L653.1,523.4 L653.2,523.4 L655.0,523.7 L656.8,524.1 L658.4,524.4 L658.6,524.4 L660.4,524.7 L662.2,525.1 L663.7,525.4 L663.9,525.4 L665.7,525.7 L667.5,526.1 L669.2,526.4" fill="none" stroke="#40e060" stroke-width="0.9"/>
<path d="M532.6,587.7 L534.6,587.9 L536.2,588.0 L537.1,588.1 L539.6,588.3 L539.9,588.3 L542.1,588.5 L543.6,588.6 L544.6,588.7 L547.2,588.9 L547.2,588.9 L549.7,589.1 L550.8,589.2 L552.3,589.3 L554.4,589.5 L554.8,589.5 L557.4,589.7 L558.1,589.7 L560.0,589.9 L561.7,590.0 L562.6,590.1 L565.1,590.3 L565.2,590.3 L567.8,590.4 L568.8,590.5 L570.4,590.6 L572.4,590.7 L573.0,590.8 L575.6,591.0 L575.9,591.0 L578.2,591.1 L579.5,591.2 L580.9,591.3 L583.0,591.4 L583.5,591.5 L586.2,591.6 L586.5,591.6 L588.9,591.8 L590.0,591.8 L591.6,591.9 L593.5,592.0 L594.3,592.1 L596.9,592.2 L597.0,592.2 L599.7,592.4 L600.4,592.4 L602.4,592.5 L603.8,592.6 L605.1,592.6 L607.2,592.7 L607.9,592.8 L610.6,592.9 L610.7,592.9 L613.4,593.0 L614.0,593.1 L616.2,593.1 L617.4,593.2 L619.0,593.3 L620.8,593.3 L621.8,593.4 L624.1,593.5 L624.6,593.5 L627.4,593.6 L627.5,593.6 L630.2,593.7 L630.8,593.7 L633.1,593.8 L634.1,593.8 L636.0,593.9 L637.4,593.9 L638.8,593.9 L640.6,594.0 L641.7,594.0 L643.9,594.1 L644.6,594.1 L647.1,594.1 L647.5,594.1 L650.3,594.2 L650.5,594.2 L653.4,594.3 L653.5,594.3 L656.4,594.3 L656.7,594.3 L659.4,594.3 L659.8,594.3 L662.4,594.4 L662.9,594.4 L665.4,594.4 L666.0,594.4 L668.4,594.4 L669.1,594.4 L671.5,594.4 L672.2,594.4 L674.6,594.4 L675.2,594.4 L677.7,594.4 L678.2,594.4 L680.8,594.3 L681.2,594.3 L683.9,594.3 L684.2,594.3 L687.1,594.3 L687.2,594.3 L690.1,594.2 L690.3,594.2 L693.0,594.1 L693.6,594.1 L695.8,594.0 L696.8,594.0 L698.7,593.9 L700.1,593.9 L701.5,593.8 L703.5,593.8 L704.3,593.7 L706.8,593.6 L707.0,593.6 L709.7,593.5 L710.3,593.4 L712.4,593.3 L713.8,593.2 L715.1,593.2 L717.3,593.0 L717.7,593.0 L720.3,592.8 L720.9,592.7" fill="none" stroke="#60e840" stroke-width="0.9"/>
<path d="M603.1,523.4 L604.9,523.7 L606.6,524.0 L607.6,524.2 L608.4,524.3 L610.2,524.7 L612.0,525.0 L612.6,525.1 L613.7,525.3 L615.5,525.6 L617.3,526.0 L617.8,526.1 L619.0,526.3 L620.8,526.7 L622.6,527.0 L623.1,527.1 L624.3,527.3 L626.1,527.7 L627.9,528.0 L628.5,528.1 L629.6,528.4 L631.4,528.7 L633.2,529.1 L634.0,529.2 L634.9,529.4 L636.7,529.8 L638.5,530.1 L639.7,530.4 L640.2,530.5 L642.0,530.9 L643.7,531.2 L645.5,531.6 L645.5,531.6 L647.2,531.9 L649.0,532.3 L650.7,532.7 L651.6,532.9 L652.5,533.1 L654.2,533.4 L656.0,533.8 L657.7,534.2 L657.8,534.2 L659.5,534.6 L661.2,535.0 L663.0,535.4 L664.3,535.7 L664.7,535.7 L666.4,536.1 L668.2,536.5 L669.9,536.9 L671.2,537.2 L671.6,537.3 L673.4,537.7 L675.1,538.1 L676.8,538.5 L678.4,538.9 L678.6,539.0 L680.3,539.4 L682.0,539.8 L683.7,540.2 L685.5,540.6 L686.1,540.8 L687.2,541.1 L688.9,541.5 L690.6,541.9 L692.3,542.4 L694.0,542.8 L694.5,542.9 L695.7,543.2 L697.4,543.7 L699.1,544.1 L700.8,544.6 L702.5,545.0 L704.0,545.4 L704.2,545.5 L705.9,546.0 L707.5,546.4 L709.2,546.9 L710.9,547.4 L712.6,547.9 L714.2,548.3 L715.5,548.7 L715.9,548.8 L717.5,549.3 L719.2,549.8 L720.8,550.3 L722.5,550.8 L724.1,551.3 L725.7,551.9 L727.3,552.4 L729.0,552.9 L730.6,553.4 L732.2,554.0 L733.7,554.5 L735.3,555.1 L735.6,555.2 L736.9,555.6 L738.5,556.2 L740.0,556.8 L741.6,557.4 L743.1,558.0 L744.2,558.4 L744.6,558.6 L746.1,559.2 L747.6,559.8 L749.1,560.4 L750.6,561.1 L752.0,561.7 L753.5,562.4 L754.9,563.0 L756.3,563.7 L757.6,564.4 L758.0,564.6 L759.0,565.1 L760.3,565.9 L761.6,566.6 L762.8,567.4 L763.1,567.6 L764.0,568.2 L765.2,569.0 L766.3,569.9 L766.3,569.9 L767.3,570.8" fill="none" stroke="#60e840" stroke-width="0.9"/>
<path d="M497.8,571.3 L499.6,571.4 L501.4,571.6 L502.0,571.6 L504.4,571.8 L504.9,571.9 L506.8,572.0 L508.4,572.1 L509.2,572.2 L511.7,572.4 L512.0,572.4 L514.1,572.6 L515.4,572.7 L516.6,572.8 L518.9,572.9 L519.0,572.9 L521.5,573.1 L522.4,573.2 L524.0,573.3 L525.8,573.4 L526.5,573.5 L529.0,573.6 L529.3,573.6 L531.6,573.8 L532.7,573.8 L534.1,573.9 L536.1,574.1 L536.6,574.1 L539.2,574.2 L539.4,574.3 L541.8,574.4 L542.8,574.4 L544.4,574.5 L546.1,574.6 L547.0,574.7 L549.4,574.8 L549.6,574.8 L552.2,574.9 L552.7,575.0 L554.8,575.0 L556.0,575.1 L557.5,575.2 L559.3,575.2 L560.2,575.3 L562.5,575.4 L562.8,575.4 L565.5,575.5 L565.7,575.5 L568.3,575.6 L568.9,575.6 L571.0,575.7 L572.1,575.7 L573.8,575.7 L575.3,575.8 L576.5,575.8 L578.4,575.9 L579.3,575.9 L581.5,575.9 L582.1,575.9 L584.6,576.0 L585.0,576.0 L587.6,576.0 L587.8,576.0 L590.6,576.1 L590.7,576.1 L593.6,576.1 L593.6,576.1 L596.5,576.1 L596.6,576.1 L599.5,576.1 L599.6,576.1 L602.5,576.1 L602.5,576.1 L605.4,576.0 L605.5,576.0 L608.2,576.0 L608.6,576.0 L611.1,576.0 L611.7,575.9 L613.9,575.9 L614.8,575.9 L616.6,575.8 L618.0,575.7 L619.3,575.7 L621.3,575.6 L622.0,575.6 L624.6,575.5 L624.7,575.5 L627.3,575.3 L628.0,575.3 L629.9,575.2 L631.5,575.0 L632.4,575.0 L634.9,574.8 L635.1,574.8 L637.3,574.6 L638.8,574.4 L639.7,574.3 L642.1,574.1 L642.8,574.0 L644.4,573.8 L646.6,573.5 L647.0,573.5 L648.8,573.2 L650.9,572.9 L651.7,572.7 L652.9,572.5 L654.9,572.1 L656.8,571.7 L657.5,571.5 L658.6,571.2 L660.3,570.7 L661.9,570.2 L663.4,569.6 L664.8,569.0 L666.0,568.3 L667.1,567.6 L667.6,567.1 L668.0,566.8 L668.7,565.9 L669.0,565.3 L669.2,564.9 L669.3,563.9 L669.4,563.8 L669.2,562.8 L669.1,562.5 L668.7,561.7 L668.3,561.1 L668.1,560.8 L667.3,559.9 L666.7,559.3 L666.4,559.1 L665.4,558.3 L664.4,557.5 L663.5,556.9 L663.3,556.8 L662.2,556.1 L661.0,555.4 L659.7,554.7 L658.5,554.1 L657.2,553.5 L655.9,552.8 L654.5,552.2 L654.2,552.1 L653.2,551.6 L651.8,551.1 L650.3,550.5 L648.9,549.9 L647.5,549.4 L646.0,548.8 L645.7,548.7 L644.5,548.3 L643.0,547.8 L641.5,547.3 L640.0,546.7 L638.5,546.2 L637.0,545.7 L635.4,545.3 L633.9,544.8 L632.3,544.3 L630.7,543.8 L630.1,543.6 L629.1,543.4 L627.6,542.9 L626.0,542.4 L624.4,542.0 L622.8,541.5 L621.1,541.1 L620.5,540.9 L619.5,540.6 L617.9,540.2 L616.3,539.8 L614.6,539.4 L613.0,538.9 L612.5,538.8 L611.3,538.5 L609.7,538.1 L608.0,537.7 L606.3,537.3 L605.3,537.0 L604.7,536.9 L603.0,536.5 L601.3,536.1 L599.7,535.7 L598.6,535.4 L598.0,535.3 L596.3,534.9 L594.6,534.5 L592.9,534.1 L592.4,534.0 L591.2,533.8 L589.5,533.4 L587.8,533.0 L586.4,532.7 L586.1,532.6 L584.4,532.3 L582.7,531.9 L580.9,531.6" fill="none" stroke="#c09060" stroke-width="0.9"/>
<g stroke="#000" stroke-width="1" stroke-linejoin="round"><path d="M625.3,406.9 L632.0,405.1 L638.7,413.0 L632.0,415.0Z" fill="#0e847e"/><path d="M632.0,405.1 L638.8,403.5 L645.5,411.1 L638.7,413.0Z" fill="#13b67e"/><path d="M618.5,399.3 L625.2,397.8 L632.0,405.1 L625.3,406.9Z" fill="#19f075"/><path d="M611.5,392.3 L618.3,391.1 L625.2,397.8 L618.5,399.3Z" fill="#1cf04c"/><path d="M625.2,397.8 L632.0,396.5 L638.8,403.5 L632.0,405.1Z" fill="#1af066"/><path d="M638.8,403.5 L645.7,402.2 L652.4,409.5 L645.5,411.1Z" fill="#18e37d"/><path d="M604.5,386.0 L611.2,385.1 L618.3,391.1 L611.5,392.3Z" fill="#22f02a"/><path d="M618.3,391.1 L625.1,390.1 L632.0,396.5 L625.2,397.8Z" fill="#1df03e"/><path d="M632.0,396.5 L638.9,395.5 L645.7,402.2 L638.8,403.5Z" fill="#1bf058"/><path d="M645.7,402.2 L652.7,401.0 L659.4,408.1 L652.4,409.5Z" fill="#1af073"/><path d="M611.2,385.1 L618.1,384.4 L625.1,390.1 L618.3,391.1Z" fill="#30f12b"/><path d="M597.3,380.4 L604.1,379.8 L611.2,385.1 L604.5,386.0Z" fill="#49f22b"/><path d="M625.1,390.1 L632.0,389.4 L638.9,395.5 L632.0,396.5Z" fill="#1ef032"/><path d="M638.9,395.5 L645.9,394.6 L652.7,401.0 L645.7,402.2Z" fill="#1cf04b"/><path d="M652.7,401.0 L659.8,400.2 L666.5,406.9 L659.4,408.1Z" fill="#1af065"/><path d="M604.1,379.8 L610.9,379.4 L618.1,384.4 L611.2,385.1Z" fill="#55f32c"/><path d="M618.1,384.4 L625.0,384.0 L632.0,389.4 L625.1,390.1Z" fill="#3cf22b"/><path d="M645.9,394.6 L653.0,394.1 L659.8,400.2 L652.7,401.0Z" fill="#1df03f"/><path d="M590.0,375.4 L596.8,375.1 L604.1,379.8 L597.3,380.4Z" fill="#6cf42c"/><path d="M632.0,389.4 L639.0,388.9 L645.9,394.6 L638.9,395.5Z" fill="#22f02a"/><path d="M659.8,400.2 L667.0,399.5 L673.6,405.9 L666.5,406.9Z" fill="#1bf059"/><path d="M596.8,375.1 L603.7,375.1 L610.9,379.4 L604.1,379.8Z" fill="#75f52d"/><path d="M639.0,388.9 L646.2,388.6 L653.0,394.1 L645.9,394.6Z" fill="#2df12a"/><path d="M582.7,371.1 L589.4,371.2 L596.8,375.1 L590.0,375.4Z" fill="#82d428"/><path d="M610.9,379.4 L617.9,379.3 L625.0,384.0 L618.1,384.4Z" fill="#5ff32c"/><path d="M625.0,384.0 L632.0,383.8 L639.0,388.9 L632.0,389.4Z" fill="#47f22b"/><path d="M653.0,394.1 L660.2,393.7 L667.0,399.5 L659.8,400.2Z" fill="#1df035"/><path d="M667.0,399.5 L674.3,399.1 L680.9,405.2 L673.6,405.9Z" fill="#1cf04e"/><path d="M575.2,367.5 L582.0,367.9 L589.4,371.2 L582.7,371.1Z" fill="#8f971e"/><path d="M589.4,371.2 L596.3,371.5 L603.7,375.1 L596.8,375.1Z" fill="#86c325"/><path d="M603.7,375.1 L610.6,375.3 L617.9,379.3 L610.9,379.4Z" fill="#7df22c"/><path d="M632.0,383.8 L639.2,383.9 L646.2,388.6 L639.0,388.9Z" fill="#50f32c"/><path d="M646.2,388.6 L653.4,388.6 L660.2,393.7 L653.0,394.1Z" fill="#37f12b"/><path d="M617.9,379.3 L624.9,379.5 L632.0,383.8 L625.0,384.0Z" fill="#68f42c"/><path d="M660.2,393.7 L667.5,393.7 L674.3,399.1 L667.0,399.5Z" fill="#1ef02b"/><path d="M674.3,399.1 L681.6,399.0 L688.2,404.8 L680.9,405.2Z" fill="#1cf044"/><path d="M567.6,364.7 L574.4,365.5 L582.0,367.9 L575.2,367.5Z" fill="#905c13"/><path d="M582.0,367.9 L588.8,368.6 L596.3,371.5 L589.4,371.2Z" fill="#918a1c"/><path d="M596.3,371.5 L603.3,372.1 L610.6,375.3 L603.7,375.1Z" fill="#89b422"/><path d="M610.6,375.3 L617.7,375.8 L624.9,379.5 L617.9,379.3Z" fill="#80e22a"/><path d="M624.9,379.5 L632.0,379.9 L639.2,383.9 L632.0,383.8Z" fill="#6ff42d"/><path d="M639.2,383.9 L646.4,384.3 L653.4,388.6 L646.2,388.6Z" fill="#58f32c"/><path d="M653.4,388.6 L660.6,388.9 L667.5,393.7 L660.2,393.7Z" fill="#40f22b"/><path d="M667.5,393.7 L674.9,393.8 L681.6,399.0 L674.3,399.1Z" fill="#26f02a"/><path d="M681.6,399.0 L689.1,399.1 L695.7,404.5 L688.2,404.8Z" fill="#1df03c"/><path d="M574.4,365.5 L581.3,366.5 L588.8,368.6 L582.0,367.9Z" fill="#8f5210"/><path d="M559.9,362.6 L566.7,363.7 L574.4,365.5 L567.6,364.7Z" fill="#8d2a08"/><path d="M588.8,368.6 L595.8,369.6 L603.3,372.1 L596.3,371.5Z" fill="#927e19"/><path d="M603.3,372.1 L610.3,372.9 L617.7,375.8 L610.6,375.3Z" fill="#8ba821"/><path d="M617.7,375.8 L624.8,376.6 L632.0,379.9 L624.9,379.5Z" fill="#82d528"/><path d="M632.0,379.9 L639.3,380.6 L646.4,384.3 L639.2,383.9Z" fill="#75f52d"/><path d="M646.4,384.3 L653.7,384.9 L660.6,388.9 L653.4,388.6Z" fill="#5ff32c"/><path d="M660.6,388.9 L668.0,389.4 L674.9,393.8 L667.5,393.7Z" fill="#47f22b"/><path d="M674.9,393.8 L682.4,394.3 L689.1,399.1 L681.6,399.0Z" fill="#2ef12a"/><path d="M689.1,399.1 L696.6,399.4 L703.2,404.6 L695.7,404.5Z" fill="#1df034"/><path d="M566.7,363.7 L573.6,365.2 L581.3,366.5 L574.4,365.5Z" fill="#8d2507"/><path d="M581.3,366.5 L588.2,367.8 L595.8,369.6 L588.8,368.6Z" fill="#8f4b0f"/><path d="M610.3,372.9 L617.5,374.1 L624.8,376.6 L617.7,375.8Z" fill="#8da01f"/><path d="M653.7,384.9 L661.1,385.7 L668.0,389.4 L660.6,388.9Z" fill="#64f42c"/><path d="M668.0,389.4 L675.5,390.2 L682.4,394.3 L674.9,393.8Z" fill="#4df22b"/><path d="M682.4,394.3 L689.9,395.0 L696.6,399.4 L689.1,399.1Z" fill="#34f12b"/><path d="M595.8,369.6 L602.9,370.8 L610.3,372.9 L603.3,372.1Z" fill="#917618"/><path d="M624.8,376.6 L632.0,377.7 L639.3,380.6 L632.0,379.9Z" fill="#84cb26"/><path d="M696.6,399.4 L704.3,400.1 L710.9,404.9 L703.2,404.6Z" fill="#1ef02e"/><path d="M552.1,361.3 L558.9,362.8 L566.7,363.7 L559.9,362.6Z" fill="#8b0301"/><path d="M639.3,380.6 L646.6,381.6 L653.7,384.9 L646.4,384.3Z" fill="#7af52d"/><path d="M602.9,370.8 L610.0,372.3 L617.5,374.1 L610.3,372.9Z" fill="#917117"/><path d="M544.3,360.8 L551.1,362.7 L558.9,362.8 L552.1,361.3Z" fill="#8b0000"/><path d="M558.9,362.8 L565.8,364.6 L573.6,365.2 L566.7,363.7Z" fill="#8b0301"/><path d="M573.6,365.2 L580.6,366.9 L588.2,367.8 L581.3,366.5Z" fill="#8d2307"/><path d="M588.2,367.8 L595.3,369.4 L602.9,370.8 L595.8,369.6Z" fill="#8f480f"/><path d="M617.5,374.1 L624.7,375.5 L632.0,377.7 L624.8,376.6Z" fill="#8e9b1e"/><path d="M632.0,377.7 L639.4,379.0 L646.6,381.6 L639.3,380.6Z" fill="#86c525"/><path d="M646.6,381.6 L654.0,382.8 L661.1,385.7 L653.7,384.9Z" fill="#7df22d"/><path d="M661.1,385.7 L668.6,386.9 L675.5,390.2 L668.0,389.4Z" fill="#68f42c"/><path d="M675.5,390.2 L683.1,391.3 L689.9,395.0 L682.4,394.3Z" fill="#51f32c"/><path d="M689.9,395.0 L697.6,396.0 L704.3,400.1 L696.6,399.4Z" fill="#39f12b"/><path d="M704.3,400.1 L712.0,401.0 L718.6,405.4 L710.9,404.9Z" fill="#1ff02a"/><path d="M551.1,362.7 L558.0,364.9 L565.8,364.6 L558.9,362.8Z" fill="#8b0000"/><path d="M595.3,369.4 L602.5,371.3 L610.0,372.3 L602.9,370.8Z" fill="#8f490f"/><path d="M668.6,386.9 L676.1,388.3 L683.1,391.3 L675.5,390.2Z" fill="#6bf42c"/><path d="M610.0,372.3 L617.3,374.1 L624.7,375.5 L617.5,374.1Z" fill="#917117"/><path d="M683.1,391.3 L690.8,392.6 L697.6,396.0 L689.9,395.0Z" fill="#55f32c"/><path d="M536.3,361.1 L543.1,363.4 L551.1,362.7 L544.3,360.8Z" fill="#8b0000"/><path d="M565.8,364.6 L572.8,366.7 L580.6,366.9 L573.6,365.2Z" fill="#8b0701"/><path d="M580.6,366.9 L587.7,368.9 L595.3,369.4 L588.2,367.8Z" fill="#8d2608"/><path d="M624.7,375.5 L632.0,377.2 L639.4,379.0 L632.0,377.7Z" fill="#8e991e"/><path d="M639.4,379.0 L646.8,380.6 L654.0,382.8 L646.6,381.6Z" fill="#86c125"/><path d="M654.0,382.8 L661.5,384.3 L668.6,386.9 L661.1,385.7Z" fill="#7eed2c"/><path d="M697.6,396.0 L705.3,397.2 L712.0,401.0 L704.3,400.1Z" fill="#3df22b"/><path d="M712.0,401.0 L719.9,402.1 L726.4,406.2 L718.6,405.4Z" fill="#24f02a"/><path d="M528.3,362.2 L535.1,364.9 L543.1,363.4 L536.3,361.1Z" fill="#8b0000"/><path d="M543.1,363.4 L550.0,366.0 L558.0,364.9 L551.1,362.7Z" fill="#8b0000"/><path d="M558.0,364.9 L565.0,367.4 L572.8,366.7 L565.8,364.6Z" fill="#8b0000"/><path d="M587.7,368.9 L594.8,371.2 L602.5,371.3 L595.3,369.4Z" fill="#8d2c09"/><path d="M602.5,371.3 L609.7,373.5 L617.3,374.1 L610.0,372.3Z" fill="#8f4e10"/><path d="M617.3,374.1 L624.6,376.2 L632.0,377.2 L624.7,375.5Z" fill="#917417"/><path d="M632.0,377.2 L639.5,379.2 L646.8,380.6 L639.4,379.0Z" fill="#8e9a1e"/><path d="M646.8,380.6 L654.3,382.5 L661.5,384.3 L654.0,382.8Z" fill="#86c125"/><path d="M661.5,384.3 L669.1,386.1 L676.1,388.3 L668.6,386.9Z" fill="#7eec2c"/><path d="M676.1,388.3 L683.8,390.0 L690.8,392.6 L683.1,391.3Z" fill="#6cf42c"/><path d="M690.8,392.6 L698.5,394.3 L705.3,397.2 L697.6,396.0Z" fill="#57f32c"/><path d="M705.3,397.2 L713.2,398.8 L719.9,402.1 L712.0,401.0Z" fill="#3ff22b"/><path d="M719.9,402.1 L727.8,403.6 L734.3,407.3 L726.4,406.2Z" fill="#27f02a"/><path d="M572.8,366.7 L579.9,369.1 L587.7,368.9 L580.6,366.9Z" fill="#8c0f03"/><path d="M535.1,364.9 L542.0,367.9 L550.0,366.0 L543.1,363.4Z" fill="#8b0000"/><path d="M520.2,364.1 L527.0,367.2 L535.1,364.9 L528.3,362.2Z" fill="#8b0000"/><path d="M550.0,366.0 L557.0,368.9 L565.0,367.4 L558.0,364.9Z" fill="#8b0000"/><path d="M579.9,369.1 L587.1,371.8 L594.8,371.2 L587.7,368.9Z" fill="#8c1b05"/><path d="M594.8,371.2 L602.1,373.8 L609.7,373.5 L602.5,371.3Z" fill="#8e360b"/><path d="M609.7,373.5 L617.1,376.0 L624.6,376.2 L617.3,374.1Z" fill="#905611"/><path d="M624.6,376.2 L632.0,378.6 L639.5,379.2 L632.0,377.2Z" fill="#917b19"/><path d="M639.5,379.2 L647.0,381.5 L654.3,382.5 L646.8,380.6Z" fill="#8d9e1f"/><path d="M654.3,382.5 L661.9,384.7 L669.1,386.1 L661.5,384.3Z" fill="#86c425"/><path d="M669.1,386.1 L676.8,388.2 L683.8,390.0 L676.1,388.3Z" fill="#7ded2c"/><path d="M683.8,390.0 L691.6,392.0 L698.5,394.3 L690.8,392.6Z" fill="#6cf42c"/><path d="M698.5,394.3 L706.4,396.2 L713.2,398.8 L705.3,397.2Z" fill="#57f32c"/><path d="M713.2,398.8 L721.1,400.6 L727.8,403.6 L719.9,402.1Z" fill="#40f22b"/><path d="M727.8,403.6 L735.8,405.3 L742.4,408.7 L734.3,407.3Z" fill="#28f12a"/><path d="M565.0,367.4 L572.1,370.2 L579.9,369.1 L572.8,366.7Z" fill="#8b0401"/><path d="M527.0,367.2 L533.9,370.7 L542.0,367.9 L535.1,364.9Z" fill="#8b0000"/><path d="M542.0,367.9 L549.0,371.3 L557.0,368.9 L550.0,366.0Z" fill="#8b0000"/><path d="M572.1,370.2 L579.2,373.3 L587.1,371.8 L579.9,369.1Z" fill="#8c1504"/><path d="M617.1,376.0 L624.5,378.8 L632.0,378.6 L624.6,376.2Z" fill="#906314"/><path d="M632.0,378.6 L639.6,381.3 L647.0,381.5 L639.5,379.2Z" fill="#92851b"/><path d="M647.0,381.5 L654.6,384.1 L661.9,384.7 L654.3,382.5Z" fill="#8ca620"/><path d="M661.9,384.7 L669.6,387.2 L676.8,388.2 L669.1,386.1Z" fill="#84ca26"/><path d="M691.6,392.0 L699.4,394.3 L706.4,396.2 L698.5,394.3Z" fill="#6af42c"/><path d="M706.4,396.2 L714.3,398.4 L721.1,400.6 L713.2,398.8Z" fill="#56f32c"/><path d="M721.1,400.6 L729.2,402.7 L735.8,405.3 L727.8,403.6Z" fill="#40f22b"/><path d="M735.8,405.3 L743.9,407.4 L750.5,410.4 L742.4,408.7Z" fill="#29f12a"/><path d="M557.0,368.9 L564.1,372.1 L572.1,370.2 L565.0,367.4Z" fill="#8b0501"/><path d="M587.1,371.8 L594.3,374.8 L602.1,373.8 L594.8,371.2Z" fill="#8d2b09"/><path d="M602.1,373.8 L609.4,376.7 L617.1,376.0 L609.7,373.5Z" fill="#8f440e"/><path d="M512.0,366.9 L518.8,370.5 L527.0,367.2 L520.2,364.1Z" fill="#8b0000"/><path d="M676.8,388.2 L684.5,390.6 L691.6,392.0 L683.8,390.0Z" fill="#7df22d"/><path d="M564.1,372.1 L571.3,375.7 L579.2,373.3 L572.1,370.2Z" fill="#8c1b06"/><path d="M624.5,378.8 L632.0,381.9 L639.6,381.3 L632.0,378.6Z" fill="#917317"/><path d="M639.6,381.3 L647.2,384.3 L654.6,384.1 L647.0,381.5Z" fill="#90911d"/><path d="M503.7,370.6 L510.6,374.6 L518.8,370.5 L512.0,366.9Z" fill="#8c0c02"/><path d="M518.8,370.5 L525.8,374.4 L533.9,370.7 L527.0,367.2Z" fill="#8b0902"/><path d="M533.9,370.7 L540.9,374.5 L549.0,371.3 L542.0,367.9Z" fill="#8c0b02"/><path d="M654.6,384.1 L662.3,387.0 L669.6,387.2 L661.9,384.7Z" fill="#8ab122"/><path d="M699.4,394.3 L707.4,396.9 L714.3,398.4 L706.4,396.2Z" fill="#68f42c"/><path d="M714.3,398.4 L722.4,400.9 L729.2,402.7 L721.1,400.6Z" fill="#54f32c"/><path d="M729.2,402.7 L737.3,405.1 L743.9,407.4 L735.8,405.3Z" fill="#3ef22b"/><path d="M549.0,371.3 L556.1,374.9 L564.1,372.1 L557.0,368.9Z" fill="#8c1103"/><path d="M579.2,373.3 L586.5,376.8 L594.3,374.8 L587.1,371.8Z" fill="#8d2a09"/><path d="M609.4,376.7 L616.9,379.9 L624.5,378.8 L617.1,376.0Z" fill="#8f5611"/><path d="M594.3,374.8 L601.7,378.2 L609.4,376.7 L602.1,373.8Z" fill="#8e3e0c"/><path d="M669.6,387.2 L677.4,390.0 L684.5,390.6 L676.8,388.2Z" fill="#83d428"/><path d="M684.5,390.6 L692.4,393.3 L699.4,394.3 L691.6,392.0Z" fill="#7af52d"/><path d="M743.9,407.4 L752.2,409.7 L758.7,412.3 L750.5,410.4Z" fill="#28f12a"/><path d="M510.6,374.6 L517.5,378.9 L525.8,374.4 L518.8,370.5Z" fill="#8d2d09"/><path d="M556.1,374.9 L563.3,378.9 L571.3,375.7 L564.1,372.1Z" fill="#8d2d09"/><path d="M632.0,381.9 L639.6,385.4 L647.2,384.3 L639.6,381.3Z" fill="#92871b"/><path d="M647.2,384.3 L654.9,387.6 L662.3,387.0 L654.6,384.1Z" fill="#8da11f"/><path d="M707.4,396.9 L715.5,399.8 L722.4,400.9 L714.3,398.4Z" fill="#63f42c"/><path d="M722.4,400.9 L730.5,403.7 L737.3,405.1 L729.2,402.7Z" fill="#50f32c"/><path d="M571.3,375.7 L578.6,379.5 L586.5,376.8 L579.2,373.3Z" fill="#8e360b"/><path d="M616.9,379.9 L624.4,383.4 L632.0,381.9 L624.5,378.8Z" fill="#916c16"/><path d="M495.4,375.1 L502.3,379.6 L510.6,374.6 L503.7,370.6Z" fill="#8e360b"/><path d="M525.8,374.4 L532.8,378.6 L540.9,374.5 L533.9,370.7Z" fill="#8d2908"/><path d="M540.9,374.5 L548.0,378.6 L556.1,374.9 L549.0,371.3Z" fill="#8d2908"/><path d="M586.5,376.8 L593.9,380.5 L601.7,378.2 L594.3,374.8Z" fill="#8f430e"/><path d="M601.7,378.2 L609.1,381.8 L616.9,379.9 L609.4,376.7Z" fill="#8f5511"/><path d="M662.3,387.0 L670.1,390.2 L677.4,390.0 L669.6,387.2Z" fill="#87bf24"/><path d="M677.4,390.0 L685.2,393.1 L692.4,393.3 L684.5,390.6Z" fill="#80e02a"/><path d="M692.4,393.3 L700.4,396.3 L707.4,396.9 L699.4,394.3Z" fill="#75f52d"/><path d="M737.3,405.1 L745.5,407.8 L752.2,409.7 L743.9,407.4Z" fill="#3bf22b"/><path d="M752.2,409.7 L760.5,412.3 L767.0,414.5 L758.7,412.3Z" fill="#25f02a"/><path d="M502.3,379.6 L509.2,384.3 L517.5,378.9 L510.6,374.6Z" fill="#905d13"/><path d="M517.5,378.9 L524.5,383.6 L532.8,378.6 L525.8,374.4Z" fill="#8f5211"/><path d="M548.0,378.6 L555.2,383.0 L563.3,378.9 L556.1,374.9Z" fill="#8f4a0f"/><path d="M639.6,385.4 L647.4,389.1 L654.9,387.6 L647.2,384.3Z" fill="#8e9a1e"/><path d="M715.5,399.8 L723.6,403.1 L730.5,403.7 L722.4,400.9Z" fill="#5ef32c"/><path d="M563.3,378.9 L570.6,383.2 L578.6,379.5 L571.3,375.7Z" fill="#8f4d10"/><path d="M624.4,383.4 L632.0,387.3 L639.6,385.4 L632.0,381.9Z" fill="#92851b"/><path d="M578.6,379.5 L586.0,383.7 L593.9,380.5 L586.5,376.8Z" fill="#8f5411"/><path d="M593.9,380.5 L601.3,384.6 L609.1,381.8 L601.7,378.2Z" fill="#906013"/><path d="M609.1,381.8 L616.7,385.7 L624.4,383.4 L616.9,379.9Z" fill="#917017"/><path d="M654.9,387.6 L662.7,391.2 L670.1,390.2 L662.3,387.0Z" fill="#89b322"/><path d="M670.1,390.2 L677.9,393.7 L685.2,393.1 L677.4,390.0Z" fill="#83d027"/><path d="M685.2,393.1 L693.2,396.5 L700.4,396.3 L692.4,393.3Z" fill="#7df02c"/><path d="M700.4,396.3 L708.4,399.6 L715.5,399.8 L707.4,396.9Z" fill="#6ff42d"/><path d="M730.5,403.7 L738.7,406.8 L745.5,407.8 L737.3,405.1Z" fill="#4bf22b"/><path d="M745.5,407.8 L753.8,410.9 L760.5,412.3 L752.2,409.7Z" fill="#37f12b"/><path d="M760.5,412.3 L768.9,415.2 L775.4,417.1 L767.0,414.5Z" fill="#21f02a"/><path d="M487.1,380.5 L493.9,385.4 L502.3,379.6 L495.4,375.1Z" fill="#916c16"/><path d="M532.8,378.6 L539.9,383.1 L548.0,378.6 L540.9,374.5Z" fill="#8f4c0f"/><path d="M478.6,386.9 L485.5,392.2 L493.9,385.4 L487.1,380.5Z" fill="#8ba720"/><path d="M493.9,385.4 L500.9,390.7 L509.2,384.3 L502.3,379.6Z" fill="#8f951d"/><path d="M509.2,384.3 L516.3,389.4 L524.5,383.6 L517.5,378.9Z" fill="#92871b"/><path d="M524.5,383.6 L531.7,388.5 L539.9,383.1 L532.8,378.6Z" fill="#917b19"/><path d="M539.9,383.1 L547.1,388.0 L555.2,383.0 L548.0,378.6Z" fill="#917317"/><path d="M555.2,383.0 L562.5,387.7 L570.6,383.2 L563.3,378.9Z" fill="#917017"/><path d="M570.6,383.2 L578.0,387.8 L586.0,383.7 L578.6,379.5Z" fill="#917117"/><path d="M586.0,383.7 L593.4,388.2 L601.3,384.6 L593.9,380.5Z" fill="#917718"/><path d="M601.3,384.6 L608.9,389.0 L616.7,385.7 L609.1,381.8Z" fill="#92811a"/><path d="M616.7,385.7 L624.3,390.0 L632.0,387.3 L624.4,383.4Z" fill="#908e1c"/><path d="M632.0,387.3 L639.7,391.4 L647.4,389.1 L639.6,385.4Z" fill="#8d9e1f"/><path d="M647.4,389.1 L655.2,393.1 L662.7,391.2 L654.9,387.6Z" fill="#89b122"/><path d="M662.7,391.2 L670.5,395.2 L677.9,393.7 L670.1,390.2Z" fill="#85c926"/><path d="M677.9,393.7 L685.9,397.6 L693.2,396.5 L685.2,393.1Z" fill="#7fe42a"/><path d="M693.2,396.5 L701.3,400.2 L708.4,399.6 L700.4,396.3Z" fill="#76f52d"/><path d="M708.4,399.6 L716.6,403.3 L723.6,403.1 L715.5,399.8Z" fill="#67f42c"/><path d="M723.6,403.1 L731.8,406.6 L738.7,406.8 L730.5,403.7Z" fill="#57f32c"/><path d="M738.7,406.8 L747.0,410.2 L753.8,410.9 L745.5,407.8Z" fill="#45f22b"/><path d="M753.8,410.9 L762.2,414.2 L768.9,415.2 L760.5,412.3Z" fill="#31f12b"/><path d="M768.9,415.2 L777.3,418.5 L783.8,419.9 L775.4,417.1Z" fill="#1ef02c"/><path d="M485.5,392.2 L492.5,397.9 L500.9,390.7 L493.9,385.4Z" fill="#83d027"/><path d="M531.7,388.5 L538.9,393.9 L547.1,388.0 L539.9,383.1Z" fill="#8ca220"/><path d="M578.0,387.8 L585.4,392.8 L593.4,388.2 L586.0,383.7Z" fill="#8f951e"/><path d="M593.4,388.2 L601.0,393.1 L608.9,389.0 L601.3,384.6Z" fill="#8e991e"/><path d="M608.9,389.0 L616.5,393.7 L624.3,390.0 L616.7,385.7Z" fill="#8da01f"/><path d="M655.2,393.1 L663.0,397.5 L670.5,395.2 L662.7,391.2Z" fill="#84cb26"/><path d="M670.5,395.2 L678.5,399.5 L685.9,397.6 L677.9,393.7Z" fill="#80e12a"/><path d="M685.9,397.6 L694.0,401.7 L701.3,400.2 L693.2,396.5Z" fill="#79f52d"/><path d="M701.3,400.2 L709.4,404.3 L716.6,403.3 L708.4,399.6Z" fill="#6df42d"/><path d="M731.8,406.6 L740.1,410.4 L747.0,410.2 L738.7,406.8Z" fill="#4ff32c"/><path d="M747.0,410.2 L755.5,414.0 L762.2,414.2 L753.8,410.9Z" fill="#3df22b"/><path d="M762.2,414.2 L770.7,417.9 L777.3,418.5 L768.9,415.2Z" fill="#2af12a"/><path d="M562.5,387.7 L569.9,392.8 L578.0,387.8 L570.6,383.2Z" fill="#8f961e"/><path d="M624.3,390.0 L632.0,394.6 L639.7,391.4 L632.0,387.3Z" fill="#8bab21"/><path d="M500.9,390.7 L507.9,396.2 L516.3,389.4 L509.2,384.3Z" fill="#87bd24"/><path d="M516.3,389.4 L523.4,394.9 L531.7,388.5 L524.5,383.6Z" fill="#8aae21"/><path d="M547.1,388.0 L554.4,393.2 L562.5,387.7 L555.2,383.0Z" fill="#8e9a1e"/><path d="M639.7,391.4 L647.5,395.9 L655.2,393.1 L647.4,389.1Z" fill="#88b923"/><path d="M716.6,403.3 L724.8,407.2 L731.8,406.6 L723.6,403.1Z" fill="#5ff32c"/><path d="M492.5,397.9 L499.5,404.0 L507.9,396.2 L500.9,390.7Z" fill="#79f52d"/><path d="M523.4,394.9 L530.6,400.7 L538.9,393.9 L531.7,388.5Z" fill="#82d728"/><path d="M538.9,393.9 L546.2,399.5 L554.4,393.2 L547.1,388.0Z" fill="#85ca26"/><path d="M585.4,392.8 L593.0,398.1 L601.0,393.1 L593.4,388.2Z" fill="#88b923"/><path d="M601.0,393.1 L608.6,398.2 L616.5,393.7 L608.9,389.0Z" fill="#87bb24"/><path d="M663.0,397.5 L671.0,402.2 L678.5,399.5 L670.5,395.2Z" fill="#7ee92b"/><path d="M678.5,399.5 L686.6,404.1 L694.0,401.7 L685.9,397.6Z" fill="#78f52d"/><path d="M694.0,401.7 L702.1,406.2 L709.4,404.3 L701.3,400.2Z" fill="#6ef42d"/><path d="M740.1,410.4 L748.6,414.6 L755.5,414.0 L747.0,410.2Z" fill="#45f22b"/><path d="M755.5,414.0 L764.0,418.1 L770.7,417.9 L762.2,414.2Z" fill="#34f12b"/><path d="M569.9,392.8 L577.4,398.2 L585.4,392.8 L578.0,387.8Z" fill="#87bb24"/><path d="M616.5,393.7 L624.2,398.7 L632.0,394.6 L624.3,390.0Z" fill="#86c125"/><path d="M647.5,395.9 L655.4,400.7 L663.0,397.5 L655.2,393.1Z" fill="#82d828"/><path d="M709.4,404.3 L717.6,408.7 L724.8,407.2 L716.6,403.3Z" fill="#62f42c"/><path d="M724.8,407.2 L733.1,411.5 L740.1,410.4 L731.8,406.6Z" fill="#54f32c"/><path d="M554.4,393.2 L561.8,398.7 L569.9,392.8 L562.5,387.7Z" fill="#86c125"/><path d="M632.0,394.6 L639.8,399.6 L647.5,395.9 L639.7,391.4Z" fill="#84cb26"/><path d="M507.9,396.2 L515.0,402.2 L523.4,394.9 L516.3,389.4Z" fill="#7fe82b"/><path d="M593.0,398.1 L600.6,403.7 L608.6,398.2 L601.0,393.1Z" fill="#80e12a"/><path d="M671.0,402.2 L679.1,407.3 L686.6,404.1 L678.5,399.5Z" fill="#73f52d"/><path d="M686.6,404.1 L694.7,409.0 L702.1,406.2 L694.0,401.7Z" fill="#6bf42c"/><path d="M748.6,414.6 L757.1,419.1 L764.0,418.1 L755.5,414.0Z" fill="#3af12b"/><path d="M546.2,399.5 L553.5,405.5 L561.8,398.7 L554.4,393.2Z" fill="#7cf52d"/><path d="M577.4,398.2 L584.9,404.0 L593.0,398.1 L585.4,392.8Z" fill="#7fe42a"/><path d="M608.6,398.2 L616.3,403.8 L624.2,398.7 L616.5,393.7Z" fill="#80e12a"/><path d="M499.5,404.0 L506.6,410.4 L515.0,402.2 L507.9,396.2Z" fill="#65f42c"/><path d="M515.0,402.2 L522.2,408.4 L530.6,400.7 L523.4,394.9Z" fill="#6ef42d"/><path d="M530.6,400.7 L537.9,406.8 L546.2,399.5 L538.9,393.9Z" fill="#76f52d"/><path d="M655.4,400.7 L663.4,405.9 L671.0,402.2 L663.0,397.5Z" fill="#7af52d"/><path d="M702.1,406.2 L710.4,411.0 L717.6,408.7 L709.4,404.3Z" fill="#61f42c"/><path d="M717.6,408.7 L726.0,413.4 L733.1,411.5 L724.8,407.2Z" fill="#56f32c"/><path d="M733.1,411.5 L741.5,416.1 L748.6,414.6 L740.1,410.4Z" fill="#49f22b"/><path d="M561.8,398.7 L569.2,404.6 L577.4,398.2 L569.9,392.8Z" fill="#7eeb2b"/><path d="M624.2,398.7 L632.0,404.1 L639.8,399.6 L632.0,394.6Z" fill="#7fe62b"/><path d="M639.8,399.6 L647.7,404.9 L655.4,400.7 L647.5,395.9Z" fill="#7dee2c"/><path d="M506.6,410.4 L513.9,417.1 L522.2,408.4 L515.0,402.2Z" fill="#4ff32c"/><path d="M679.1,407.3 L687.2,412.7 L694.7,409.0 L686.6,404.1Z" fill="#64f42c"/><path d="M553.5,405.5 L561.0,411.9 L569.2,404.6 L561.8,398.7Z" fill="#68f42c"/><path d="M584.9,404.0 L592.5,410.1 L600.6,403.7 L593.0,398.1Z" fill="#71f42d"/><path d="M600.6,403.7 L608.3,409.7 L616.3,403.8 L608.6,398.2Z" fill="#73f42d"/><path d="M663.4,405.9 L671.5,411.4 L679.1,407.3 L671.0,402.2Z" fill="#6af42c"/><path d="M694.7,409.0 L703.0,414.3 L710.4,411.0 L702.1,406.2Z" fill="#5cf32c"/><path d="M710.4,411.0 L718.7,416.2 L726.0,413.4 L717.6,408.7Z" fill="#53f32c"/><path d="M726.0,413.4 L734.4,418.5 L741.5,416.1 L733.1,411.5Z" fill="#48f22b"/><path d="M741.5,416.1 L750.0,421.1 L757.1,419.1 L748.6,414.6Z" fill="#3cf22b"/><path d="M537.9,406.8 L545.3,413.3 L553.5,405.5 L546.2,399.5Z" fill="#61f42c"/><path d="M569.2,404.6 L576.8,410.8 L584.9,404.0 L577.4,398.2Z" fill="#6df42d"/><path d="M616.3,403.8 L624.1,409.6 L632.0,404.1 L624.2,398.7Z" fill="#73f52d"/><path d="M632.0,404.1 L639.9,409.9 L647.7,404.9 L639.8,399.6Z" fill="#72f42d"/><path d="M647.7,404.9 L655.7,410.5 L663.4,405.9 L655.4,400.7Z" fill="#6ff42d"/><path d="M522.2,408.4 L529.5,415.0 L537.9,406.8 L530.6,400.7Z" fill="#59f32c"/><path d="M561.0,411.9 L568.6,418.6 L576.8,410.8 L569.2,404.6Z" fill="#53f32c"/><path d="M513.9,417.1 L521.2,424.2 L529.5,415.0 L522.2,408.4Z" fill="#38f12b"/><path d="M545.3,413.3 L552.7,420.1 L561.0,411.9 L553.5,405.5Z" fill="#4bf22b"/><path d="M576.8,410.8 L584.4,417.4 L592.5,410.1 L584.9,404.0Z" fill="#58f32c"/><path d="M592.5,410.1 L600.3,416.6 L608.3,409.7 L600.6,403.7Z" fill="#5cf32c"/><path d="M608.3,409.7 L616.1,416.0 L624.1,409.6 L616.3,403.8Z" fill="#5ff32c"/><path d="M624.1,409.6 L632.0,415.8 L639.9,409.9 L632.0,404.1Z" fill="#60f42c"/><path d="M639.9,409.9 L647.9,416.0 L655.7,410.5 L647.7,404.9Z" fill="#5ff32c"/><path d="M655.7,410.5 L663.8,416.5 L671.5,411.4 L663.4,405.9Z" fill="#5df32c"/><path d="M671.5,411.4 L679.6,417.3 L687.2,412.7 L679.1,407.3Z" fill="#59f32c"/><path d="M687.2,412.7 L695.5,418.4 L703.0,414.3 L694.7,409.0Z" fill="#54f32c"/><path d="M703.0,414.3 L711.3,419.9 L718.7,416.2 L710.4,411.0Z" fill="#4cf22b"/><path d="M718.7,416.2 L727.1,421.7 L734.4,418.5 L726.0,413.4Z" fill="#44f22b"/><path d="M734.4,418.5 L742.9,423.9 L750.0,421.1 L741.5,416.1Z" fill="#39f12b"/><path d="M529.5,415.0 L536.9,422.0 L545.3,413.3 L537.9,406.8Z" fill="#42f22b"/><path d="M568.6,418.6 L576.2,425.7 L584.4,417.4 L576.8,410.8Z" fill="#3cf22b"/><path d="M695.5,418.4 L703.8,424.5 L711.3,419.9 L703.0,414.3Z" fill="#42f22b"/><path d="M711.3,419.9 L719.7,425.9 L727.1,421.7 L718.7,416.2Z" fill="#3bf22b"/><path d="M727.1,421.7 L735.6,427.6 L742.9,423.9 L734.4,418.5Z" fill="#33f12b"/><path d="M521.2,424.2 L528.6,431.6 L536.9,422.0 L529.5,415.0Z" fill="#20f02a"/><path d="M536.9,422.0 L544.4,429.3 L552.7,420.1 L545.3,413.3Z" fill="#2bf12a"/><path d="M552.7,420.1 L560.3,427.3 L568.6,418.6 L561.0,411.9Z" fill="#34f12b"/><path d="M584.4,417.4 L592.1,424.4 L600.3,416.6 L592.5,410.1Z" fill="#42f22b"/><path d="M600.3,416.6 L608.1,423.4 L616.1,416.0 L608.3,409.7Z" fill="#47f22b"/><path d="M616.1,416.0 L624.0,422.7 L632.0,415.8 L624.1,409.6Z" fill="#4af22b"/><path d="M632.0,415.8 L640.0,422.4 L647.9,416.0 L639.9,409.9Z" fill="#4cf22b"/><path d="M647.9,416.0 L656.0,422.4 L663.8,416.5 L655.7,410.5Z" fill="#4bf22b"/><path d="M663.8,416.5 L671.9,422.8 L679.6,417.3 L671.5,411.4Z" fill="#4af22b"/><path d="M679.6,417.3 L687.9,423.5 L695.5,418.4 L687.2,412.7Z" fill="#46f22b"/><path d="M528.6,431.6 L536.0,439.4 L544.4,429.3 L536.9,422.0Z" fill="#1df03f"/><path d="M560.3,427.3 L567.9,434.9 L576.2,425.7 L568.6,418.6Z" fill="#1ef02c"/><path d="M576.2,425.7 L583.9,433.1 L592.1,424.4 L584.4,417.4Z" fill="#24f02a"/><path d="M624.0,422.7 L632.0,429.8 L640.0,422.4 L632.0,415.8Z" fill="#34f12b"/><path d="M640.0,422.4 L648.1,429.3 L656.0,422.4 L647.9,416.0Z" fill="#36f12b"/><path d="M656.0,422.4 L664.1,429.2 L671.9,422.8 L663.8,416.5Z" fill="#36f12b"/><path d="M703.8,424.5 L712.2,431.0 L719.7,425.9 L711.3,419.9Z" fill="#2ef12b"/><path d="M719.7,425.9 L728.2,432.2 L735.6,427.6 L727.1,421.7Z" fill="#28f12a"/><path d="M608.1,423.4 L616.0,430.5 L624.0,422.7 L616.1,416.0Z" fill="#30f12b"/><path d="M687.9,423.5 L696.2,430.0 L703.8,424.5 L695.5,418.4Z" fill="#33f12b"/><path d="M544.4,429.3 L552.0,437.0 L560.3,427.3 L552.7,420.1Z" fill="#1df035"/><path d="M592.1,424.4 L599.9,431.7 L608.1,423.4 L600.3,416.6Z" fill="#2bf12a"/><path d="M671.9,422.8 L680.2,429.5 L687.9,423.5 L679.6,417.3Z" fill="#35f12b"/><path d="M712.2,431.0 L720.7,437.8 L728.2,432.2 L719.7,425.9Z" fill="#1ef02e"/><path d="M536.0,439.4 L543.6,447.6 L552.0,437.0 L544.4,429.3Z" fill="#1bf057"/><path d="M552.0,437.0 L559.6,445.0 L567.9,434.9 L560.3,427.3Z" fill="#1cf04c"/><path d="M567.9,434.9 L575.7,442.8 L583.9,433.1 L576.2,425.7Z" fill="#1cf043"/><path d="M583.9,433.1 L591.7,440.9 L599.9,431.7 L592.1,424.4Z" fill="#1df03b"/><path d="M616.0,430.5 L624.0,438.1 L632.0,429.8 L624.0,422.7Z" fill="#1ef02f"/><path d="M632.0,429.8 L640.1,437.2 L648.1,429.3 L640.0,422.4Z" fill="#1ef02c"/><path d="M648.1,429.3 L656.2,436.6 L664.1,429.2 L656.0,422.4Z" fill="#1ff02a"/><path d="M664.1,429.2 L672.4,436.4 L680.2,429.5 L671.9,422.8Z" fill="#20f02a"/><path d="M680.2,429.5 L688.5,436.5 L696.2,430.0 L687.9,423.5Z" fill="#1ff02a"/><path d="M696.2,430.0 L704.6,437.0 L712.2,431.0 L703.8,424.5Z" fill="#1ef02b"/><path d="M599.9,431.7 L607.8,439.3 L616.0,430.5 L608.1,423.4Z" fill="#1df034"/><path d="M543.6,447.6 L551.2,456.1 L559.6,445.0 L552.0,437.0Z" fill="#1af070"/><path d="M640.1,437.2 L648.2,445.0 L656.2,436.6 L648.1,429.3Z" fill="#1df042"/><path d="M591.7,440.9 L599.6,449.0 L607.8,439.3 L599.9,431.7Z" fill="#1cf053"/><path d="M624.0,438.1 L632.0,446.0 L640.1,437.2 L632.0,429.8Z" fill="#1cf046"/><path d="M704.6,437.0 L713.1,444.3 L720.7,437.8 L712.2,431.0Z" fill="#1df03f"/><path d="M559.6,445.0 L567.3,453.4 L575.7,442.8 L567.9,434.9Z" fill="#1af065"/><path d="M575.7,442.8 L583.5,451.1 L591.7,440.9 L583.9,433.1Z" fill="#1bf05b"/><path d="M607.8,439.3 L615.8,447.3 L624.0,438.1 L616.0,430.5Z" fill="#1cf04c"/><path d="M656.2,436.6 L664.5,444.3 L672.4,436.4 L664.1,429.2Z" fill="#1df03f"/><path d="M672.4,436.4 L680.7,443.9 L688.5,436.5 L680.2,429.5Z" fill="#1df03d"/><path d="M688.5,436.5 L696.9,443.9 L704.6,437.0 L696.2,430.0Z" fill="#1df03d"/><path d="M551.2,456.1 L559.0,465.1 L567.3,453.4 L559.6,445.0Z" fill="#15c87d"/><path d="M583.5,451.1 L591.4,459.7 L599.6,449.0 L591.7,440.9Z" fill="#1af074"/><path d="M599.6,449.0 L607.6,457.6 L615.8,447.3 L607.8,439.3Z" fill="#1af06b"/><path d="M615.8,447.3 L623.9,455.7 L632.0,446.0 L624.0,438.1Z" fill="#1bf064"/><path d="M632.0,446.0 L640.2,454.3 L648.2,445.0 L640.1,437.2Z" fill="#1bf05e"/><path d="M648.2,445.0 L656.5,453.1 L664.5,444.3 L656.2,436.6Z" fill="#1bf059"/><path d="M664.5,444.3 L672.8,452.3 L680.7,443.9 L672.4,436.4Z" fill="#1bf055"/><path d="M680.7,443.9 L689.1,451.8 L696.9,443.9 L688.5,436.5Z" fill="#1cf053"/><path d="M696.9,443.9 L705.4,451.7 L713.1,444.3 L704.6,437.0Z" fill="#1cf053"/><path d="M567.3,453.4 L575.1,462.2 L583.5,451.1 L575.7,442.8Z" fill="#18eb7d"/><path d="M559.0,465.1 L566.8,474.3 L575.1,462.2 L567.3,453.4Z" fill="#0d797e"/><path d="M575.1,462.2 L583.0,471.4 L591.4,459.7 L583.5,451.1Z" fill="#109c7e"/><path d="M591.4,459.7 L599.3,468.8 L607.6,457.6 L599.6,449.0Z" fill="#14bc7e"/><path d="M607.6,457.6 L615.7,466.5 L623.9,455.7 L615.8,447.3Z" fill="#16d87d"/><path d="M623.9,455.7 L632.0,464.5 L640.2,454.3 L632.0,446.0Z" fill="#19ef7d"/><path d="M640.2,454.3 L648.4,462.9 L656.5,453.1 L648.2,445.0Z" fill="#19f077"/><path d="M656.5,453.1 L664.8,461.6 L672.8,452.3 L664.5,444.3Z" fill="#1af071"/><path d="M672.8,452.3 L681.2,460.7 L689.1,451.8 L680.7,443.9Z" fill="#1af06d"/><path d="M689.1,451.8 L697.6,460.1 L705.4,451.7 L696.9,443.9Z" fill="#1af06b"/><path d="M615.7,466.5 L623.8,475.7 L632.0,464.5 L623.9,455.7Z" fill="#0e897e"/><path d="M664.8,461.6 L673.2,470.5 L681.2,460.7 L672.8,452.3Z" fill="#15c87e"/><path d="M681.2,460.7 L689.7,469.5 L697.6,460.1 L689.1,451.8Z" fill="#16d57d"/><path d="M566.8,474.3 L574.6,484.0 L583.0,471.4 L575.1,462.2Z" fill="#042680"/><path d="M583.0,471.4 L591.0,480.9 L599.3,468.8 L591.4,459.7Z" fill="#084b7f"/><path d="M599.3,468.8 L607.4,478.2 L615.7,466.5 L607.6,457.6Z" fill="#0b6c7f"/><path d="M632.0,464.5 L640.2,473.7 L648.4,462.9 L640.2,454.3Z" fill="#11a27e"/><path d="M648.4,462.9 L656.7,471.9 L664.8,461.6 L656.5,453.1Z" fill="#13b77e"/><path d="M574.6,484.0 L582.6,494.0 L591.0,480.9 L583.0,471.4Z" fill="#000080"/><path d="M607.4,478.2 L615.5,487.9 L623.8,475.7 L615.7,466.5Z" fill="#031880"/><path d="M623.8,475.7 L632.0,485.4 L640.2,473.7 L632.0,464.5Z" fill="#06377f"/><path d="M656.7,471.9 L665.1,481.3 L673.2,470.5 L664.8,461.6Z" fill="#0b687f"/><path d="M673.2,470.5 L681.7,479.8 L689.7,469.5 L681.2,460.7Z" fill="#0d7a7e"/><path d="M591.0,480.9 L599.0,490.8 L607.4,478.2 L599.3,468.8Z" fill="#000080"/><path d="M640.2,473.7 L648.5,483.2 L656.7,471.9 L648.4,462.9Z" fill="#08527f"/><path d="M582.6,494.0 L590.7,504.5 L599.0,490.8 L591.0,480.9Z" fill="#000080"/><path d="M632.0,485.4 L640.3,495.4 L648.5,483.2 L640.2,473.7Z" fill="#000080"/><path d="M665.1,481.3 L673.6,491.1 L681.7,479.8 L673.2,470.5Z" fill="#021580"/><path d="M599.0,490.8 L607.2,501.1 L615.5,487.9 L607.4,478.2Z" fill="#000080"/><path d="M615.5,487.9 L623.7,498.1 L632.0,485.4 L623.8,475.7Z" fill="#000080"/><path d="M648.5,483.2 L656.9,493.1 L665.1,481.3 L656.7,471.9Z" fill="#000080"/><path d="M590.7,504.5 L598.8,515.3 L607.2,501.1 L599.0,490.8Z" fill="#000080"/><path d="M623.7,498.1 L632.0,508.7 L640.3,495.4 L632.0,485.4Z" fill="#000080"/><path d="M640.3,495.4 L648.7,505.9 L656.9,493.1 L648.5,483.2Z" fill="#000080"/><path d="M656.9,493.1 L665.4,503.4 L673.6,491.1 L665.1,481.3Z" fill="#000080"/><path d="M607.2,501.1 L615.4,511.8 L623.7,498.1 L615.5,487.9Z" fill="#000080"/><path d="M598.8,515.3 L607.0,526.5 L615.4,511.8 L607.2,501.1Z" fill="#000080"/><path d="M615.4,511.8 L623.7,522.9 L632.0,508.7 L623.7,498.1Z" fill="#000080"/><path d="M632.0,508.7 L640.4,519.6 L648.7,505.9 L640.3,495.4Z" fill="#000080"/><path d="M648.7,505.9 L657.1,516.7 L665.4,503.4 L656.9,493.1Z" fill="#000080"/><path d="M607.0,526.5 L615.2,538.0 L623.7,522.9 L615.4,511.8Z" fill="#000080"/><path d="M623.7,522.9 L632.0,534.3 L640.4,519.6 L632.0,508.7Z" fill="#000080"/><path d="M640.4,519.6 L648.8,530.9 L657.1,516.7 L648.7,505.9Z" fill="#000080"/><path d="M615.2,538.0 L623.6,550.0 L632.0,534.3 L623.7,522.9Z" fill="#000080"/><path d="M632.0,534.3 L640.4,546.2 L648.8,530.9 L640.4,519.6Z" fill="#000080"/><path d="M623.6,550.0 L632.0,562.4 L640.4,546.2 L632.0,534.3Z" fill="#000080"/></g>
<circle cx="477.8" cy="369.8" r="1.3" fill="#111"/>
<text x="472.0" y="367.8" font-size="10" text-anchor="end" font-family="Liberation Sans, sans-serif" fill="#111">100</text>
<circle cx="478.8" cy="391.2" r="1.3" fill="#111"/>
<text x="473.0" y="389.2" font-size="10" text-anchor="end" font-family="Liberation Sans, sans-serif" fill="#111">90</text>
<circle cx="479.9" cy="412.6" r="1.3" fill="#111"/>
<text x="474.1" y="410.6" font-size="10" text-anchor="end" font-family="Liberation Sans, sans-serif" fill="#111">80</text>
<circle cx="480.9" cy="434.0" r="1.3" fill="#111"/>
<text x="475.1" y="432.0" font-size="10" text-anchor="end" font-family="Liberation Sans, sans-serif" fill="#111">70</text>
<circle cx="482.0" cy="455.3" r="1.3" fill="#111"/>
<text x="476.2" y="453.3" font-size="10" text-anchor="end" font-family="Liberation Sans, sans-serif" fill="#111">60</text>
<circle cx="483.0" cy="476.7" r="1.3" fill="#111"/>
<text x="477.2" y="474.7" font-size="10" text-anchor="end" font-family="Liberation Sans, sans-serif" fill="#111">50</text>
<circle cx="484.1" cy="498.1" r="1.3" fill="#111"/>
<text x="478.3" y="496.1" font-size="10" text-anchor="end" font-family="Liberation Sans, sans-serif" fill="#111">40</text>
<circle cx="485.1" cy="519.5" r="1.3" fill="#111"/>
<text x="479.3" y="517.5" font-size="10" text-anchor="end" font-family="Liberation Sans, sans-serif" fill="#111">30</text>
<circle cx="487.4" cy="566.1" r="1.3" fill="#111"/>
<text x="481.9" y="573.2" font-size="10" text-anchor="end" font-family="Liberation Sans, sans-serif" fill="#111">1</text>
<circle cx="523.5" cy="583.3" r="1.3" fill="#111"/>
<text x="516.5" y="593.2" font-size="10" text-anchor="end" font-family="Liberation Sans, sans-serif" fill="#111">0.5</text>
<circle cx="559.6" cy="600.5" r="1.3" fill="#111"/>
<text x="553.1" y="609.9" font-size="10" text-anchor="end" font-family="Liberation Sans, sans-serif" fill="#111">0</text>
<circle cx="595.8" cy="617.6" r="1.3" fill="#111"/>
<text x="589.8" y="627.5" font-size="10" text-anchor="end" font-family="Liberation Sans, sans-serif" fill="#111">-0.5</text>
<circle cx="631.9" cy="634.8" r="1.3" fill="#111"/>
<text x="627.2" y="644.2" font-size="10" text-anchor="end" font-family="Liberation Sans, sans-serif" fill="#111">-1</text>
<circle cx="631.9" cy="634.8" r="1.3" fill="#111"/>
<text x="636.4" y="644.2" font-size="10" text-anchor="start" font-family="Liberation Sans, sans-serif" fill="#111">-1</text>
<circle cx="668.0" cy="617.6" r="1.3" fill="#111"/>
<text x="674.0" y="626.5" font-size="10" text-anchor="start" font-family="Liberation Sans, sans-serif" fill="#111">-0.5</text>
<circle cx="704.1" cy="600.4" r="1.3" fill="#111"/>
<text x="710.6" y="609.3" font-size="10" text-anchor="start" font-family="Liberation Sans, sans-serif" fill="#111">0</text>
<circle cx="740.3" cy="583.2" r="1.3" fill="#111"/>
<text x="746.3" y="591.6" font-size="10" text-anchor="start" font-family="Liberation Sans, sans-serif" fill="#111">0.5</text>
<circle cx="776.4" cy="566.0" r="1.3" fill="#111"/>
<text x="782.4" y="571.9" font-size="10" text-anchor="start" font-family="Liberation Sans, sans-serif" fill="#111">1</text>
<text transform="translate(437,471.7) rotate(-90) scale(0.92,1)" font-size="14.8" text-anchor="middle" font-family="Liberation Sans, sans-serif" fill="#111">%R-SMX</text>
<text x="502.5" y="632.5" font-size="13.5" text-anchor="middle" font-family="Liberation Sans, sans-serif" fill="#111">C</text>
<text x="760" y="634" font-size="13.5" text-anchor="middle" font-family="Liberation Sans, sans-serif" fill="#111">A</text>
<path d="M491.1,896.1 L634.3,845.0" stroke="#2a2a2a" stroke-width="0.9" fill="none"/>
<path d="M634.3,845.0 L776.4,896.0" stroke="#2a2a2a" stroke-width="0.9" fill="none"/>
<path d="M634.3,845.0 L634.3,670.3" stroke="#2a2a2a" stroke-width="0.9" fill="none"/>
<path d="M482.1,702.9 L634.3,670.3" stroke="#2a2a2a" stroke-width="0.9" fill="none"/>
<path d="M634.3,670.3 L786.9,703.9" stroke="#2a2a2a" stroke-width="0.9" fill="none"/>
<path d="M491.1,896.1 L633.9,963.0" stroke="#1a1a1a" stroke-width="1.0" fill="none"/>
<path d="M633.9,963.0 L776.4,896.0" stroke="#1a1a1a" stroke-width="1.0" fill="none"/>
<path d="M491.1,896.1 L482.1,702.9" stroke="#1a1a1a" stroke-width="1.0" fill="none"/>
<path d="M776.4,896.0 L786.9,703.9" stroke="#1a1a1a" stroke-width="1.0" fill="none"/>
<path d="M616.9,955.1 L618.1,955.3 L620.4,955.8 L622.5,956.2 L622.6,956.2 L624.9,956.6 L627.2,957.1 L627.8,957.2 L629.5,957.5 L631.9,957.9 L633.0,958.1 L634.2,958.3 L636.6,958.7 L638.1,958.9 L639.0,959.1 L641.4,959.5" fill="none" stroke="#4040b0" stroke-width="0.9"/>
<path d="M666.3,947.9 L664.3,947.7 L663.8,947.6 L661.3,947.3 L659.8,947.1 L658.9,946.9 L656.5,946.6 L655.1,946.4 L654.1,946.2 L651.7,945.9 L650.3,945.7 L649.4,945.5 L647.0,945.1 L645.4,944.8 L644.7,944.7 L642.5,944.3 L640.2,943.9 L640.2,943.9 L637.9,943.5 L635.7,943.1 L634.9,943.0 L633.5,942.7 L631.4,942.3 L629.3,941.8 L629.2,941.8 L627.1,941.4 L624.9,940.9 L623.4,940.6 L622.9,940.5 L620.8,940.0 L618.7,939.5 L617.1,939.1 L616.7,939.1 L614.7,938.6 L612.7,938.1 L610.7,937.6 L610.2,937.5 L608.8,937.1 L606.9,936.6 L604.9,936.0 L603.1,935.5 L602.7,935.4 L601.2,935.0 L599.3,934.5 L597.5,933.9 L595.7,933.4 L593.9,932.8 L593.9,932.8 L592.2,932.3 L590.4,931.7 L588.7,931.1 L587.0,930.6 L585.3,930.0 L583.7,929.4 L582.1,928.8 L582.0,928.8 L580.4,928.2 L578.8,927.6 L577.2,927.0 L575.7,926.4 L574.2,925.7 L572.6,925.1 L571.2,924.5 L569.7,923.8 L568.3,923.2 L566.8,922.5 L565.4,921.9 L564.1,921.2 L562.7,920.5 L561.4,919.9 L560.1,919.2 L558.8,918.5 L557.6,917.8 L556.3,917.1 L555.8,916.8 L555.1,916.4 L554.0,915.6 L552.8,914.9 L551.7,914.2 L550.6,913.5 L549.5,912.7 L548.9,912.2 L548.5,912.0 L547.5,911.2 L546.5,910.4 L545.5,909.6 L544.8,909.0 L544.6,908.9 L543.7,908.1 L542.9,907.3 L542.0,906.5 L542.0,906.4 L541.2,905.6 L540.5,904.8 L539.9,904.2 L539.8,904.0 L539.1,903.1 L538.4,902.3 L538.4,902.2 L537.8,901.4 L537.3,900.5 L537.2,900.3 L536.8,899.6 L536.3,898.7 L536.3,898.6 L535.9,897.8 L535.6,897.0 L535.5,896.8 L535.2,895.9 L535.1,895.5 L534.9,894.9 L534.8,894.1 L534.7,893.9 L534.6,892.9 L534.6,892.8 L534.5,891.8 L534.5,891.5 L534.6,890.8 L534.6,890.2 L534.7,889.7 L534.8,889.1 L534.8,888.6 L535.0,887.9 L535.1,887.5 L535.3,886.9 L535.5,886.3 L535.7,885.8 L536.1,885.0 L536.2,884.8 L536.7,883.8 L536.8,883.8 L537.3,882.9 L537.6,882.4 L538.0,881.9 L538.7,881.1 L538.7,881.0 L539.5,880.2 L540.1,879.5 L540.2,879.3 L541.1,878.5 L541.8,877.9" fill="none" stroke="#3fe890" stroke-width="0.9"/>
<path d="M594.5,858.8 L594.9,858.7 L596.7,858.4 L598.6,858.2 L599.1,858.1 L600.5,857.9 L602.4,857.6 L603.4,857.5 L604.4,857.3 L606.4,857.1 L607.4,857.0 L608.4,856.9 L610.4,856.6 L611.2,856.5 L612.4,856.4 L614.5,856.2 L614.9,856.2 L616.6,856.0 L618.4,855.8 L618.7,855.8 L620.8,855.6 L621.7,855.6 L623.0,855.5 L625.0,855.3 L625.2,855.3 L627.4,855.2 L628.2,855.1 L629.7,855.0 L631.3,854.9 L631.9,854.9 L634.2,854.8 L634.3,854.8 L636.5,854.7 L637.3,854.6 L638.9,854.6 L640.2,854.5 L641.3,854.5 L643.0,854.5 L643.7,854.4 L645.8,854.4 L646.2,854.4 L648.6,854.3 L648.6,854.3 L651.1,854.3 L651.3,854.3 L653.7,854.3 L654.0,854.3 L656.3,854.3 L656.6,854.3 L658.9,854.3 L659.2,854.3 L661.6,854.3" fill="none" stroke="#3fe890" stroke-width="0.9"/>
<path d="M700.6,932.0 L699.4,932.0 L697.8,931.9 L695.9,931.8 L695.1,931.7 L692.4,931.5 L692.2,931.5 L689.7,931.3 L688.5,931.2 L687.1,931.1 L684.6,930.9 L684.6,930.9 L682.0,930.6 L680.6,930.5 L679.5,930.4 L677.1,930.1 L676.5,930.0 L674.6,929.8 L672.2,929.5 L672.1,929.5 L669.9,929.2 L667.6,928.9 L667.6,928.9 L665.3,928.5 L663.0,928.2 L662.9,928.2 L660.7,927.8 L658.5,927.4 L657.9,927.3 L656.3,927.1 L654.2,926.7 L652.6,926.4 L652.1,926.3 L650.0,925.8 L647.9,925.4 L646.9,925.2 L645.9,925.0 L643.9,924.5 L641.9,924.1 L640.5,923.7 L639.9,923.6 L638.0,923.1 L636.1,922.6 L634.2,922.1 L633.0,921.8 L632.4,921.6 L630.6,921.1 L628.8,920.6 L627.0,920.1 L625.3,919.5 L623.6,919.0 L623.2,918.9 L621.9,918.4 L620.2,917.9 L618.6,917.3 L617.0,916.7 L615.5,916.1 L614.0,915.5 L612.5,914.9 L611.0,914.3 L609.5,913.6 L608.1,913.0 L606.8,912.3 L605.4,911.7 L604.1,911.0 L602.8,910.3 L601.6,909.6 L601.1,909.3 L600.4,908.9 L599.2,908.2 L598.1,907.4 L597.0,906.7 L596.0,905.9 L595.6,905.7 L595.0,905.2 L594.0,904.4 L593.1,903.6 L592.6,903.1 L592.3,902.8 L591.5,901.9 L590.7,901.1 L590.6,901.0 L590.0,900.2 L589.3,899.3 L589.2,899.2 L588.8,898.4 L588.3,897.5 L588.3,897.5 L587.9,896.5 L587.7,896.1 L587.5,895.5 L587.3,894.7 L587.3,894.5 L587.1,893.5 L587.1,893.4 L587.1,892.4 L587.1,892.2 L587.2,891.2 L587.2,891.1 L587.5,890.0 L587.5,890.0 L587.9,889.0 L588.0,888.8 L588.4,888.0 L588.7,887.4 L588.9,887.0 L589.6,886.2 L589.8,885.9 L590.3,885.3 L591.1,884.5 L591.4,884.2 L592.0,883.7 L592.9,882.9 L593.9,882.2 L593.9,882.2 L595.0,881.5 L596.1,880.8 L597.2,880.1 L598.4,879.5 L599.1,879.1 L599.7,878.9 L600.9,878.3 L602.3,877.7 L603.7,877.2 L605.1,876.6 L606.5,876.1 L608.0,875.6 L609.5,875.1 L610.1,875.0 L611.1,874.7 L612.7,874.2 L614.3,873.8 L616.0,873.4 L617.7,873.0 L618.4,872.8 L619.5,872.6 L621.3,872.2 L623.1,871.9 L624.1,871.7 L624.9,871.5 L626.8,871.2 L628.8,870.9 L628.9,870.9 L630.7,870.6 L632.7,870.4 L633.1,870.3 L634.8,870.1 L636.8,869.9 L637.0,869.9 L639.0,869.7 L640.7,869.5 L641.1,869.4 L643.3,869.3 L644.2,869.2 L645.5,869.1 L647.5,868.9 L647.8,868.9 L650.1,868.8 L650.7,868.7 L652.5,868.7 L653.8,868.6 L654.9,868.5 L656.8,868.5 L657.4,868.5 L659.7,868.4 L659.9,868.4 L662.4,868.3 L662.5,868.3 L665.0,868.3 L665.3,868.3 L667.7,868.3 L668.0,868.3 L670.5,868.3 L670.6,868.3 L673.2,868.4 L673.2,868.4 L675.8,868.4 L676.1,868.4 L678.3,868.5 L679.1,868.5 L680.8,868.6 L682.1,868.6 L683.2,868.7 L685.2,868.8 L685.6,868.8 L687.9,869.0 L688.4,869.0 L690.3,869.1 L691.6,869.2 L692.6,869.3 L694.8,869.4 L695.0,869.5 L697.1,869.6 L698.6,869.8 L699.3,869.8 L701.5,870.0 L702.2,870.1 L703.6,870.3 L705.8,870.5 L706.0,870.5" fill="none" stroke="#4be04b" stroke-width="0.9"/>
<g stroke="#000" stroke-width="1" stroke-linejoin="round"><path d="M627.7,748.5 L634.3,743.2 L640.9,747.5 L634.3,752.9Z" fill="#11a47e"/><path d="M634.3,743.2 L641.0,738.2 L647.6,742.4 L640.9,747.5Z" fill="#19f076"/><path d="M621.0,744.7 L627.6,739.5 L634.3,743.2 L627.7,748.5Z" fill="#19f07d"/><path d="M614.2,741.6 L620.8,736.5 L627.6,739.5 L621.0,744.7Z" fill="#1bf063"/><path d="M627.6,739.5 L634.3,734.6 L641.0,738.2 L634.3,743.2Z" fill="#1bf05a"/><path d="M641.0,738.2 L647.8,733.7 L654.4,737.8 L647.6,742.4Z" fill="#1bf055"/><path d="M607.3,739.1 L613.9,734.1 L620.8,736.5 L614.2,741.6Z" fill="#1cf04d"/><path d="M620.8,736.5 L627.5,731.7 L634.3,734.6 L627.6,739.5Z" fill="#1df041"/><path d="M634.3,734.6 L641.1,730.2 L647.8,733.7 L641.0,738.2Z" fill="#1df039"/><path d="M647.8,733.7 L654.7,729.5 L661.3,733.5 L654.4,737.8Z" fill="#1df035"/><path d="M613.9,734.1 L620.5,729.5 L627.5,731.7 L620.8,736.5Z" fill="#1ef02c"/><path d="M600.3,737.3 L606.9,732.4 L613.9,734.1 L607.3,739.1Z" fill="#1df03b"/><path d="M627.5,731.7 L634.3,727.4 L641.1,730.2 L634.3,734.6Z" fill="#27f02a"/><path d="M641.1,730.2 L648.0,726.2 L654.7,729.5 L647.8,733.7Z" fill="#2df12a"/><path d="M654.7,729.5 L661.7,725.8 L668.3,729.7 L661.3,733.5Z" fill="#2ff12b"/><path d="M606.9,732.4 L613.5,727.9 L620.5,729.5 L613.9,734.1Z" fill="#2df12a"/><path d="M620.5,729.5 L627.3,725.2 L634.3,727.4 L627.5,731.7Z" fill="#3af22b"/><path d="M648.0,726.2 L655.0,722.5 L661.7,725.8 L654.7,729.5Z" fill="#48f22b"/><path d="M593.2,736.2 L599.8,731.4 L606.9,732.4 L600.3,737.3Z" fill="#1ef02c"/><path d="M634.3,727.4 L641.2,723.5 L648.0,726.2 L641.1,730.2Z" fill="#43f22b"/><path d="M661.7,725.8 L668.8,722.5 L675.4,726.3 L668.3,729.7Z" fill="#48f22b"/><path d="M599.8,731.4 L606.4,727.0 L613.5,727.9 L606.9,732.4Z" fill="#3bf22b"/><path d="M641.2,723.5 L648.2,720.0 L655.0,722.5 L648.0,726.2Z" fill="#5df32c"/><path d="M586.0,735.7 L592.6,731.1 L599.8,731.4 L593.2,736.2Z" fill="#26f02a"/><path d="M613.5,727.9 L620.3,723.8 L627.3,725.2 L620.5,729.5Z" fill="#4af22b"/><path d="M627.3,725.2 L634.2,721.4 L641.2,723.5 L634.3,727.4Z" fill="#56f32c"/><path d="M655.0,722.5 L662.1,719.3 L668.8,722.5 L661.7,725.8Z" fill="#60f42c"/><path d="M668.8,722.5 L676.1,719.6 L682.7,723.3 L675.4,726.3Z" fill="#5ff32c"/><path d="M578.8,736.0 L585.3,731.5 L592.6,731.1 L586.0,735.7Z" fill="#2ef12a"/><path d="M592.6,731.1 L599.2,726.8 L606.4,727.0 L599.8,731.4Z" fill="#44f22b"/><path d="M606.4,727.0 L613.2,723.0 L620.3,723.8 L613.5,727.9Z" fill="#57f32c"/><path d="M634.2,721.4 L641.2,718.1 L648.2,720.0 L641.2,723.5Z" fill="#6ff42d"/><path d="M648.2,720.0 L655.3,716.9 L662.1,719.3 L655.0,722.5Z" fill="#75f52d"/><path d="M620.3,723.8 L627.2,720.1 L634.2,721.4 L627.3,725.2Z" fill="#65f42c"/><path d="M662.1,719.3 L669.3,716.6 L676.1,719.6 L668.8,722.5Z" fill="#76f52d"/><path d="M676.1,719.6 L683.4,717.2 L690.0,720.7 L682.7,723.3Z" fill="#74f52d"/><path d="M571.4,737.0 L578.0,732.6 L585.3,731.5 L578.8,736.0Z" fill="#31f12b"/><path d="M585.3,731.5 L592.0,727.4 L599.2,726.8 L592.6,731.1Z" fill="#4bf22b"/><path d="M599.2,726.8 L606.0,723.0 L613.2,723.0 L606.4,727.0Z" fill="#60f42c"/><path d="M613.2,723.0 L620.1,719.5 L627.2,720.1 L620.3,723.8Z" fill="#71f42d"/><path d="M627.2,720.1 L634.2,716.9 L641.2,718.1 L634.2,721.4Z" fill="#7df12c"/><path d="M641.2,718.1 L648.4,715.1 L655.3,716.9 L648.2,720.0Z" fill="#81dc29"/><path d="M655.3,716.9 L662.5,714.3 L669.3,716.6 L662.1,719.3Z" fill="#83d127"/><path d="M669.3,716.6 L676.7,714.3 L683.4,717.2 L676.1,719.6Z" fill="#83d127"/><path d="M683.4,717.2 L690.8,715.2 L697.4,718.6 L690.0,720.7Z" fill="#81dc29"/><path d="M578.0,732.6 L584.6,728.7 L592.0,727.4 L585.3,731.5Z" fill="#4df32c"/><path d="M564.0,738.7 L570.5,734.5 L578.0,732.6 L571.4,737.0Z" fill="#31f12b"/><path d="M592.0,727.4 L598.7,723.7 L606.0,723.0 L599.2,726.8Z" fill="#65f42c"/><path d="M606.0,723.0 L612.9,719.6 L620.1,719.5 L613.2,723.0Z" fill="#79f52d"/><path d="M620.1,719.5 L627.1,716.4 L634.2,716.9 L627.2,720.1Z" fill="#82d628"/><path d="M634.2,716.9 L641.3,714.1 L648.4,715.1 L641.2,718.1Z" fill="#88ba23"/><path d="M648.4,715.1 L655.6,712.7 L662.5,714.3 L655.3,716.9Z" fill="#8ba821"/><path d="M662.5,714.3 L669.8,712.1 L676.7,714.3 L669.3,716.6Z" fill="#8ca220"/><path d="M676.7,714.3 L684.1,712.5 L690.8,715.2 L683.4,717.2Z" fill="#8ca620"/><path d="M690.8,715.2 L698.3,713.7 L704.9,717.0 L697.4,718.6Z" fill="#89b523"/><path d="M570.5,734.5 L577.2,730.7 L584.6,728.7 L578.0,732.6Z" fill="#4df22b"/><path d="M584.6,728.7 L591.3,725.2 L598.7,723.7 L592.0,727.4Z" fill="#67f42c"/><path d="M612.9,719.6 L619.9,716.7 L627.1,716.4 L620.1,719.5Z" fill="#86c325"/><path d="M655.6,712.7 L662.9,710.7 L669.8,712.1 L662.5,714.3Z" fill="#917918"/><path d="M669.8,712.1 L677.3,710.4 L684.1,712.5 L676.7,714.3Z" fill="#917518"/><path d="M684.1,712.5 L691.6,711.1 L698.3,713.7 L690.8,715.2Z" fill="#927f1a"/><path d="M598.7,723.7 L605.6,720.5 L612.9,719.6 L606.0,723.0Z" fill="#7df12c"/><path d="M627.1,716.4 L634.2,713.8 L641.3,714.1 L634.2,716.9Z" fill="#8da11f"/><path d="M698.3,713.7 L705.9,712.7 L712.5,715.8 L704.9,717.0Z" fill="#8f931d"/><path d="M556.6,741.2 L563.0,737.1 L570.5,734.5 L564.0,738.7Z" fill="#2ef12a"/><path d="M641.3,714.1 L648.5,711.8 L655.6,712.7 L648.4,715.1Z" fill="#92881b"/><path d="M605.6,720.5 L612.6,717.7 L619.9,716.7 L612.9,719.6Z" fill="#88ba23"/><path d="M549.0,744.4 L555.5,740.6 L563.0,737.1 L556.6,741.2Z" fill="#27f02a"/><path d="M563.0,737.1 L569.6,733.5 L577.2,730.7 L570.5,734.5Z" fill="#48f22b"/><path d="M577.2,730.7 L583.9,727.4 L591.3,725.2 L584.6,728.7Z" fill="#66f42c"/><path d="M591.3,725.2 L598.2,722.1 L605.6,720.5 L598.7,723.7Z" fill="#7dee2c"/><path d="M619.9,716.7 L627.0,714.2 L634.2,713.8 L627.1,716.4Z" fill="#90901d"/><path d="M634.2,713.8 L641.4,711.6 L648.5,711.8 L641.3,714.1Z" fill="#916d16"/><path d="M648.5,711.8 L655.9,709.9 L662.9,710.7 L655.6,712.7Z" fill="#8f5511"/><path d="M662.9,710.7 L670.3,709.1 L677.3,710.4 L669.8,712.1Z" fill="#8f490f"/><path d="M677.3,710.4 L684.8,709.3 L691.6,711.1 L684.1,712.5Z" fill="#8f4b0f"/><path d="M691.6,711.1 L699.2,710.3 L705.9,712.7 L698.3,713.7Z" fill="#905912"/><path d="M705.9,712.7 L713.6,712.2 L720.2,715.2 L712.5,715.8Z" fill="#917417"/><path d="M555.5,740.6 L562.0,737.1 L569.6,733.5 L563.0,737.1Z" fill="#40f22b"/><path d="M598.2,722.1 L605.2,719.5 L612.6,717.7 L605.6,720.5Z" fill="#88b923"/><path d="M670.3,709.1 L677.8,708.1 L684.8,709.3 L677.3,710.4Z" fill="#8d2107"/><path d="M612.6,717.7 L619.6,715.4 L627.0,714.2 L619.9,716.7Z" fill="#91891b"/><path d="M684.8,709.3 L692.4,708.5 L699.2,710.3 L691.6,711.1Z" fill="#8d2708"/><path d="M541.4,748.4 L547.8,744.7 L555.5,740.6 L549.0,744.4Z" fill="#1ef02c"/><path d="M569.6,733.5 L576.3,730.4 L583.9,727.4 L577.2,730.7Z" fill="#60f42c"/><path d="M583.9,727.4 L590.7,724.5 L598.2,722.1 L591.3,725.2Z" fill="#7cf52d"/><path d="M627.0,714.2 L634.2,712.3 L641.4,711.6 L634.2,713.8Z" fill="#905c13"/><path d="M641.4,711.6 L648.7,710.0 L655.9,709.9 L648.5,711.8Z" fill="#8e3b0c"/><path d="M655.9,709.9 L663.3,708.6 L670.3,709.1 L662.9,710.7Z" fill="#8d2808"/><path d="M699.2,710.3 L706.9,709.9 L713.6,712.2 L705.9,712.7Z" fill="#8e3a0c"/><path d="M713.6,712.2 L721.4,712.2 L728.0,715.0 L720.2,715.2Z" fill="#905a12"/><path d="M533.7,753.2 L540.1,749.7 L547.8,744.7 L541.4,748.4Z" fill="#1df03b"/><path d="M547.8,744.7 L554.4,741.5 L562.0,737.1 L555.5,740.6Z" fill="#35f12b"/><path d="M562.0,737.1 L568.7,734.2 L576.3,730.4 L569.6,733.5Z" fill="#58f32c"/><path d="M590.7,724.5 L597.7,722.1 L605.2,719.5 L598.2,722.1Z" fill="#86c225"/><path d="M605.2,719.5 L612.2,717.4 L619.6,715.4 L612.6,717.7Z" fill="#918a1c"/><path d="M619.6,715.4 L626.8,713.6 L634.2,712.3 L627.0,714.2Z" fill="#8f5611"/><path d="M634.2,712.3 L641.5,710.7 L648.7,710.0 L641.4,711.6Z" fill="#8d2d09"/><path d="M648.7,710.0 L656.1,708.8 L663.3,708.6 L655.9,709.9Z" fill="#8c1103"/><path d="M663.3,708.6 L670.8,707.7 L677.8,708.1 L670.3,709.1Z" fill="#8b0200"/><path d="M677.8,708.1 L685.5,707.6 L692.4,708.5 L684.8,709.3Z" fill="#8b0000"/><path d="M692.4,708.5 L700.1,708.3 L706.9,709.9 L699.2,710.3Z" fill="#8c0b02"/><path d="M706.9,709.9 L714.7,710.0 L721.4,712.2 L713.6,712.2Z" fill="#8d2307"/><path d="M721.4,712.2 L729.3,712.6 L735.9,715.3 L728.0,715.0Z" fill="#8f470e"/><path d="M576.3,730.4 L583.2,727.7 L590.7,724.5 L583.9,727.4Z" fill="#76f52d"/><path d="M540.1,749.7 L546.7,746.7 L554.4,741.5 L547.8,744.7Z" fill="#26f02a"/><path d="M526.0,758.8 L532.4,755.5 L540.1,749.7 L533.7,753.2Z" fill="#1cf04d"/><path d="M554.4,741.5 L561.1,738.7 L568.7,734.2 L562.0,737.1Z" fill="#4bf22b"/><path d="M583.2,727.7 L590.1,725.5 L597.7,722.1 L590.7,724.5Z" fill="#83d327"/><path d="M597.7,722.1 L604.7,720.2 L612.2,717.4 L605.2,719.5Z" fill="#8f951d"/><path d="M612.2,717.4 L619.4,715.8 L626.8,713.6 L619.6,715.4Z" fill="#905a12"/><path d="M626.8,713.6 L634.2,712.3 L641.5,710.7 L634.2,712.3Z" fill="#8d2908"/><path d="M641.5,710.7 L648.9,709.7 L656.1,708.8 L648.7,710.0Z" fill="#8b0501"/><path d="M656.1,708.8 L663.7,708.1 L670.8,707.7 L663.3,708.6Z" fill="#8b0000"/><path d="M670.8,707.7 L678.4,707.3 L685.5,707.6 L677.8,708.1Z" fill="#8b0000"/><path d="M685.5,707.6 L693.2,707.5 L700.1,708.3 L692.4,708.5Z" fill="#8b0000"/><path d="M700.1,708.3 L707.9,708.7 L714.7,710.0 L706.9,709.9Z" fill="#8b0000"/><path d="M714.7,710.0 L722.6,710.7 L729.3,712.6 L721.4,712.2Z" fill="#8c1204"/><path d="M729.3,712.6 L737.3,713.7 L743.8,716.2 L735.9,715.3Z" fill="#8e3c0c"/><path d="M568.7,734.2 L575.5,731.7 L583.2,727.7 L576.3,730.4Z" fill="#6df42d"/><path d="M532.4,755.5 L538.9,752.7 L546.7,746.7 L540.1,749.7Z" fill="#1df035"/><path d="M546.7,746.7 L553.3,744.1 L561.1,738.7 L554.4,741.5Z" fill="#3cf22b"/><path d="M575.5,731.7 L582.5,729.6 L590.1,725.5 L583.2,727.7Z" fill="#7eed2c"/><path d="M619.4,715.8 L626.7,714.6 L634.2,712.3 L626.8,713.6Z" fill="#8e300a"/><path d="M634.2,712.3 L641.6,711.5 L648.9,709.7 L641.5,710.7Z" fill="#8b0401"/><path d="M648.9,709.7 L656.4,709.2 L663.7,708.1 L656.1,708.8Z" fill="#8b0000"/><path d="M663.7,708.1 L671.3,707.9 L678.4,707.3 L670.8,707.7Z" fill="#8b0000"/><path d="M693.2,707.5 L701.0,708.0 L707.9,708.7 L700.1,708.3Z" fill="#8b0000"/><path d="M707.9,708.7 L715.8,709.5 L722.6,710.7 L714.7,710.0Z" fill="#8b0000"/><path d="M722.6,710.7 L730.6,711.9 L737.3,713.7 L729.3,712.6Z" fill="#8b0902"/><path d="M737.3,713.7 L745.4,715.2 L751.9,717.5 L743.8,716.2Z" fill="#8e370b"/><path d="M561.1,738.7 L567.9,736.4 L575.5,731.7 L568.7,734.2Z" fill="#60f32c"/><path d="M590.1,725.5 L597.2,723.7 L604.7,720.2 L597.7,722.1Z" fill="#8ba821"/><path d="M604.7,720.2 L611.9,718.7 L619.4,715.8 L612.2,717.4Z" fill="#906915"/><path d="M518.2,765.1 L524.5,762.1 L532.4,755.5 L526.0,758.8Z" fill="#1bf063"/><path d="M678.4,707.3 L686.2,707.5 L693.2,707.5 L685.5,707.6Z" fill="#8b0000"/><path d="M567.9,736.4 L574.8,734.6 L582.5,729.6 L575.5,731.7Z" fill="#71f42d"/><path d="M626.7,714.6 L634.1,714.0 L641.6,711.5 L634.2,712.3Z" fill="#8c0d03"/><path d="M641.6,711.5 L649.1,711.2 L656.4,709.2 L648.9,709.7Z" fill="#8b0000"/><path d="M510.3,772.3 L516.7,769.5 L524.5,762.1 L518.2,765.1Z" fill="#19f07d"/><path d="M524.5,762.1 L531.0,759.5 L538.9,752.7 L532.4,755.5Z" fill="#1cf04c"/><path d="M538.9,752.7 L545.5,750.3 L553.3,744.1 L546.7,746.7Z" fill="#28f12a"/><path d="M656.4,709.2 L664.0,709.2 L671.3,707.9 L663.7,708.1Z" fill="#8b0000"/><path d="M701.0,708.0 L708.9,709.1 L715.8,709.5 L707.9,708.7Z" fill="#8b0000"/><path d="M715.8,709.5 L723.9,710.9 L730.6,711.9 L722.6,710.7Z" fill="#8b0000"/><path d="M730.6,711.9 L738.7,713.6 L745.4,715.2 L737.3,713.7Z" fill="#8b0701"/><path d="M553.3,744.1 L560.1,742.0 L567.9,736.4 L561.1,738.7Z" fill="#4ff32c"/><path d="M582.5,729.6 L589.5,728.1 L597.2,723.7 L590.1,725.5Z" fill="#86c425"/><path d="M611.9,718.7 L619.2,717.8 L626.7,714.6 L619.4,715.8Z" fill="#8e420d"/><path d="M597.2,723.7 L604.3,722.5 L611.9,718.7 L604.7,720.2Z" fill="#92831a"/><path d="M671.3,707.9 L679.0,708.2 L686.2,707.5 L678.4,707.3Z" fill="#8b0000"/><path d="M686.2,707.5 L694.0,708.2 L701.0,708.0 L693.2,707.5Z" fill="#8b0000"/><path d="M745.4,715.2 L753.5,717.3 L760.0,719.4 L751.9,717.5Z" fill="#8e3a0c"/><path d="M516.7,769.5 L523.1,767.1 L531.0,759.5 L524.5,762.1Z" fill="#1af066"/><path d="M560.1,742.0 L567.0,740.4 L574.8,734.6 L567.9,736.4Z" fill="#60f32c"/><path d="M634.1,714.0 L641.6,713.9 L649.1,711.2 L641.6,711.5Z" fill="#8b0000"/><path d="M649.1,711.2 L656.7,711.4 L664.0,709.2 L656.4,709.2Z" fill="#8b0000"/><path d="M708.9,709.1 L716.9,710.6 L723.9,710.9 L715.8,709.5Z" fill="#8b0000"/><path d="M723.9,710.9 L731.9,712.8 L738.7,713.6 L730.6,711.9Z" fill="#8b0000"/><path d="M574.8,734.6 L581.8,733.3 L589.5,728.1 L582.5,729.6Z" fill="#7ee92b"/><path d="M619.2,717.8 L626.6,717.4 L634.1,714.0 L626.7,714.6Z" fill="#8d2107"/><path d="M502.5,780.3 L508.8,777.7 L516.7,769.5 L510.3,772.3Z" fill="#11a67e"/><path d="M531.0,759.5 L537.6,757.3 L545.5,750.3 L538.9,752.7Z" fill="#1df037"/><path d="M545.5,750.3 L552.3,748.4 L560.1,742.0 L553.3,744.1Z" fill="#3bf22b"/><path d="M589.5,728.1 L596.7,727.1 L604.3,722.5 L597.2,723.7Z" fill="#8ca220"/><path d="M604.3,722.5 L611.6,721.8 L619.2,717.8 L611.9,718.7Z" fill="#905e13"/><path d="M664.0,709.2 L671.8,709.8 L679.0,708.2 L671.3,707.9Z" fill="#8b0000"/><path d="M679.0,708.2 L686.8,709.1 L694.0,708.2 L686.2,707.5Z" fill="#8b0000"/><path d="M694.0,708.2 L701.9,709.4 L708.9,709.1 L701.0,708.0Z" fill="#8b0000"/><path d="M738.7,713.6 L746.9,715.9 L753.5,717.3 L745.4,715.2Z" fill="#8c0d03"/><path d="M753.5,717.3 L761.8,720.0 L768.3,721.9 L760.0,719.4Z" fill="#8f440e"/><path d="M508.8,777.7 L515.2,775.5 L523.1,767.1 L516.7,769.5Z" fill="#17dd7d"/><path d="M523.1,767.1 L529.7,765.2 L537.6,757.3 L531.0,759.5Z" fill="#1cf052"/><path d="M552.3,748.4 L559.1,747.1 L567.0,740.4 L560.1,742.0Z" fill="#4bf22b"/><path d="M641.6,713.9 L649.3,714.3 L656.7,711.4 L649.1,711.2Z" fill="#8b0000"/><path d="M716.9,710.6 L725.1,712.8 L731.9,712.8 L723.9,710.9Z" fill="#8b0000"/><path d="M567.0,740.4 L574.0,739.3 L581.8,733.3 L574.8,734.6Z" fill="#6ef42d"/><path d="M626.6,717.4 L634.1,717.5 L641.6,713.9 L634.1,714.0Z" fill="#8b0802"/><path d="M581.8,733.3 L588.9,732.5 L596.7,727.1 L589.5,728.1Z" fill="#85c926"/><path d="M596.7,727.1 L603.9,726.5 L611.6,721.8 L604.3,722.5Z" fill="#92851b"/><path d="M611.6,721.8 L619.0,721.5 L626.6,717.4 L619.2,717.8Z" fill="#8e400d"/><path d="M656.7,711.4 L664.4,712.1 L671.8,709.8 L664.0,709.2Z" fill="#8b0000"/><path d="M671.8,709.8 L679.6,710.8 L686.8,709.1 L679.0,708.2Z" fill="#8b0000"/><path d="M686.8,709.1 L694.8,710.5 L701.9,709.4 L694.0,708.2Z" fill="#8b0000"/><path d="M701.9,709.4 L709.9,711.2 L716.9,710.6 L708.9,709.1Z" fill="#8b0000"/><path d="M731.9,712.8 L740.1,715.3 L746.9,715.9 L738.7,713.6Z" fill="#8b0000"/><path d="M746.9,715.9 L755.1,718.8 L761.8,720.0 L753.5,717.3Z" fill="#8c1905"/><path d="M761.8,720.0 L770.1,723.2 L776.6,724.9 L768.3,721.9Z" fill="#8f5511"/><path d="M494.5,789.1 L500.8,786.7 L508.8,777.7 L502.5,780.3Z" fill="#08517f"/><path d="M537.6,757.3 L544.4,755.7 L552.3,748.4 L545.5,750.3Z" fill="#23f02a"/><path d="M486.6,798.7 L492.8,796.6 L500.8,786.7 L494.5,789.1Z" fill="#000080"/><path d="M500.8,786.7 L507.2,784.8 L515.2,775.5 L508.8,777.7Z" fill="#0e867e"/><path d="M515.2,775.5 L521.8,773.9 L529.7,765.2 L523.1,767.1Z" fill="#1af072"/><path d="M529.7,765.2 L536.4,763.8 L544.4,755.7 L537.6,757.3Z" fill="#1df041"/><path d="M544.4,755.7 L551.2,754.5 L559.1,747.1 L552.3,748.4Z" fill="#32f12b"/><path d="M559.1,747.1 L566.1,746.2 L574.0,739.3 L567.0,740.4Z" fill="#58f32c"/><path d="M574.0,739.3 L581.1,738.7 L588.9,732.5 L581.8,733.3Z" fill="#7af52d"/><path d="M588.9,732.5 L596.2,732.2 L603.9,726.5 L596.7,727.1Z" fill="#8aae22"/><path d="M603.9,726.5 L611.3,726.5 L619.0,721.5 L611.6,721.8Z" fill="#916a15"/><path d="M619.0,721.5 L626.5,721.8 L634.1,717.5 L626.6,717.4Z" fill="#8d2908"/><path d="M634.1,717.5 L641.7,718.1 L649.3,714.3 L641.6,713.9Z" fill="#8b0000"/><path d="M649.3,714.3 L657.0,715.3 L664.4,712.1 L656.7,711.4Z" fill="#8b0000"/><path d="M664.4,712.1 L672.2,713.4 L679.6,710.8 L671.8,709.8Z" fill="#8b0000"/><path d="M679.6,710.8 L687.5,712.5 L694.8,710.5 L686.8,709.1Z" fill="#8b0000"/><path d="M694.8,710.5 L702.8,712.5 L709.9,711.2 L701.9,709.4Z" fill="#8b0000"/><path d="M709.9,711.2 L718.0,713.5 L725.1,712.8 L716.9,710.6Z" fill="#8b0000"/><path d="M725.1,712.8 L733.2,715.4 L740.1,715.3 L731.9,712.8Z" fill="#8b0000"/><path d="M740.1,715.3 L748.4,718.3 L755.1,718.8 L746.9,715.9Z" fill="#8b0000"/><path d="M755.1,718.8 L763.5,722.2 L770.1,723.2 L761.8,720.0Z" fill="#8d2d09"/><path d="M770.1,723.2 L778.5,726.9 L785.0,728.5 L776.6,724.9Z" fill="#916e16"/><path d="M492.8,796.6 L499.2,794.9 L507.2,784.8 L500.8,786.7Z" fill="#042680"/><path d="M536.4,763.8 L543.3,762.9 L551.2,754.5 L544.4,755.7Z" fill="#1ef032"/><path d="M581.1,738.7 L588.3,738.7 L596.2,732.2 L588.9,732.5Z" fill="#80e12a"/><path d="M596.2,732.2 L603.5,732.4 L611.3,726.5 L603.9,726.5Z" fill="#8e9a1e"/><path d="M611.3,726.5 L618.8,727.1 L626.5,721.8 L619.0,721.5Z" fill="#8f5611"/><path d="M657.0,715.3 L664.8,716.8 L672.2,713.4 L664.4,712.1Z" fill="#8b0000"/><path d="M672.2,713.4 L680.2,715.2 L687.5,712.5 L679.6,710.8Z" fill="#8b0000"/><path d="M687.5,712.5 L695.5,714.7 L702.8,712.5 L694.8,710.5Z" fill="#8b0000"/><path d="M702.8,712.5 L710.9,715.0 L718.0,713.5 L709.9,711.2Z" fill="#8b0000"/><path d="M733.2,715.4 L741.5,718.7 L748.4,718.3 L740.1,715.3Z" fill="#8b0000"/><path d="M748.4,718.3 L756.7,722.0 L763.5,722.2 L755.1,718.8Z" fill="#8c0f03"/><path d="M763.5,722.2 L771.9,726.2 L778.5,726.9 L770.1,723.2Z" fill="#8f480f"/><path d="M566.1,746.2 L573.2,745.8 L581.1,738.7 L574.0,739.3Z" fill="#64f42c"/><path d="M626.5,721.8 L634.1,722.7 L641.7,718.1 L634.1,717.5Z" fill="#8c1a05"/><path d="M507.2,784.8 L513.8,783.4 L521.8,773.9 L515.2,775.5Z" fill="#13b47e"/><path d="M521.8,773.9 L528.5,772.7 L536.4,763.8 L529.7,765.2Z" fill="#1bf061"/><path d="M551.2,754.5 L558.2,753.9 L566.1,746.2 L559.1,747.1Z" fill="#3ff22b"/><path d="M641.7,718.1 L649.4,719.3 L657.0,715.3 L649.3,714.3Z" fill="#8b0000"/><path d="M718.0,713.5 L726.2,716.4 L733.2,715.4 L725.1,712.8Z" fill="#8b0000"/><path d="M499.2,794.9 L505.7,793.8 L513.8,783.4 L507.2,784.8Z" fill="#09527f"/><path d="M528.5,772.7 L535.3,772.0 L543.3,762.9 L536.4,763.8Z" fill="#1cf053"/><path d="M543.3,762.9 L550.2,762.5 L558.2,753.9 L551.2,754.5Z" fill="#22f02a"/><path d="M588.3,738.7 L595.7,739.1 L603.5,732.4 L596.2,732.2Z" fill="#84ce27"/><path d="M603.5,732.4 L611.0,733.2 L618.8,727.1 L611.3,726.5Z" fill="#918b1c"/><path d="M664.8,716.8 L672.7,718.8 L680.2,715.2 L672.2,713.4Z" fill="#8b0000"/><path d="M680.2,715.2 L688.2,717.6 L695.5,714.7 L687.5,712.5Z" fill="#8b0000"/><path d="M695.5,714.7 L703.7,717.4 L710.9,715.0 L702.8,712.5Z" fill="#8b0000"/><path d="M741.5,718.7 L749.9,722.5 L756.7,722.0 L748.4,718.3Z" fill="#8b0000"/><path d="M756.7,722.0 L765.2,726.2 L771.9,726.2 L763.5,722.2Z" fill="#8d2d09"/><path d="M573.2,745.8 L580.4,746.0 L588.3,738.7 L581.1,738.7Z" fill="#6df42d"/><path d="M618.8,727.1 L626.4,728.2 L634.1,722.7 L626.5,721.8Z" fill="#8f490f"/><path d="M649.4,719.3 L657.2,721.0 L664.8,716.8 L657.0,715.3Z" fill="#8b0000"/><path d="M710.9,715.0 L719.1,718.2 L726.2,716.4 L718.0,713.5Z" fill="#8b0000"/><path d="M726.2,716.4 L734.5,719.9 L741.5,718.7 L733.2,715.4Z" fill="#8b0000"/><path d="M558.2,753.9 L565.3,753.8 L573.2,745.8 L566.1,746.2Z" fill="#4af22b"/><path d="M634.1,722.7 L641.8,724.1 L649.4,719.3 L641.7,718.1Z" fill="#8c1204"/><path d="M513.8,783.4 L520.4,782.5 L528.5,772.7 L521.8,773.9Z" fill="#17dd7d"/><path d="M595.7,739.1 L603.1,740.1 L611.0,733.2 L603.5,732.4Z" fill="#86c225"/><path d="M672.7,718.8 L680.7,721.5 L688.2,717.6 L680.2,715.2Z" fill="#8b0000"/><path d="M688.2,717.6 L696.3,720.6 L703.7,717.4 L695.5,714.7Z" fill="#8b0000"/><path d="M749.9,722.5 L758.3,727.0 L765.2,726.2 L756.7,722.0Z" fill="#8c1d06"/><path d="M550.2,762.5 L557.3,762.6 L565.3,753.8 L558.2,753.9Z" fill="#2cf12a"/><path d="M580.4,746.0 L587.7,746.7 L595.7,739.1 L588.3,738.7Z" fill="#73f52d"/><path d="M611.0,733.2 L618.6,734.5 L626.4,728.2 L618.8,727.1Z" fill="#92821a"/><path d="M505.7,793.8 L512.4,793.1 L520.4,782.5 L513.8,783.4Z" fill="#0d787e"/><path d="M520.4,782.5 L527.2,782.0 L535.3,772.0 L528.5,772.7Z" fill="#19f077"/><path d="M535.3,772.0 L542.2,771.9 L550.2,762.5 L543.3,762.9Z" fill="#1cf047"/><path d="M657.2,721.0 L665.1,723.3 L672.7,718.8 L664.8,716.8Z" fill="#8b0000"/><path d="M703.7,717.4 L711.9,720.8 L719.1,718.2 L710.9,715.0Z" fill="#8b0000"/><path d="M719.1,718.2 L727.4,721.9 L734.5,719.9 L726.2,716.4Z" fill="#8b0000"/><path d="M734.5,719.9 L742.9,723.9 L749.9,722.5 L741.5,718.7Z" fill="#8b0000"/><path d="M565.3,753.8 L572.5,754.2 L580.4,746.0 L573.2,745.8Z" fill="#52f32c"/><path d="M626.4,728.2 L634.1,729.8 L641.8,724.1 L634.1,722.7Z" fill="#8f430e"/><path d="M641.8,724.1 L649.6,726.1 L657.2,721.0 L649.4,719.3Z" fill="#8c1103"/><path d="M512.4,793.1 L519.1,792.9 L527.2,782.0 L520.4,782.5Z" fill="#10987e"/><path d="M680.7,721.5 L688.8,724.7 L696.3,720.6 L688.2,717.6Z" fill="#8b0000"/><path d="M557.3,762.6 L564.4,763.2 L572.5,754.2 L565.3,753.8Z" fill="#33f12b"/><path d="M587.7,746.7 L595.2,747.9 L603.1,740.1 L595.7,739.1Z" fill="#77f52d"/><path d="M603.1,740.1 L610.7,741.7 L618.6,734.5 L611.0,733.2Z" fill="#87bb24"/><path d="M665.1,723.3 L673.2,726.2 L680.7,721.5 L672.7,718.8Z" fill="#8b0000"/><path d="M696.3,720.6 L704.5,724.2 L711.9,720.8 L703.7,717.4Z" fill="#8b0000"/><path d="M711.9,720.8 L720.2,724.7 L727.4,721.9 L719.1,718.2Z" fill="#8b0000"/><path d="M727.4,721.9 L735.8,726.1 L742.9,723.9 L734.5,719.9Z" fill="#8b0000"/><path d="M742.9,723.9 L751.3,728.6 L758.3,727.0 L749.9,722.5Z" fill="#8c1705"/><path d="M542.2,771.9 L549.2,772.3 L557.3,762.6 L550.2,762.5Z" fill="#1df03e"/><path d="M572.5,754.2 L579.8,755.1 L587.7,746.7 L580.4,746.0Z" fill="#57f32c"/><path d="M618.6,734.5 L626.2,736.4 L634.1,729.8 L626.4,728.2Z" fill="#927f1a"/><path d="M634.1,729.8 L641.8,732.0 L649.6,726.1 L641.8,724.1Z" fill="#8f450e"/><path d="M649.6,726.1 L657.5,728.6 L665.1,723.3 L657.2,721.0Z" fill="#8c1805"/><path d="M527.2,782.0 L534.1,782.2 L542.2,771.9 L535.3,772.0Z" fill="#1af06d"/><path d="M564.4,763.2 L571.7,764.4 L579.8,755.1 L572.5,754.2Z" fill="#38f12b"/><path d="M519.1,792.9 L526.0,793.3 L534.1,782.2 L527.2,782.0Z" fill="#12b17e"/><path d="M549.2,772.3 L556.3,773.2 L564.4,763.2 L557.3,762.6Z" fill="#1df038"/><path d="M579.8,755.1 L587.2,756.6 L595.2,747.9 L587.7,746.7Z" fill="#5bf32c"/><path d="M595.2,747.9 L602.7,749.7 L610.7,741.7 L603.1,740.1Z" fill="#79f52d"/><path d="M610.7,741.7 L618.3,743.8 L626.2,736.4 L618.6,734.5Z" fill="#88bb24"/><path d="M626.2,736.4 L634.0,738.8 L641.8,732.0 L634.1,729.8Z" fill="#92831a"/><path d="M641.8,732.0 L649.7,734.8 L657.5,728.6 L649.6,726.1Z" fill="#8f4e10"/><path d="M657.5,728.6 L665.5,731.7 L673.2,726.2 L665.1,723.3Z" fill="#8d2508"/><path d="M673.2,726.2 L681.3,729.6 L688.8,724.7 L680.7,721.5Z" fill="#8b0a02"/><path d="M688.8,724.7 L697.0,728.5 L704.5,724.2 L696.3,720.6Z" fill="#8b0000"/><path d="M704.5,724.2 L712.8,728.4 L720.2,724.7 L711.9,720.8Z" fill="#8b0000"/><path d="M720.2,724.7 L728.5,729.2 L735.8,726.1 L727.4,721.9Z" fill="#8b0401"/><path d="M735.8,726.1 L744.2,731.0 L751.3,728.6 L742.9,723.9Z" fill="#8c1c06"/><path d="M534.1,782.2 L541.1,782.8 L549.2,772.3 L542.2,771.9Z" fill="#1af064"/><path d="M571.7,764.4 L579.1,766.2 L587.2,756.6 L579.8,755.1Z" fill="#3af22b"/><path d="M697.0,728.5 L705.3,732.9 L712.8,728.4 L704.5,724.2Z" fill="#8c1905"/><path d="M712.8,728.4 L721.2,733.1 L728.5,729.2 L720.2,724.7Z" fill="#8c1c06"/><path d="M728.5,729.2 L737.0,734.3 L744.2,731.0 L735.8,726.1Z" fill="#8d2c09"/><path d="M526.0,793.3 L533.0,794.2 L541.1,782.8 L534.1,782.2Z" fill="#14c47e"/><path d="M541.1,782.8 L548.2,784.0 L556.3,773.2 L549.2,772.3Z" fill="#1bf05f"/><path d="M556.3,773.2 L563.6,774.6 L571.7,764.4 L564.4,763.2Z" fill="#1df033"/><path d="M587.2,756.6 L594.7,758.7 L602.7,749.7 L595.2,747.9Z" fill="#5bf32c"/><path d="M602.7,749.7 L610.4,752.1 L618.3,743.8 L610.7,741.7Z" fill="#78f52d"/><path d="M618.3,743.8 L626.1,746.5 L634.0,738.8 L626.2,736.4Z" fill="#86c024"/><path d="M634.0,738.8 L641.9,741.8 L649.7,734.8 L641.8,732.0Z" fill="#918d1c"/><path d="M649.7,734.8 L657.7,738.1 L665.5,731.7 L657.5,728.6Z" fill="#905e13"/><path d="M665.5,731.7 L673.6,735.4 L681.3,729.6 L673.2,726.2Z" fill="#8e3a0c"/><path d="M681.3,729.6 L689.5,733.7 L697.0,728.5 L688.8,724.7Z" fill="#8d2307"/><path d="M533.0,794.2 L540.1,795.7 L548.2,784.0 L541.1,782.8Z" fill="#16d07d"/><path d="M563.6,774.6 L571.0,776.7 L579.1,766.2 L571.7,764.4Z" fill="#1ef032"/><path d="M579.1,766.2 L586.6,768.5 L594.7,758.7 L587.2,756.6Z" fill="#3af22b"/><path d="M626.1,746.5 L634.0,749.8 L641.9,741.8 L634.0,738.8Z" fill="#84cc26"/><path d="M641.9,741.8 L649.9,745.5 L657.7,738.1 L649.7,734.8Z" fill="#8d9d1f"/><path d="M657.7,738.1 L665.8,742.1 L673.6,735.4 L665.5,731.7Z" fill="#917518"/><path d="M705.3,732.9 L713.7,737.9 L721.2,733.1 L712.8,728.4Z" fill="#8e3f0d"/><path d="M721.2,733.1 L729.7,738.5 L737.0,734.3 L728.5,729.2Z" fill="#8f460e"/><path d="M610.4,752.1 L618.1,755.1 L626.1,746.5 L618.3,743.8Z" fill="#75f52d"/><path d="M689.5,733.7 L697.8,738.3 L705.3,732.9 L697.0,728.5Z" fill="#8f440e"/><path d="M548.2,784.0 L555.5,785.7 L563.6,774.6 L556.3,773.2Z" fill="#1bf05b"/><path d="M594.7,758.7 L602.3,761.3 L610.4,752.1 L602.7,749.7Z" fill="#5af32c"/><path d="M673.6,735.4 L681.8,739.7 L689.5,733.7 L681.3,729.6Z" fill="#905611"/><path d="M713.7,737.9 L722.2,743.6 L729.7,738.5 L721.2,733.1Z" fill="#916b16"/><path d="M540.1,795.7 L547.3,797.7 L555.5,785.7 L548.2,784.0Z" fill="#16d67d"/><path d="M555.5,785.7 L562.8,788.0 L571.0,776.7 L563.6,774.6Z" fill="#1bf05b"/><path d="M571.0,776.7 L578.5,779.3 L586.6,768.5 L579.1,766.2Z" fill="#1df033"/><path d="M586.6,768.5 L594.2,771.4 L602.3,761.3 L594.7,758.7Z" fill="#38f12b"/><path d="M618.1,755.1 L626.0,758.6 L634.0,749.8 L626.1,746.5Z" fill="#70f42d"/><path d="M634.0,749.8 L642.0,753.7 L649.9,745.5 L641.9,741.8Z" fill="#81de29"/><path d="M649.9,745.5 L658.0,749.7 L665.8,742.1 L657.7,738.1Z" fill="#89b222"/><path d="M665.8,742.1 L674.0,746.7 L681.8,739.7 L673.6,735.4Z" fill="#90921d"/><path d="M681.8,739.7 L690.1,744.6 L697.8,738.3 L689.5,733.7Z" fill="#917a19"/><path d="M697.8,738.3 L706.2,743.6 L713.7,737.9 L705.3,732.9Z" fill="#916c16"/><path d="M602.3,761.3 L610.1,764.6 L618.1,755.1 L610.4,752.1Z" fill="#56f32c"/><path d="M547.3,797.7 L554.6,800.3 L562.8,788.0 L555.5,785.7Z" fill="#16d67d"/><path d="M642.0,753.7 L650.1,758.2 L658.0,749.7 L649.9,745.5Z" fill="#7cf52d"/><path d="M594.2,771.4 L602.0,775.0 L610.1,764.6 L602.3,761.3Z" fill="#33f12b"/><path d="M626.0,758.6 L634.0,762.8 L642.0,753.7 L634.0,749.8Z" fill="#68f42c"/><path d="M706.2,743.6 L714.6,749.5 L722.2,743.6 L713.7,737.9Z" fill="#8e981e"/><path d="M562.8,788.0 L570.3,790.9 L578.5,779.3 L571.0,776.7Z" fill="#1bf05c"/><path d="M578.5,779.3 L586.1,782.5 L594.2,771.4 L586.6,768.5Z" fill="#1df036"/><path d="M610.1,764.6 L617.9,768.4 L626.0,758.6 L618.1,755.1Z" fill="#50f32c"/><path d="M658.0,749.7 L666.2,754.5 L674.0,746.7 L665.8,742.1Z" fill="#84ce27"/><path d="M674.0,746.7 L682.3,751.9 L690.1,744.6 L681.8,739.7Z" fill="#89b122"/><path d="M690.1,744.6 L698.5,750.2 L706.2,743.6 L697.8,738.3Z" fill="#8d9f1f"/><path d="M554.6,800.3 L562.0,803.4 L570.3,790.9 L562.8,788.0Z" fill="#16d07d"/><path d="M586.1,782.5 L593.8,786.2 L602.0,775.0 L594.2,771.4Z" fill="#1df03c"/><path d="M602.0,775.0 L609.8,779.1 L617.9,768.4 L610.1,764.6Z" fill="#2cf12a"/><path d="M617.9,768.4 L625.9,772.8 L634.0,762.8 L626.0,758.6Z" fill="#47f22b"/><path d="M634.0,762.8 L642.0,767.6 L650.1,758.2 L642.0,753.7Z" fill="#5ef32c"/><path d="M650.1,758.2 L658.2,763.3 L666.2,754.5 L658.0,749.7Z" fill="#70f42d"/><path d="M666.2,754.5 L674.5,760.0 L682.3,751.9 L674.0,746.7Z" fill="#7def2c"/><path d="M682.3,751.9 L690.7,757.7 L698.5,750.2 L690.1,744.6Z" fill="#82d728"/><path d="M698.5,750.2 L707.0,756.3 L714.6,749.5 L706.2,743.6Z" fill="#85c826"/><path d="M570.3,790.9 L577.9,794.4 L586.1,782.5 L578.5,779.3Z" fill="#1bf060"/><path d="M562.0,803.4 L569.6,807.2 L577.9,794.4 L570.3,790.9Z" fill="#14c37e"/><path d="M577.9,794.4 L585.5,798.4 L593.8,786.2 L586.1,782.5Z" fill="#1af067"/><path d="M593.8,786.2 L601.6,790.6 L609.8,779.1 L602.0,775.0Z" fill="#1cf044"/><path d="M609.8,779.1 L617.7,783.8 L625.9,772.8 L617.9,768.4Z" fill="#23f02a"/><path d="M625.9,772.8 L633.9,777.9 L642.0,767.6 L634.0,762.8Z" fill="#3cf22b"/><path d="M642.0,767.6 L650.2,772.9 L658.2,763.3 L650.1,758.2Z" fill="#51f32c"/><path d="M658.2,763.3 L666.5,769.0 L674.5,760.0 L666.2,754.5Z" fill="#62f42c"/><path d="M674.5,760.0 L682.8,766.0 L690.7,757.7 L682.3,751.9Z" fill="#6ff42d"/><path d="M690.7,757.7 L699.2,764.1 L707.0,756.3 L698.5,750.2Z" fill="#77f52d"/><path d="M617.7,783.8 L625.8,789.1 L633.9,777.9 L625.9,772.8Z" fill="#1ef032"/><path d="M666.5,769.0 L674.9,775.4 L682.8,766.0 L674.5,760.0Z" fill="#51f32c"/><path d="M682.8,766.0 L691.3,772.8 L699.2,764.1 L690.7,757.7Z" fill="#5cf32c"/><path d="M569.6,807.2 L577.3,811.6 L585.5,798.4 L577.9,794.4Z" fill="#12b07e"/><path d="M585.5,798.4 L593.3,803.1 L601.6,790.6 L593.8,786.2Z" fill="#1af070"/><path d="M601.6,790.6 L609.5,795.6 L617.7,783.8 L609.8,779.1Z" fill="#1cf04f"/><path d="M633.9,777.9 L642.1,783.5 L650.2,772.9 L642.0,767.6Z" fill="#2ff12b"/><path d="M650.2,772.9 L658.5,778.9 L666.5,769.0 L658.2,763.3Z" fill="#42f22b"/><path d="M577.3,811.6 L585.0,816.5 L593.3,803.1 L585.5,798.4Z" fill="#10967e"/><path d="M609.5,795.6 L617.5,801.2 L625.8,789.1 L617.7,783.8Z" fill="#1bf05c"/><path d="M625.8,789.1 L633.9,795.0 L642.1,783.5 L633.9,777.9Z" fill="#1df040"/><path d="M658.5,778.9 L666.8,785.6 L674.9,775.4 L666.5,769.0Z" fill="#31f12b"/><path d="M674.9,775.4 L683.3,782.4 L691.3,772.8 L682.8,766.0Z" fill="#3ef22b"/><path d="M593.3,803.1 L601.2,808.4 L609.5,795.6 L601.6,790.6Z" fill="#19f07c"/><path d="M642.1,783.5 L650.3,789.8 L658.5,778.9 L650.2,772.9Z" fill="#1ff02a"/><path d="M585.0,816.5 L592.9,822.1 L601.2,808.4 L593.3,803.1Z" fill="#0c767f"/><path d="M633.9,795.0 L642.1,801.6 L650.3,789.8 L642.1,783.5Z" fill="#1cf052"/><path d="M666.8,785.6 L675.3,792.9 L683.3,782.4 L674.9,775.4Z" fill="#1ef02b"/><path d="M601.2,808.4 L609.2,814.3 L617.5,801.2 L609.5,795.6Z" fill="#16cf7d"/><path d="M617.5,801.2 L625.7,807.5 L633.9,795.0 L625.8,789.1Z" fill="#1af06c"/><path d="M650.3,789.8 L658.7,796.8 L666.8,785.6 L658.5,778.9Z" fill="#1df03c"/><path d="M592.9,822.1 L600.9,828.3 L609.2,814.3 L601.2,808.4Z" fill="#08507f"/><path d="M625.7,807.5 L633.9,814.4 L642.1,801.6 L633.9,795.0Z" fill="#19ee7d"/><path d="M642.1,801.6 L650.5,808.9 L658.7,796.8 L650.3,789.8Z" fill="#1af065"/><path d="M658.7,796.8 L667.1,804.3 L675.3,792.9 L666.8,785.6Z" fill="#1cf052"/><path d="M609.2,814.3 L617.4,820.9 L625.7,807.5 L617.5,801.2Z" fill="#11a57e"/><path d="M600.9,828.3 L609.0,835.2 L617.4,820.9 L609.2,814.3Z" fill="#042480"/><path d="M617.4,820.9 L625.6,828.1 L633.9,814.4 L625.7,807.5Z" fill="#0c747f"/><path d="M633.9,814.4 L642.2,821.9 L650.5,808.9 L642.1,801.6Z" fill="#13b97e"/><path d="M650.5,808.9 L658.9,816.7 L667.1,804.3 L658.7,796.8Z" fill="#19f07c"/><path d="M609.0,835.2 L617.2,842.7 L625.6,828.1 L617.4,820.9Z" fill="#000080"/><path d="M625.6,828.1 L633.9,835.9 L642.2,821.9 L633.9,814.4Z" fill="#063d7f"/><path d="M642.2,821.9 L650.6,830.1 L658.9,816.7 L650.5,808.9Z" fill="#0d7e7e"/><path d="M617.2,842.7 L625.4,850.8 L633.9,835.9 L625.6,828.1Z" fill="#000080"/><path d="M633.9,835.9 L642.2,844.4 L650.6,830.1 L642.2,821.9Z" fill="#000080"/><path d="M625.4,850.8 L633.8,859.6 L642.2,844.4 L633.9,835.9Z" fill="#000080"/></g>
<circle cx="482.1" cy="702.9" r="1.3" fill="#111"/>
<text x="476.3" y="702.1" font-size="10" text-anchor="end" font-family="Liberation Sans, sans-serif" fill="#111">100</text>
<circle cx="483.5" cy="732.2" r="1.3" fill="#111"/>
<text x="477.7" y="731.4" font-size="10" text-anchor="end" font-family="Liberation Sans, sans-serif" fill="#111">80</text>
<circle cx="484.8" cy="761.5" r="1.3" fill="#111"/>
<text x="479.0" y="760.7" font-size="10" text-anchor="end" font-family="Liberation Sans, sans-serif" fill="#111">60</text>
<circle cx="486.2" cy="790.8" r="1.3" fill="#111"/>
<text x="480.4" y="790.0" font-size="10" text-anchor="end" font-family="Liberation Sans, sans-serif" fill="#111">40</text>
<circle cx="487.6" cy="820.1" r="1.3" fill="#111"/>
<text x="481.8" y="819.3" font-size="10" text-anchor="end" font-family="Liberation Sans, sans-serif" fill="#111">20</text>
<circle cx="488.9" cy="849.4" r="1.3" fill="#111"/>
<text x="483.1" y="848.6" font-size="10" text-anchor="end" font-family="Liberation Sans, sans-serif" fill="#111">0</text>
<circle cx="491.1" cy="896.1" r="1.3" fill="#111"/>
<text x="485.6" y="903.2" font-size="10" text-anchor="end" font-family="Liberation Sans, sans-serif" fill="#111">1</text>
<circle cx="526.8" cy="912.8" r="1.3" fill="#111"/>
<text x="519.8" y="922.7" font-size="10" text-anchor="end" font-family="Liberation Sans, sans-serif" fill="#111">0.5</text>
<circle cx="562.5" cy="929.5" r="1.3" fill="#111"/>
<text x="556.0" y="938.9" font-size="10" text-anchor="end" font-family="Liberation Sans, sans-serif" fill="#111">0</text>
<circle cx="598.2" cy="946.3" r="1.3" fill="#111"/>
<text x="592.2" y="956.2" font-size="10" text-anchor="end" font-family="Liberation Sans, sans-serif" fill="#111">-0.5</text>
<circle cx="633.9" cy="963.0" r="1.3" fill="#111"/>
<text x="629.2" y="972.4" font-size="10" text-anchor="end" font-family="Liberation Sans, sans-serif" fill="#111">-1</text>
<circle cx="633.9" cy="963.0" r="1.3" fill="#111"/>
<text x="638.4" y="972.4" font-size="10" text-anchor="start" font-family="Liberation Sans, sans-serif" fill="#111">-1</text>
<circle cx="669.5" cy="946.2" r="1.3" fill="#111"/>
<text x="675.5" y="955.1" font-size="10" text-anchor="start" font-family="Liberation Sans, sans-serif" fill="#111">-0.5</text>
<circle cx="705.1" cy="929.5" r="1.3" fill="#111"/>
<text x="711.6" y="938.4" font-size="10" text-anchor="start" font-family="Liberation Sans, sans-serif" fill="#111">0</text>
<circle cx="740.8" cy="912.8" r="1.3" fill="#111"/>
<text x="746.8" y="921.1" font-size="10" text-anchor="start" font-family="Liberation Sans, sans-serif" fill="#111">0.5</text>
<circle cx="776.4" cy="896.0" r="1.3" fill="#111"/>
<text x="782.4" y="901.9" font-size="10" text-anchor="start" font-family="Liberation Sans, sans-serif" fill="#111">1</text>
<text transform="translate(441.8,803) rotate(-90) scale(0.92,1)" font-size="14.8" text-anchor="middle" font-family="Liberation Sans, sans-serif" fill="#111">%R-TMP</text>
<text x="507.5" y="961" font-size="13.5" text-anchor="middle" font-family="Liberation Sans, sans-serif" fill="#111">D</text>
<text x="760.5" y="961" font-size="13.5" text-anchor="middle" font-family="Liberation Sans, sans-serif" fill="#111">B</text>
</svg></body></html>
